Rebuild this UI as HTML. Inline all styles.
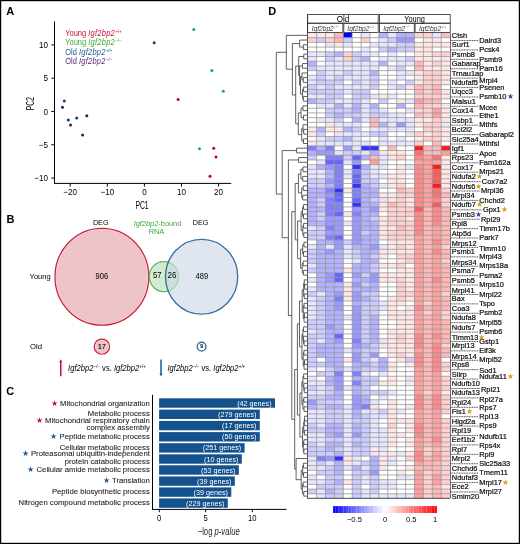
<!DOCTYPE html>
<html><head><meta charset="utf-8"><style>
html,body{margin:0;padding:0;background:#fff;}
svg{display:block;}
text{font-family:"Liberation Sans", sans-serif;}
</style></head><body>
<svg style="will-change:transform" width="520" height="544" viewBox="0 0 520 544" font-family='"Liberation Sans", sans-serif'>
<rect width="520" height="544" fill="#fff"/>
<rect x="0.6" y="0.6" width="518.8" height="542.8" fill="none" stroke="#000" stroke-width="1.2"/>
<text x="6.30" y="14.60" font-size="11" fill="#000" font-weight="bold">A</text>
<text x="6.60" y="223.30" font-size="11" fill="#000" font-weight="bold">B</text>
<text x="6.20" y="394.80" font-size="11" fill="#000" font-weight="bold">C</text>
<text x="268.20" y="14.60" font-size="11" fill="#000" font-weight="bold">D</text>
<line x1="54.50" y1="21.30" x2="54.50" y2="183.90" stroke="#000" stroke-width="1" />
<line x1="54.00" y1="183.40" x2="231.20" y2="183.40" stroke="#000" stroke-width="1" />
<line x1="51.30" y1="44.90" x2="54.50" y2="44.90" stroke="#000" stroke-width="1" />
<text x="0" y="0" font-size="9.0" transform="translate(48.00,48.00) scale(0.9,1)" text-anchor="end">10</text>
<line x1="51.30" y1="78.18" x2="54.50" y2="78.18" stroke="#000" stroke-width="1" />
<text x="0" y="0" font-size="9.0" transform="translate(48.00,81.28) scale(0.9,1)" text-anchor="end">5</text>
<line x1="51.30" y1="111.45" x2="54.50" y2="111.45" stroke="#000" stroke-width="1" />
<text x="0" y="0" font-size="9.0" transform="translate(48.00,114.55) scale(0.9,1)" text-anchor="end">0</text>
<line x1="51.30" y1="144.72" x2="54.50" y2="144.72" stroke="#000" stroke-width="1" />
<text x="0" y="0" font-size="9.0" transform="translate(48.00,147.82) scale(0.9,1)" text-anchor="end">−5</text>
<line x1="51.30" y1="178.00" x2="54.50" y2="178.00" stroke="#000" stroke-width="1" />
<text x="0" y="0" font-size="9.0" transform="translate(48.00,181.10) scale(0.9,1)" text-anchor="end">−10</text>
<line x1="70.20" y1="183.40" x2="70.20" y2="186.60" stroke="#000" stroke-width="1" />
<text x="0" y="0" font-size="9.0" transform="translate(70.20,195.40) scale(0.9,1)" text-anchor="middle">−20</text>
<line x1="107.30" y1="183.40" x2="107.30" y2="186.60" stroke="#000" stroke-width="1" />
<text x="0" y="0" font-size="9.0" transform="translate(107.30,195.40) scale(0.9,1)" text-anchor="middle">−10</text>
<line x1="144.40" y1="183.40" x2="144.40" y2="186.60" stroke="#000" stroke-width="1" />
<text x="0" y="0" font-size="9.0" transform="translate(144.40,195.40) scale(0.9,1)" text-anchor="middle">0</text>
<line x1="181.50" y1="183.40" x2="181.50" y2="186.60" stroke="#000" stroke-width="1" />
<text x="0" y="0" font-size="9.0" transform="translate(181.50,195.40) scale(0.9,1)" text-anchor="middle">10</text>
<line x1="218.60" y1="183.40" x2="218.60" y2="186.60" stroke="#000" stroke-width="1" />
<text x="0" y="0" font-size="9.0" transform="translate(218.60,195.40) scale(0.9,1)" text-anchor="middle">20</text>
<text x="0" y="0" font-size="10" transform="translate(142.00,208.80) scale(0.68,1)" text-anchor="middle">PC1</text>
<text x="0" y="0" font-size="10" transform="translate(33.90,103.60) rotate(-90) scale(0.68,1)" text-anchor="middle">PC2</text>
<text x="0" y="0" transform="translate(65.2,35.60) scale(0.88,1)" font-size="8.5" fill="#c8102e">Young <tspan font-style="italic" letter-spacing="0.3">Igf2bp2</tspan><tspan font-size="4.8" dx="0.5" dy="-3.0">+/+</tspan></text>
<text x="0" y="0" transform="translate(65.2,45.10) scale(0.88,1)" font-size="8.5" fill="#3aaa35">Young <tspan font-style="italic" letter-spacing="0.3">Igf2bp2</tspan><tspan font-size="4.8" dx="0.5" dy="-3.0">−/−</tspan></text>
<text x="0" y="0" transform="translate(65.2,54.60) scale(0.88,1)" font-size="8.5" fill="#1c5a9c">Old <tspan font-style="italic" letter-spacing="0.3">Igf2bp2</tspan><tspan font-size="4.8" dx="0.5" dy="-3.0">+/+</tspan></text>
<text x="0" y="0" transform="translate(65.2,64.10) scale(0.88,1)" font-size="8.5" fill="#5f2479">Old <tspan font-style="italic" letter-spacing="0.3">Igf2bp2</tspan><tspan font-size="4.8" dx="0.5" dy="-3.0">−/−</tspan></text>
<circle cx="154.2" cy="42.7" r="1.5" fill="#0b3f7f"/>
<circle cx="64.3" cy="100.9" r="1.5" fill="#0b3f7f"/>
<circle cx="68.3" cy="120" r="1.5" fill="#0b3f7f"/>
<circle cx="76.7" cy="118.1" r="1.5" fill="#0b3f7f"/>
<circle cx="62.5" cy="107.3" r="1.5" fill="#4a0c5c"/>
<circle cx="86.8" cy="115.8" r="1.5" fill="#4a0c5c"/>
<circle cx="70.5" cy="124.9" r="1.5" fill="#4a0c5c"/>
<circle cx="82.6" cy="135" r="1.5" fill="#4a0c5c"/>
<circle cx="193.8" cy="29.4" r="1.5" fill="#1fae3a"/>
<circle cx="211.9" cy="70.6" r="1.5" fill="#1fae3a"/>
<circle cx="223.3" cy="91.2" r="1.5" fill="#1fae3a"/>
<circle cx="199.5" cy="148.7" r="1.5" fill="#1fae3a"/>
<circle cx="178.1" cy="99.6" r="1.5" fill="#c8001e"/>
<circle cx="213.7" cy="148.3" r="1.5" fill="#c8001e"/>
<circle cx="216" cy="156.9" r="1.5" fill="#c8001e"/>
<circle cx="210" cy="176.2" r="1.5" fill="#c8001e"/>
<text x="0" y="0" font-size="8.0" transform="translate(100.70,224.50) scale(0.9,1)" text-anchor="middle">DEG</text>
<text x="0" y="0" font-size="8.0" transform="translate(200.50,225.10) scale(0.9,1)" text-anchor="middle">DEG</text>
<text x="157.5" y="225.9" font-size="7.4" text-anchor="middle" fill="#3aaa35"><tspan font-style="italic">Igf2bp2</tspan>-bound</text>
<text x="156.50" y="234.10" font-size="7.4" text-anchor="middle" fill="#3aaa35">RNA</text>
<ellipse cx="101.9" cy="276.75" rx="45.95" ry="47.50" fill="#efc3ca"/>
<ellipse cx="101.9" cy="276.75" rx="46.90" ry="48.45" fill="none" stroke="#c8233c" stroke-width="1.3"/>
<ellipse cx="163.9" cy="276.6" rx="13.55" ry="14.10" fill="#d3ebd1"/>
<ellipse cx="163.9" cy="276.6" rx="14.50" ry="15.05" fill="none" stroke="#5dbb63" stroke-width="1.2"/>
<ellipse cx="201.6" cy="276.75" rx="35.15" ry="36.40" fill="#dfe6ef"/>
<clipPath id="gc"><ellipse cx="163.9" cy="276.6" rx="13.55" ry="14.10" /></clipPath>
<ellipse cx="201.6" cy="276.75" rx="35.15" ry="36.40" fill="#cbe0d9" clip-path="url(#gc)"/>
<ellipse cx="163.9" cy="276.6" rx="14.50" ry="15.05" fill="none" stroke="#5dbb63" stroke-width="1.2" stroke-opacity="0.5"/>
<ellipse cx="201.6" cy="276.75" rx="36.10" ry="37.35" fill="none" stroke="#3b6fa0" stroke-width="1.4"/>
<text x="0" y="0" font-size="8.4" transform="translate(101.80,279.40) scale(0.9,1)" text-anchor="middle">906</text>
<text x="0" y="0" font-size="8.4" transform="translate(157.30,277.90) scale(0.92,1)" text-anchor="middle">57</text>
<text x="0" y="0" font-size="8.4" transform="translate(171.90,277.90) scale(0.95,1)" text-anchor="middle">26</text>
<text x="0" y="0" font-size="8.4" transform="translate(201.80,279.40) scale(0.9,1)" text-anchor="middle">489</text>
<text x="29.60" y="278.90" font-size="7.5" textLength="21.1" lengthAdjust="spacingAndGlyphs">Young</text>
<text x="30.00" y="348.90" font-size="7.5" textLength="12.0" lengthAdjust="spacingAndGlyphs">Old</text>
<ellipse cx="101.9" cy="346.65" rx="6.80" ry="6.70" fill="#efc3ca"/>
<ellipse cx="101.9" cy="346.65" rx="7.70" ry="7.60" fill="none" stroke="#c8233c" stroke-width="1.2"/>
<text x="0" y="0" transform="translate(101.9,349.0) scale(0.92,1)" font-size="7.4" text-anchor="middle" stroke="#231f20" stroke-width="0.2">17</text>
<ellipse cx="201.6" cy="346.65" rx="4.40" ry="4.40" fill="#fff" stroke="#3b6fa0" stroke-width="1.4"/>
<text x="201.6" y="348.4" font-size="5.2" text-anchor="middle" stroke="#231f20" stroke-width="0.2">9</text>
<line x1="60.75" y1="361.50" x2="60.75" y2="376.20" stroke="#c8102e" stroke-width="1.5" />
<path d="M59.2,362.2 L60.75,359.2 L62.3,362.2 Z" fill="#c8102e"/>
<line x1="161.00" y1="359.50" x2="161.00" y2="374.00" stroke="#1c5a9c" stroke-width="1.5" />
<path d="M159.45,373.4 L161,376.4 L162.55,373.4 Z" fill="#1c5a9c"/>
<text x="0" y="0" transform="translate(68.1,370.6) scale(0.925,1)" font-size="8.2"><tspan font-style="italic">Igf2bp2</tspan><tspan font-size="4.8" dx="0.3" dy="-3.1">−/−</tspan><tspan dy="3.1"> vs. </tspan><tspan font-style="italic">Igf2bp2</tspan><tspan font-size="4.8" dx="0.3" dy="-3.1">+/+</tspan></text>
<text x="0" y="0" transform="translate(167.5,370.6) scale(0.925,1)" font-size="8.2"><tspan font-style="italic">Igf2bp2</tspan><tspan font-size="4.8" dx="0.3" dy="-3.1">−/−</tspan><tspan dy="3.1"> vs. </tspan><tspan font-style="italic">Igf2bp2</tspan><tspan font-size="4.8" dx="0.3" dy="-3.1">+/+</tspan></text>
<line x1="152.50" y1="394.80" x2="152.50" y2="509.60" stroke="#000" stroke-width="1" />
<line x1="152.00" y1="509.40" x2="286.60" y2="509.40" stroke="#000" stroke-width="1" />
<line x1="159.25" y1="509.40" x2="159.25" y2="512.20" stroke="#000" stroke-width="1" />
<text x="0" y="0" font-size="9.6" transform="translate(159.25,521.30) scale(0.8,1)" text-anchor="middle">0</text>
<line x1="205.60" y1="509.40" x2="205.60" y2="512.20" stroke="#000" stroke-width="1" />
<text x="0" y="0" font-size="9.6" transform="translate(205.60,521.30) scale(0.8,1)" text-anchor="middle">5</text>
<line x1="252.30" y1="509.40" x2="252.30" y2="512.20" stroke="#000" stroke-width="1" />
<text x="0" y="0" font-size="9.6" transform="translate(252.30,521.30) scale(0.8,1)" text-anchor="middle">10</text>
<text x="0" y="0" font-size="10.4" text-anchor="middle" transform="translate(218.7,535.2) scale(0.74,1)" fill="#231f20">−log <tspan font-style="italic">p-value</tspan></text>
<rect x="159.1" y="398.3" width="115.90" height="9.4" fill="#14528e"/>
<text x="271.60" y="405.50" font-size="7.2" text-anchor="end" fill="#fff">(42 genes)</text>
<rect x="159.1" y="409.6" width="100.70" height="9.4" fill="#14528e"/>
<text x="256.40" y="416.80" font-size="7.2" text-anchor="end" fill="#fff">(279 genes)</text>
<rect x="159.1" y="420.9" width="100.70" height="9.4" fill="#14528e"/>
<text x="256.40" y="428.10" font-size="7.2" text-anchor="end" fill="#fff">(17 genes)</text>
<rect x="159.1" y="432.1" width="100.70" height="9.4" fill="#14528e"/>
<text x="256.40" y="439.30" font-size="7.2" text-anchor="end" fill="#fff">(50 genes)</text>
<rect x="159.1" y="443.2" width="85.50" height="9.4" fill="#14528e"/>
<text x="241.20" y="450.40" font-size="7.2" text-anchor="end" fill="#fff">(251 genes)</text>
<rect x="159.1" y="454.3" width="82.70" height="9.4" fill="#14528e"/>
<text x="238.40" y="461.50" font-size="7.2" text-anchor="end" fill="#fff">(10 genes)</text>
<rect x="159.1" y="465.3" width="79.70" height="9.4" fill="#14528e"/>
<text x="235.40" y="472.50" font-size="7.2" text-anchor="end" fill="#fff">(53 genes)</text>
<rect x="159.1" y="476.4" width="75.70" height="9.4" fill="#14528e"/>
<text x="231.40" y="483.60" font-size="7.2" text-anchor="end" fill="#fff">(39 genes)</text>
<rect x="159.1" y="487.4" width="72.20" height="9.4" fill="#14528e"/>
<text x="227.90" y="494.60" font-size="7.2" text-anchor="end" fill="#fff">(39 genes)</text>
<rect x="159.1" y="498.4" width="68.70" height="9.4" fill="#14528e"/>
<text x="224.40" y="505.60" font-size="7.2" text-anchor="end" fill="#fff">(229 genes)</text>
<text x="0" y="0" transform="translate(149.8,405.5)" font-size="7.7" text-anchor="end" fill="#231f20" stroke="#231f20" stroke-width="0.1"><tspan fill="#c8102e" stroke="none">★</tspan> Mitochondrial organization</text>
<text x="0" y="0" transform="translate(149.8,416.0)" font-size="7.7" text-anchor="end" fill="#231f20" stroke="#231f20" stroke-width="0.1">Metabolic process</text>
<text x="0" y="0" transform="translate(149.8,422.9)" font-size="7.7" text-anchor="end" fill="#231f20" stroke="#231f20" stroke-width="0.1"><tspan fill="#c8102e" stroke="none">★</tspan> Mitochondrial respiratory chain</text>
<text x="0" y="0" transform="translate(149.8,429.8)" font-size="7.7" text-anchor="end" fill="#231f20" stroke="#231f20" stroke-width="0.1">complex assembly</text>
<text x="0" y="0" transform="translate(149.8,438.6)" font-size="7.7" text-anchor="end" fill="#231f20" stroke="#231f20" stroke-width="0.1"><tspan fill="#1c5a9c" stroke="none">★</tspan> Peptide metabolic process</text>
<text x="0" y="0" transform="translate(149.8,449.8)" font-size="7.7" text-anchor="end" fill="#231f20" stroke="#231f20" stroke-width="0.1">Cellular metabolic process</text>
<text x="0" y="0" transform="translate(149.8,455.8)" font-size="7.7" text-anchor="end" fill="#231f20" stroke="#231f20" stroke-width="0.1"><tspan fill="#1c5a9c" stroke="none">★</tspan> Proteasomal ubiquitin-independent</text>
<text x="0" y="0" transform="translate(149.8,463.6)" font-size="7.7" text-anchor="end" fill="#231f20" stroke="#231f20" stroke-width="0.1">protein catabolic process</text>
<text x="0" y="0" transform="translate(149.8,471.8)" font-size="7.7" text-anchor="end" fill="#231f20" stroke="#231f20" stroke-width="0.1"><tspan fill="#1c5a9c" stroke="none">★</tspan> Cellular amide metabolic process</text>
<text x="0" y="0" transform="translate(149.8,482.8)" font-size="7.7" text-anchor="end" fill="#231f20" stroke="#231f20" stroke-width="0.1"><tspan fill="#1c5a9c" stroke="none">★</tspan> Translation</text>
<text x="0" y="0" transform="translate(149.8,494.3)" font-size="7.7" text-anchor="end" fill="#231f20" stroke="#231f20" stroke-width="0.1">Peptide biosynthetic process</text>
<text x="0" y="0" transform="translate(149.8,505.1)" font-size="7.7" text-anchor="end" fill="#231f20" stroke="#231f20" stroke-width="0.1">Nitrogen compound metabolic process</text>
<rect x="307.70" y="33.00" width="8.90" height="4.702" fill="#ffe7e7"/>
<rect x="316.60" y="33.00" width="8.90" height="4.702" fill="#ffe7e7"/>
<rect x="325.50" y="33.00" width="8.90" height="4.702" fill="#ffe7e7"/>
<rect x="334.40" y="33.00" width="8.90" height="4.702" fill="#ffb8b8"/>
<rect x="343.30" y="33.00" width="8.90" height="4.702" fill="#0000ff"/>
<rect x="352.20" y="33.00" width="8.90" height="4.702" fill="#ffffff"/>
<rect x="361.10" y="33.00" width="8.90" height="4.702" fill="#e6e6ff"/>
<rect x="370.00" y="33.00" width="8.90" height="4.702" fill="#ffffff"/>
<rect x="378.90" y="33.00" width="8.90" height="4.702" fill="#b2b2ff"/>
<rect x="387.80" y="33.00" width="8.90" height="4.702" fill="#e6e6ff"/>
<rect x="396.70" y="33.00" width="8.90" height="4.702" fill="#b2b2ff"/>
<rect x="405.60" y="33.00" width="8.90" height="4.702" fill="#b2b2ff"/>
<rect x="414.50" y="33.00" width="8.90" height="4.702" fill="#ffd0d0"/>
<rect x="423.40" y="33.00" width="8.90" height="4.702" fill="#ffd0d0"/>
<rect x="432.30" y="33.00" width="8.90" height="4.702" fill="#e6e6ff"/>
<rect x="441.20" y="33.00" width="8.90" height="4.702" fill="#ffb8b8"/>
<rect x="307.70" y="37.70" width="8.90" height="4.702" fill="#ffd0d0"/>
<rect x="316.60" y="37.70" width="8.90" height="4.702" fill="#ccccff"/>
<rect x="325.50" y="37.70" width="8.90" height="4.702" fill="#ffd0d0"/>
<rect x="334.40" y="37.70" width="8.90" height="4.702" fill="#ffb8b8"/>
<rect x="343.30" y="37.70" width="8.90" height="4.702" fill="#ccccff"/>
<rect x="352.20" y="37.70" width="8.90" height="4.702" fill="#ffffff"/>
<rect x="361.10" y="37.70" width="8.90" height="4.702" fill="#ffd0d0"/>
<rect x="370.00" y="37.70" width="8.90" height="4.702" fill="#ffffff"/>
<rect x="378.90" y="37.70" width="8.90" height="4.702" fill="#e6e6ff"/>
<rect x="387.80" y="37.70" width="8.90" height="4.702" fill="#ccccff"/>
<rect x="396.70" y="37.70" width="8.90" height="4.702" fill="#9999ff"/>
<rect x="405.60" y="37.70" width="8.90" height="4.702" fill="#9999ff"/>
<rect x="414.50" y="37.70" width="8.90" height="4.702" fill="#ffffff"/>
<rect x="423.40" y="37.70" width="8.90" height="4.702" fill="#ffe7e7"/>
<rect x="432.30" y="37.70" width="8.90" height="4.702" fill="#ffe7e7"/>
<rect x="441.20" y="37.70" width="8.90" height="4.702" fill="#ffffff"/>
<rect x="307.70" y="42.40" width="8.90" height="4.702" fill="#ffffff"/>
<rect x="316.60" y="42.40" width="8.90" height="4.702" fill="#ffffff"/>
<rect x="325.50" y="42.40" width="8.90" height="4.702" fill="#e6e6ff"/>
<rect x="334.40" y="42.40" width="8.90" height="4.702" fill="#ffe7e7"/>
<rect x="343.30" y="42.40" width="8.90" height="4.702" fill="#e6e6ff"/>
<rect x="352.20" y="42.40" width="8.90" height="4.702" fill="#ffffff"/>
<rect x="361.10" y="42.40" width="8.90" height="4.702" fill="#ffffff"/>
<rect x="370.00" y="42.40" width="8.90" height="4.702" fill="#e6e6ff"/>
<rect x="378.90" y="42.40" width="8.90" height="4.702" fill="#e6e6ff"/>
<rect x="387.80" y="42.40" width="8.90" height="4.702" fill="#e6e6ff"/>
<rect x="396.70" y="42.40" width="8.90" height="4.702" fill="#ccccff"/>
<rect x="405.60" y="42.40" width="8.90" height="4.702" fill="#ccccff"/>
<rect x="414.50" y="42.40" width="8.90" height="4.702" fill="#ffe7e7"/>
<rect x="423.40" y="42.40" width="8.90" height="4.702" fill="#ffe7e7"/>
<rect x="432.30" y="42.40" width="8.90" height="4.702" fill="#ffe7e7"/>
<rect x="441.20" y="42.40" width="8.90" height="4.702" fill="#ffe7e7"/>
<rect x="307.70" y="47.11" width="8.90" height="4.702" fill="#ffffff"/>
<rect x="316.60" y="47.11" width="8.90" height="4.702" fill="#ffffff"/>
<rect x="325.50" y="47.11" width="8.90" height="4.702" fill="#ffffff"/>
<rect x="334.40" y="47.11" width="8.90" height="4.702" fill="#ffffff"/>
<rect x="343.30" y="47.11" width="8.90" height="4.702" fill="#ffffff"/>
<rect x="352.20" y="47.11" width="8.90" height="4.702" fill="#ffffff"/>
<rect x="361.10" y="47.11" width="8.90" height="4.702" fill="#e6e6ff"/>
<rect x="370.00" y="47.11" width="8.90" height="4.702" fill="#ffffff"/>
<rect x="378.90" y="47.11" width="8.90" height="4.702" fill="#ccccff"/>
<rect x="387.80" y="47.11" width="8.90" height="4.702" fill="#b2b2ff"/>
<rect x="396.70" y="47.11" width="8.90" height="4.702" fill="#ccccff"/>
<rect x="405.60" y="47.11" width="8.90" height="4.702" fill="#ccccff"/>
<rect x="414.50" y="47.11" width="8.90" height="4.702" fill="#ffe7e7"/>
<rect x="423.40" y="47.11" width="8.90" height="4.702" fill="#ffe7e7"/>
<rect x="432.30" y="47.11" width="8.90" height="4.702" fill="#ffffff"/>
<rect x="441.20" y="47.11" width="8.90" height="4.702" fill="#ffffff"/>
<rect x="307.70" y="51.81" width="8.90" height="4.702" fill="#e6e6ff"/>
<rect x="316.60" y="51.81" width="8.90" height="4.702" fill="#e6e6ff"/>
<rect x="325.50" y="51.81" width="8.90" height="4.702" fill="#ccccff"/>
<rect x="334.40" y="51.81" width="8.90" height="4.702" fill="#b2b2ff"/>
<rect x="343.30" y="51.81" width="8.90" height="4.702" fill="#ffd0d0"/>
<rect x="352.20" y="51.81" width="8.90" height="4.702" fill="#ccccff"/>
<rect x="361.10" y="51.81" width="8.90" height="4.702" fill="#e6e6ff"/>
<rect x="370.00" y="51.81" width="8.90" height="4.702" fill="#e6e6ff"/>
<rect x="378.90" y="51.81" width="8.90" height="4.702" fill="#ffffff"/>
<rect x="387.80" y="51.81" width="8.90" height="4.702" fill="#e6e6ff"/>
<rect x="396.70" y="51.81" width="8.90" height="4.702" fill="#ffffff"/>
<rect x="405.60" y="51.81" width="8.90" height="4.702" fill="#ffffff"/>
<rect x="414.50" y="51.81" width="8.90" height="4.702" fill="#ffe7e7"/>
<rect x="423.40" y="51.81" width="8.90" height="4.702" fill="#ffe7e7"/>
<rect x="432.30" y="51.81" width="8.90" height="4.702" fill="#ffd0d0"/>
<rect x="441.20" y="51.81" width="8.90" height="4.702" fill="#ffd0d0"/>
<rect x="307.70" y="56.51" width="8.90" height="4.702" fill="#e6e6ff"/>
<rect x="316.60" y="56.51" width="8.90" height="4.702" fill="#ffffff"/>
<rect x="325.50" y="56.51" width="8.90" height="4.702" fill="#ccccff"/>
<rect x="334.40" y="56.51" width="8.90" height="4.702" fill="#e6e6ff"/>
<rect x="343.30" y="56.51" width="8.90" height="4.702" fill="#ffd0d0"/>
<rect x="352.20" y="56.51" width="8.90" height="4.702" fill="#ccccff"/>
<rect x="361.10" y="56.51" width="8.90" height="4.702" fill="#b2b2ff"/>
<rect x="370.00" y="56.51" width="8.90" height="4.702" fill="#ffffff"/>
<rect x="378.90" y="56.51" width="8.90" height="4.702" fill="#e6e6ff"/>
<rect x="387.80" y="56.51" width="8.90" height="4.702" fill="#e6e6ff"/>
<rect x="396.70" y="56.51" width="8.90" height="4.702" fill="#e6e6ff"/>
<rect x="405.60" y="56.51" width="8.90" height="4.702" fill="#ccccff"/>
<rect x="414.50" y="56.51" width="8.90" height="4.702" fill="#ffe7e7"/>
<rect x="423.40" y="56.51" width="8.90" height="4.702" fill="#ffe7e7"/>
<rect x="432.30" y="56.51" width="8.90" height="4.702" fill="#ffe7e7"/>
<rect x="441.20" y="56.51" width="8.90" height="4.702" fill="#ffe7e7"/>
<rect x="307.70" y="61.21" width="8.90" height="4.702" fill="#b2b2ff"/>
<rect x="316.60" y="61.21" width="8.90" height="4.702" fill="#ffffff"/>
<rect x="325.50" y="61.21" width="8.90" height="4.702" fill="#e6e6ff"/>
<rect x="334.40" y="61.21" width="8.90" height="4.702" fill="#e6e6ff"/>
<rect x="343.30" y="61.21" width="8.90" height="4.702" fill="#e6e6ff"/>
<rect x="352.20" y="61.21" width="8.90" height="4.702" fill="#e6e6ff"/>
<rect x="361.10" y="61.21" width="8.90" height="4.702" fill="#e6e6ff"/>
<rect x="370.00" y="61.21" width="8.90" height="4.702" fill="#e6e6ff"/>
<rect x="378.90" y="61.21" width="8.90" height="4.702" fill="#b2b2ff"/>
<rect x="387.80" y="61.21" width="8.90" height="4.702" fill="#ffffff"/>
<rect x="396.70" y="61.21" width="8.90" height="4.702" fill="#e6e6ff"/>
<rect x="405.60" y="61.21" width="8.90" height="4.702" fill="#e6e6ff"/>
<rect x="414.50" y="61.21" width="8.90" height="4.702" fill="#ffb8b8"/>
<rect x="423.40" y="61.21" width="8.90" height="4.702" fill="#ffe7e7"/>
<rect x="432.30" y="61.21" width="8.90" height="4.702" fill="#ffd0d0"/>
<rect x="441.20" y="61.21" width="8.90" height="4.702" fill="#ffe7e7"/>
<rect x="307.70" y="65.91" width="8.90" height="4.702" fill="#ccccff"/>
<rect x="316.60" y="65.91" width="8.90" height="4.702" fill="#e6e6ff"/>
<rect x="325.50" y="65.91" width="8.90" height="4.702" fill="#e6e6ff"/>
<rect x="334.40" y="65.91" width="8.90" height="4.702" fill="#e6e6ff"/>
<rect x="343.30" y="65.91" width="8.90" height="4.702" fill="#e6e6ff"/>
<rect x="352.20" y="65.91" width="8.90" height="4.702" fill="#e6e6ff"/>
<rect x="361.10" y="65.91" width="8.90" height="4.702" fill="#e6e6ff"/>
<rect x="370.00" y="65.91" width="8.90" height="4.702" fill="#e6e6ff"/>
<rect x="378.90" y="65.91" width="8.90" height="4.702" fill="#ffffff"/>
<rect x="387.80" y="65.91" width="8.90" height="4.702" fill="#e6e6ff"/>
<rect x="396.70" y="65.91" width="8.90" height="4.702" fill="#ccccff"/>
<rect x="405.60" y="65.91" width="8.90" height="4.702" fill="#ffffff"/>
<rect x="414.50" y="65.91" width="8.90" height="4.702" fill="#ffb8b8"/>
<rect x="423.40" y="65.91" width="8.90" height="4.702" fill="#ffe7e7"/>
<rect x="432.30" y="65.91" width="8.90" height="4.702" fill="#ffe7e7"/>
<rect x="441.20" y="65.91" width="8.90" height="4.702" fill="#ffe7e7"/>
<rect x="307.70" y="70.62" width="8.90" height="4.702" fill="#ffffff"/>
<rect x="316.60" y="70.62" width="8.90" height="4.702" fill="#ccccff"/>
<rect x="325.50" y="70.62" width="8.90" height="4.702" fill="#e6e6ff"/>
<rect x="334.40" y="70.62" width="8.90" height="4.702" fill="#e6e6ff"/>
<rect x="343.30" y="70.62" width="8.90" height="4.702" fill="#ccccff"/>
<rect x="352.20" y="70.62" width="8.90" height="4.702" fill="#e6e6ff"/>
<rect x="361.10" y="70.62" width="8.90" height="4.702" fill="#e6e6ff"/>
<rect x="370.00" y="70.62" width="8.90" height="4.702" fill="#b2b2ff"/>
<rect x="378.90" y="70.62" width="8.90" height="4.702" fill="#ffffff"/>
<rect x="387.80" y="70.62" width="8.90" height="4.702" fill="#ffffff"/>
<rect x="396.70" y="70.62" width="8.90" height="4.702" fill="#e6e6ff"/>
<rect x="405.60" y="70.62" width="8.90" height="4.702" fill="#e6e6ff"/>
<rect x="414.50" y="70.62" width="8.90" height="4.702" fill="#ffe7e7"/>
<rect x="423.40" y="70.62" width="8.90" height="4.702" fill="#ffd0d0"/>
<rect x="432.30" y="70.62" width="8.90" height="4.702" fill="#ffd0d0"/>
<rect x="441.20" y="70.62" width="8.90" height="4.702" fill="#ffe7e7"/>
<rect x="307.70" y="75.32" width="8.90" height="4.702" fill="#e6e6ff"/>
<rect x="316.60" y="75.32" width="8.90" height="4.702" fill="#ccccff"/>
<rect x="325.50" y="75.32" width="8.90" height="4.702" fill="#e6e6ff"/>
<rect x="334.40" y="75.32" width="8.90" height="4.702" fill="#ccccff"/>
<rect x="343.30" y="75.32" width="8.90" height="4.702" fill="#e6e6ff"/>
<rect x="352.20" y="75.32" width="8.90" height="4.702" fill="#e6e6ff"/>
<rect x="361.10" y="75.32" width="8.90" height="4.702" fill="#e6e6ff"/>
<rect x="370.00" y="75.32" width="8.90" height="4.702" fill="#ccccff"/>
<rect x="378.90" y="75.32" width="8.90" height="4.702" fill="#ffffff"/>
<rect x="387.80" y="75.32" width="8.90" height="4.702" fill="#ffffff"/>
<rect x="396.70" y="75.32" width="8.90" height="4.702" fill="#e6e6ff"/>
<rect x="405.60" y="75.32" width="8.90" height="4.702" fill="#ffffff"/>
<rect x="414.50" y="75.32" width="8.90" height="4.702" fill="#ffe7e7"/>
<rect x="423.40" y="75.32" width="8.90" height="4.702" fill="#ffd0d0"/>
<rect x="432.30" y="75.32" width="8.90" height="4.702" fill="#ffd0d0"/>
<rect x="441.20" y="75.32" width="8.90" height="4.702" fill="#ffe7e7"/>
<rect x="307.70" y="80.02" width="8.90" height="4.702" fill="#e6e6ff"/>
<rect x="316.60" y="80.02" width="8.90" height="4.702" fill="#ccccff"/>
<rect x="325.50" y="80.02" width="8.90" height="4.702" fill="#ccccff"/>
<rect x="334.40" y="80.02" width="8.90" height="4.702" fill="#ccccff"/>
<rect x="343.30" y="80.02" width="8.90" height="4.702" fill="#ffffff"/>
<rect x="352.20" y="80.02" width="8.90" height="4.702" fill="#ccccff"/>
<rect x="361.10" y="80.02" width="8.90" height="4.702" fill="#e6e6ff"/>
<rect x="370.00" y="80.02" width="8.90" height="4.702" fill="#ccccff"/>
<rect x="378.90" y="80.02" width="8.90" height="4.702" fill="#ffffff"/>
<rect x="387.80" y="80.02" width="8.90" height="4.702" fill="#e6e6ff"/>
<rect x="396.70" y="80.02" width="8.90" height="4.702" fill="#ffffff"/>
<rect x="405.60" y="80.02" width="8.90" height="4.702" fill="#ccccff"/>
<rect x="414.50" y="80.02" width="8.90" height="4.702" fill="#ffe7e7"/>
<rect x="423.40" y="80.02" width="8.90" height="4.702" fill="#ffd0d0"/>
<rect x="432.30" y="80.02" width="8.90" height="4.702" fill="#ffd0d0"/>
<rect x="441.20" y="80.02" width="8.90" height="4.702" fill="#ffe7e7"/>
<rect x="307.70" y="84.72" width="8.90" height="4.702" fill="#ccccff"/>
<rect x="316.60" y="84.72" width="8.90" height="4.702" fill="#e6e6ff"/>
<rect x="325.50" y="84.72" width="8.90" height="4.702" fill="#ccccff"/>
<rect x="334.40" y="84.72" width="8.90" height="4.702" fill="#e6e6ff"/>
<rect x="343.30" y="84.72" width="8.90" height="4.702" fill="#e6e6ff"/>
<rect x="352.20" y="84.72" width="8.90" height="4.702" fill="#e6e6ff"/>
<rect x="361.10" y="84.72" width="8.90" height="4.702" fill="#e6e6ff"/>
<rect x="370.00" y="84.72" width="8.90" height="4.702" fill="#ccccff"/>
<rect x="378.90" y="84.72" width="8.90" height="4.702" fill="#ffffff"/>
<rect x="387.80" y="84.72" width="8.90" height="4.702" fill="#e6e6ff"/>
<rect x="396.70" y="84.72" width="8.90" height="4.702" fill="#ccccff"/>
<rect x="405.60" y="84.72" width="8.90" height="4.702" fill="#ffe7e7"/>
<rect x="414.50" y="84.72" width="8.90" height="4.702" fill="#ffb8b8"/>
<rect x="423.40" y="84.72" width="8.90" height="4.702" fill="#ffd0d0"/>
<rect x="432.30" y="84.72" width="8.90" height="4.702" fill="#ffb8b8"/>
<rect x="441.20" y="84.72" width="8.90" height="4.702" fill="#ffffff"/>
<rect x="307.70" y="89.42" width="8.90" height="4.702" fill="#ccccff"/>
<rect x="316.60" y="89.42" width="8.90" height="4.702" fill="#ccccff"/>
<rect x="325.50" y="89.42" width="8.90" height="4.702" fill="#ccccff"/>
<rect x="334.40" y="89.42" width="8.90" height="4.702" fill="#ccccff"/>
<rect x="343.30" y="89.42" width="8.90" height="4.702" fill="#e6e6ff"/>
<rect x="352.20" y="89.42" width="8.90" height="4.702" fill="#ccccff"/>
<rect x="361.10" y="89.42" width="8.90" height="4.702" fill="#ccccff"/>
<rect x="370.00" y="89.42" width="8.90" height="4.702" fill="#ffffff"/>
<rect x="378.90" y="89.42" width="8.90" height="4.702" fill="#ffffff"/>
<rect x="387.80" y="89.42" width="8.90" height="4.702" fill="#ffffff"/>
<rect x="396.70" y="89.42" width="8.90" height="4.702" fill="#ffffff"/>
<rect x="405.60" y="89.42" width="8.90" height="4.702" fill="#ffffff"/>
<rect x="414.50" y="89.42" width="8.90" height="4.702" fill="#ffb8b8"/>
<rect x="423.40" y="89.42" width="8.90" height="4.702" fill="#ffd0d0"/>
<rect x="432.30" y="89.42" width="8.90" height="4.702" fill="#ffb8b8"/>
<rect x="441.20" y="89.42" width="8.90" height="4.702" fill="#ffe7e7"/>
<rect x="307.70" y="94.13" width="8.90" height="4.702" fill="#e6e6ff"/>
<rect x="316.60" y="94.13" width="8.90" height="4.702" fill="#e6e6ff"/>
<rect x="325.50" y="94.13" width="8.90" height="4.702" fill="#ccccff"/>
<rect x="334.40" y="94.13" width="8.90" height="4.702" fill="#ccccff"/>
<rect x="343.30" y="94.13" width="8.90" height="4.702" fill="#ffffff"/>
<rect x="352.20" y="94.13" width="8.90" height="4.702" fill="#ccccff"/>
<rect x="361.10" y="94.13" width="8.90" height="4.702" fill="#ccccff"/>
<rect x="370.00" y="94.13" width="8.90" height="4.702" fill="#e6e6ff"/>
<rect x="378.90" y="94.13" width="8.90" height="4.702" fill="#ffe7e7"/>
<rect x="387.80" y="94.13" width="8.90" height="4.702" fill="#e6e6ff"/>
<rect x="396.70" y="94.13" width="8.90" height="4.702" fill="#ffffff"/>
<rect x="405.60" y="94.13" width="8.90" height="4.702" fill="#ffffff"/>
<rect x="414.50" y="94.13" width="8.90" height="4.702" fill="#ffd0d0"/>
<rect x="423.40" y="94.13" width="8.90" height="4.702" fill="#ffd0d0"/>
<rect x="432.30" y="94.13" width="8.90" height="4.702" fill="#ffd0d0"/>
<rect x="441.20" y="94.13" width="8.90" height="4.702" fill="#ffe7e7"/>
<rect x="307.70" y="98.83" width="8.90" height="4.702" fill="#b2b2ff"/>
<rect x="316.60" y="98.83" width="8.90" height="4.702" fill="#ccccff"/>
<rect x="325.50" y="98.83" width="8.90" height="4.702" fill="#ccccff"/>
<rect x="334.40" y="98.83" width="8.90" height="4.702" fill="#e6e6ff"/>
<rect x="343.30" y="98.83" width="8.90" height="4.702" fill="#e6e6ff"/>
<rect x="352.20" y="98.83" width="8.90" height="4.702" fill="#ccccff"/>
<rect x="361.10" y="98.83" width="8.90" height="4.702" fill="#e6e6ff"/>
<rect x="370.00" y="98.83" width="8.90" height="4.702" fill="#ffffff"/>
<rect x="378.90" y="98.83" width="8.90" height="4.702" fill="#ccccff"/>
<rect x="387.80" y="98.83" width="8.90" height="4.702" fill="#ffffff"/>
<rect x="396.70" y="98.83" width="8.90" height="4.702" fill="#ffe7e7"/>
<rect x="405.60" y="98.83" width="8.90" height="4.702" fill="#e6e6ff"/>
<rect x="414.50" y="98.83" width="8.90" height="4.702" fill="#ffa0a0"/>
<rect x="423.40" y="98.83" width="8.90" height="4.702" fill="#ffb8b8"/>
<rect x="432.30" y="98.83" width="8.90" height="4.702" fill="#ffb8b8"/>
<rect x="441.20" y="98.83" width="8.90" height="4.702" fill="#ffffff"/>
<rect x="307.70" y="103.53" width="8.90" height="4.702" fill="#ffffff"/>
<rect x="316.60" y="103.53" width="8.90" height="4.702" fill="#e6e6ff"/>
<rect x="325.50" y="103.53" width="8.90" height="4.702" fill="#e6e6ff"/>
<rect x="334.40" y="103.53" width="8.90" height="4.702" fill="#b2b2ff"/>
<rect x="343.30" y="103.53" width="8.90" height="4.702" fill="#e6e6ff"/>
<rect x="352.20" y="103.53" width="8.90" height="4.702" fill="#b2b2ff"/>
<rect x="361.10" y="103.53" width="8.90" height="4.702" fill="#e6e6ff"/>
<rect x="370.00" y="103.53" width="8.90" height="4.702" fill="#b2b2ff"/>
<rect x="378.90" y="103.53" width="8.90" height="4.702" fill="#ffffff"/>
<rect x="387.80" y="103.53" width="8.90" height="4.702" fill="#ffffff"/>
<rect x="396.70" y="103.53" width="8.90" height="4.702" fill="#b2b2ff"/>
<rect x="405.60" y="103.53" width="8.90" height="4.702" fill="#ffffff"/>
<rect x="414.50" y="103.53" width="8.90" height="4.702" fill="#ffb8b8"/>
<rect x="423.40" y="103.53" width="8.90" height="4.702" fill="#ffd0d0"/>
<rect x="432.30" y="103.53" width="8.90" height="4.702" fill="#ffd0d0"/>
<rect x="441.20" y="103.53" width="8.90" height="4.702" fill="#ffe7e7"/>
<rect x="307.70" y="108.23" width="8.90" height="4.702" fill="#ffffff"/>
<rect x="316.60" y="108.23" width="8.90" height="4.702" fill="#ffffff"/>
<rect x="325.50" y="108.23" width="8.90" height="4.702" fill="#ccccff"/>
<rect x="334.40" y="108.23" width="8.90" height="4.702" fill="#ccccff"/>
<rect x="343.30" y="108.23" width="8.90" height="4.702" fill="#ccccff"/>
<rect x="352.20" y="108.23" width="8.90" height="4.702" fill="#b2b2ff"/>
<rect x="361.10" y="108.23" width="8.90" height="4.702" fill="#e6e6ff"/>
<rect x="370.00" y="108.23" width="8.90" height="4.702" fill="#ccccff"/>
<rect x="378.90" y="108.23" width="8.90" height="4.702" fill="#e6e6ff"/>
<rect x="387.80" y="108.23" width="8.90" height="4.702" fill="#ffffff"/>
<rect x="396.70" y="108.23" width="8.90" height="4.702" fill="#ffffff"/>
<rect x="405.60" y="108.23" width="8.90" height="4.702" fill="#e6e6ff"/>
<rect x="414.50" y="108.23" width="8.90" height="4.702" fill="#ffd0d0"/>
<rect x="423.40" y="108.23" width="8.90" height="4.702" fill="#ffd0d0"/>
<rect x="432.30" y="108.23" width="8.90" height="4.702" fill="#ffa0a0"/>
<rect x="441.20" y="108.23" width="8.90" height="4.702" fill="#ffe7e7"/>
<rect x="307.70" y="112.93" width="8.90" height="4.702" fill="#ffffff"/>
<rect x="316.60" y="112.93" width="8.90" height="4.702" fill="#ffffff"/>
<rect x="325.50" y="112.93" width="8.90" height="4.702" fill="#ccccff"/>
<rect x="334.40" y="112.93" width="8.90" height="4.702" fill="#b2b2ff"/>
<rect x="343.30" y="112.93" width="8.90" height="4.702" fill="#ccccff"/>
<rect x="352.20" y="112.93" width="8.90" height="4.702" fill="#ccccff"/>
<rect x="361.10" y="112.93" width="8.90" height="4.702" fill="#e6e6ff"/>
<rect x="370.00" y="112.93" width="8.90" height="4.702" fill="#ccccff"/>
<rect x="378.90" y="112.93" width="8.90" height="4.702" fill="#ccccff"/>
<rect x="387.80" y="112.93" width="8.90" height="4.702" fill="#e6e6ff"/>
<rect x="396.70" y="112.93" width="8.90" height="4.702" fill="#e6e6ff"/>
<rect x="405.60" y="112.93" width="8.90" height="4.702" fill="#ffffff"/>
<rect x="414.50" y="112.93" width="8.90" height="4.702" fill="#ffb8b8"/>
<rect x="423.40" y="112.93" width="8.90" height="4.702" fill="#ffd0d0"/>
<rect x="432.30" y="112.93" width="8.90" height="4.702" fill="#ffa0a0"/>
<rect x="441.20" y="112.93" width="8.90" height="4.702" fill="#ffe7e7"/>
<rect x="307.70" y="117.64" width="8.90" height="4.702" fill="#ffffff"/>
<rect x="316.60" y="117.64" width="8.90" height="4.702" fill="#e6e6ff"/>
<rect x="325.50" y="117.64" width="8.90" height="4.702" fill="#e6e6ff"/>
<rect x="334.40" y="117.64" width="8.90" height="4.702" fill="#ccccff"/>
<rect x="343.30" y="117.64" width="8.90" height="4.702" fill="#ffffff"/>
<rect x="352.20" y="117.64" width="8.90" height="4.702" fill="#b2b2ff"/>
<rect x="361.10" y="117.64" width="8.90" height="4.702" fill="#e6e6ff"/>
<rect x="370.00" y="117.64" width="8.90" height="4.702" fill="#ffb8b8"/>
<rect x="378.90" y="117.64" width="8.90" height="4.702" fill="#e6e6ff"/>
<rect x="387.80" y="117.64" width="8.90" height="4.702" fill="#e6e6ff"/>
<rect x="396.70" y="117.64" width="8.90" height="4.702" fill="#e6e6ff"/>
<rect x="405.60" y="117.64" width="8.90" height="4.702" fill="#e6e6ff"/>
<rect x="414.50" y="117.64" width="8.90" height="4.702" fill="#ffe7e7"/>
<rect x="423.40" y="117.64" width="8.90" height="4.702" fill="#ffe7e7"/>
<rect x="432.30" y="117.64" width="8.90" height="4.702" fill="#ffd0d0"/>
<rect x="441.20" y="117.64" width="8.90" height="4.702" fill="#ffe7e7"/>
<rect x="307.70" y="122.34" width="8.90" height="4.702" fill="#ffffff"/>
<rect x="316.60" y="122.34" width="8.90" height="4.702" fill="#ffffff"/>
<rect x="325.50" y="122.34" width="8.90" height="4.702" fill="#ffe7e7"/>
<rect x="334.40" y="122.34" width="8.90" height="4.702" fill="#e6e6ff"/>
<rect x="343.30" y="122.34" width="8.90" height="4.702" fill="#e6e6ff"/>
<rect x="352.20" y="122.34" width="8.90" height="4.702" fill="#e6e6ff"/>
<rect x="361.10" y="122.34" width="8.90" height="4.702" fill="#ffffff"/>
<rect x="370.00" y="122.34" width="8.90" height="4.702" fill="#ffb8b8"/>
<rect x="378.90" y="122.34" width="8.90" height="4.702" fill="#b2b2ff"/>
<rect x="387.80" y="122.34" width="8.90" height="4.702" fill="#e6e6ff"/>
<rect x="396.70" y="122.34" width="8.90" height="4.702" fill="#9999ff"/>
<rect x="405.60" y="122.34" width="8.90" height="4.702" fill="#e6e6ff"/>
<rect x="414.50" y="122.34" width="8.90" height="4.702" fill="#ffe7e7"/>
<rect x="423.40" y="122.34" width="8.90" height="4.702" fill="#ffd0d0"/>
<rect x="432.30" y="122.34" width="8.90" height="4.702" fill="#ffd0d0"/>
<rect x="441.20" y="122.34" width="8.90" height="4.702" fill="#e6e6ff"/>
<rect x="307.70" y="127.04" width="8.90" height="4.702" fill="#ffe7e7"/>
<rect x="316.60" y="127.04" width="8.90" height="4.702" fill="#b2b2ff"/>
<rect x="325.50" y="127.04" width="8.90" height="4.702" fill="#ffe7e7"/>
<rect x="334.40" y="127.04" width="8.90" height="4.702" fill="#ffe7e7"/>
<rect x="343.30" y="127.04" width="8.90" height="4.702" fill="#b2b2ff"/>
<rect x="352.20" y="127.04" width="8.90" height="4.702" fill="#ccccff"/>
<rect x="361.10" y="127.04" width="8.90" height="4.702" fill="#ffffff"/>
<rect x="370.00" y="127.04" width="8.90" height="4.702" fill="#e6e6ff"/>
<rect x="378.90" y="127.04" width="8.90" height="4.702" fill="#e6e6ff"/>
<rect x="387.80" y="127.04" width="8.90" height="4.702" fill="#e6e6ff"/>
<rect x="396.70" y="127.04" width="8.90" height="4.702" fill="#e6e6ff"/>
<rect x="405.60" y="127.04" width="8.90" height="4.702" fill="#e6e6ff"/>
<rect x="414.50" y="127.04" width="8.90" height="4.702" fill="#ffffff"/>
<rect x="423.40" y="127.04" width="8.90" height="4.702" fill="#ffd0d0"/>
<rect x="432.30" y="127.04" width="8.90" height="4.702" fill="#ffd0d0"/>
<rect x="441.20" y="127.04" width="8.90" height="4.702" fill="#ffe7e7"/>
<rect x="307.70" y="131.74" width="8.90" height="4.702" fill="#ffe7e7"/>
<rect x="316.60" y="131.74" width="8.90" height="4.702" fill="#ccccff"/>
<rect x="325.50" y="131.74" width="8.90" height="4.702" fill="#ffffff"/>
<rect x="334.40" y="131.74" width="8.90" height="4.702" fill="#e6e6ff"/>
<rect x="343.30" y="131.74" width="8.90" height="4.702" fill="#e6e6ff"/>
<rect x="352.20" y="131.74" width="8.90" height="4.702" fill="#e6e6ff"/>
<rect x="361.10" y="131.74" width="8.90" height="4.702" fill="#e6e6ff"/>
<rect x="370.00" y="131.74" width="8.90" height="4.702" fill="#ccccff"/>
<rect x="378.90" y="131.74" width="8.90" height="4.702" fill="#ccccff"/>
<rect x="387.80" y="131.74" width="8.90" height="4.702" fill="#ffffff"/>
<rect x="396.70" y="131.74" width="8.90" height="4.702" fill="#ffffff"/>
<rect x="405.60" y="131.74" width="8.90" height="4.702" fill="#e6e6ff"/>
<rect x="414.50" y="131.74" width="8.90" height="4.702" fill="#ffd0d0"/>
<rect x="423.40" y="131.74" width="8.90" height="4.702" fill="#ffe7e7"/>
<rect x="432.30" y="131.74" width="8.90" height="4.702" fill="#ffd0d0"/>
<rect x="441.20" y="131.74" width="8.90" height="4.702" fill="#ffe7e7"/>
<rect x="307.70" y="136.44" width="8.90" height="4.702" fill="#ffffff"/>
<rect x="316.60" y="136.44" width="8.90" height="4.702" fill="#e6e6ff"/>
<rect x="325.50" y="136.44" width="8.90" height="4.702" fill="#ccccff"/>
<rect x="334.40" y="136.44" width="8.90" height="4.702" fill="#ccccff"/>
<rect x="343.30" y="136.44" width="8.90" height="4.702" fill="#b2b2ff"/>
<rect x="352.20" y="136.44" width="8.90" height="4.702" fill="#e6e6ff"/>
<rect x="361.10" y="136.44" width="8.90" height="4.702" fill="#ffffff"/>
<rect x="370.00" y="136.44" width="8.90" height="4.702" fill="#ffffff"/>
<rect x="378.90" y="136.44" width="8.90" height="4.702" fill="#e6e6ff"/>
<rect x="387.80" y="136.44" width="8.90" height="4.702" fill="#ffffff"/>
<rect x="396.70" y="136.44" width="8.90" height="4.702" fill="#e6e6ff"/>
<rect x="405.60" y="136.44" width="8.90" height="4.702" fill="#ffffff"/>
<rect x="414.50" y="136.44" width="8.90" height="4.702" fill="#ffe7e7"/>
<rect x="423.40" y="136.44" width="8.90" height="4.702" fill="#ffd0d0"/>
<rect x="432.30" y="136.44" width="8.90" height="4.702" fill="#ffd0d0"/>
<rect x="441.20" y="136.44" width="8.90" height="4.702" fill="#ffe7e7"/>
<rect x="307.70" y="141.15" width="8.90" height="4.702" fill="#ffe7e7"/>
<rect x="316.60" y="141.15" width="8.90" height="4.702" fill="#e6e6ff"/>
<rect x="325.50" y="141.15" width="8.90" height="4.702" fill="#e6e6ff"/>
<rect x="334.40" y="141.15" width="8.90" height="4.702" fill="#e6e6ff"/>
<rect x="343.30" y="141.15" width="8.90" height="4.702" fill="#e6e6ff"/>
<rect x="352.20" y="141.15" width="8.90" height="4.702" fill="#e6e6ff"/>
<rect x="361.10" y="141.15" width="8.90" height="4.702" fill="#e6e6ff"/>
<rect x="370.00" y="141.15" width="8.90" height="4.702" fill="#ffffff"/>
<rect x="378.90" y="141.15" width="8.90" height="4.702" fill="#e6e6ff"/>
<rect x="387.80" y="141.15" width="8.90" height="4.702" fill="#e6e6ff"/>
<rect x="396.70" y="141.15" width="8.90" height="4.702" fill="#e6e6ff"/>
<rect x="405.60" y="141.15" width="8.90" height="4.702" fill="#e6e6ff"/>
<rect x="414.50" y="141.15" width="8.90" height="4.702" fill="#ffd0d0"/>
<rect x="423.40" y="141.15" width="8.90" height="4.702" fill="#ffffff"/>
<rect x="432.30" y="141.15" width="8.90" height="4.702" fill="#ffb8b8"/>
<rect x="441.20" y="141.15" width="8.90" height="4.702" fill="#ffffff"/>
<rect x="307.70" y="145.85" width="8.90" height="4.702" fill="#8080ff"/>
<rect x="316.60" y="145.85" width="8.90" height="4.702" fill="#b2b2ff"/>
<rect x="325.50" y="145.85" width="8.90" height="4.702" fill="#8080ff"/>
<rect x="334.40" y="145.85" width="8.90" height="4.702" fill="#ffffff"/>
<rect x="343.30" y="145.85" width="8.90" height="4.702" fill="#9999ff"/>
<rect x="352.20" y="145.85" width="8.90" height="4.702" fill="#e6e6ff"/>
<rect x="361.10" y="145.85" width="8.90" height="4.702" fill="#3333ff"/>
<rect x="370.00" y="145.85" width="8.90" height="4.702" fill="#3333ff"/>
<rect x="378.90" y="145.85" width="8.90" height="4.702" fill="#ffffff"/>
<rect x="387.80" y="145.85" width="8.90" height="4.702" fill="#ffb8b8"/>
<rect x="396.70" y="145.85" width="8.90" height="4.702" fill="#ffffff"/>
<rect x="405.60" y="145.85" width="8.90" height="4.702" fill="#ffffff"/>
<rect x="414.50" y="145.85" width="8.90" height="4.702" fill="#ff1919"/>
<rect x="423.40" y="145.85" width="8.90" height="4.702" fill="#ffb8b8"/>
<rect x="432.30" y="145.85" width="8.90" height="4.702" fill="#ffb8b8"/>
<rect x="441.20" y="145.85" width="8.90" height="4.702" fill="#ff1919"/>
<rect x="307.70" y="150.55" width="8.90" height="4.702" fill="#b2b2ff"/>
<rect x="316.60" y="150.55" width="8.90" height="4.702" fill="#9999ff"/>
<rect x="325.50" y="150.55" width="8.90" height="4.702" fill="#9999ff"/>
<rect x="334.40" y="150.55" width="8.90" height="4.702" fill="#e6e6ff"/>
<rect x="343.30" y="150.55" width="8.90" height="4.702" fill="#ccccff"/>
<rect x="352.20" y="150.55" width="8.90" height="4.702" fill="#ccccff"/>
<rect x="361.10" y="150.55" width="8.90" height="4.702" fill="#e6e6ff"/>
<rect x="370.00" y="150.55" width="8.90" height="4.702" fill="#b2b2ff"/>
<rect x="378.90" y="150.55" width="8.90" height="4.702" fill="#ffe7e7"/>
<rect x="387.80" y="150.55" width="8.90" height="4.702" fill="#ffe7e7"/>
<rect x="396.70" y="150.55" width="8.90" height="4.702" fill="#ffe7e7"/>
<rect x="405.60" y="150.55" width="8.90" height="4.702" fill="#ffffff"/>
<rect x="414.50" y="150.55" width="8.90" height="4.702" fill="#ff7171"/>
<rect x="423.40" y="150.55" width="8.90" height="4.702" fill="#ffb8b8"/>
<rect x="432.30" y="150.55" width="8.90" height="4.702" fill="#ffb8b8"/>
<rect x="441.20" y="150.55" width="8.90" height="4.702" fill="#ffa0a0"/>
<rect x="307.70" y="155.25" width="8.90" height="4.702" fill="#ccccff"/>
<rect x="316.60" y="155.25" width="8.90" height="4.702" fill="#ffffff"/>
<rect x="325.50" y="155.25" width="8.90" height="4.702" fill="#8080ff"/>
<rect x="334.40" y="155.25" width="8.90" height="4.702" fill="#8080ff"/>
<rect x="343.30" y="155.25" width="8.90" height="4.702" fill="#ccccff"/>
<rect x="352.20" y="155.25" width="8.90" height="4.702" fill="#6666ff"/>
<rect x="361.10" y="155.25" width="8.90" height="4.702" fill="#b2b2ff"/>
<rect x="370.00" y="155.25" width="8.90" height="4.702" fill="#ffb8b8"/>
<rect x="378.90" y="155.25" width="8.90" height="4.702" fill="#e6e6ff"/>
<rect x="387.80" y="155.25" width="8.90" height="4.702" fill="#ffe7e7"/>
<rect x="396.70" y="155.25" width="8.90" height="4.702" fill="#ffd0d0"/>
<rect x="405.60" y="155.25" width="8.90" height="4.702" fill="#ffffff"/>
<rect x="414.50" y="155.25" width="8.90" height="4.702" fill="#ff8888"/>
<rect x="423.40" y="155.25" width="8.90" height="4.702" fill="#ffa0a0"/>
<rect x="432.30" y="155.25" width="8.90" height="4.702" fill="#ff7171"/>
<rect x="441.20" y="155.25" width="8.90" height="4.702" fill="#ffe7e7"/>
<rect x="307.70" y="159.95" width="8.90" height="4.702" fill="#ffffff"/>
<rect x="316.60" y="159.95" width="8.90" height="4.702" fill="#e6e6ff"/>
<rect x="325.50" y="159.95" width="8.90" height="4.702" fill="#6666ff"/>
<rect x="334.40" y="159.95" width="8.90" height="4.702" fill="#6666ff"/>
<rect x="343.30" y="159.95" width="8.90" height="4.702" fill="#e6e6ff"/>
<rect x="352.20" y="159.95" width="8.90" height="4.702" fill="#9999ff"/>
<rect x="361.10" y="159.95" width="8.90" height="4.702" fill="#ffffff"/>
<rect x="370.00" y="159.95" width="8.90" height="4.702" fill="#ffa0a0"/>
<rect x="378.90" y="159.95" width="8.90" height="4.702" fill="#e6e6ff"/>
<rect x="387.80" y="159.95" width="8.90" height="4.702" fill="#ffffff"/>
<rect x="396.70" y="159.95" width="8.90" height="4.702" fill="#ffffff"/>
<rect x="405.60" y="159.95" width="8.90" height="4.702" fill="#ffffff"/>
<rect x="414.50" y="159.95" width="8.90" height="4.702" fill="#ffa0a0"/>
<rect x="423.40" y="159.95" width="8.90" height="4.702" fill="#ffa0a0"/>
<rect x="432.30" y="159.95" width="8.90" height="4.702" fill="#ffa0a0"/>
<rect x="441.20" y="159.95" width="8.90" height="4.702" fill="#ffe7e7"/>
<rect x="307.70" y="164.66" width="8.90" height="4.702" fill="#e6e6ff"/>
<rect x="316.60" y="164.66" width="8.90" height="4.702" fill="#b2b2ff"/>
<rect x="325.50" y="164.66" width="8.90" height="4.702" fill="#9999ff"/>
<rect x="334.40" y="164.66" width="8.90" height="4.702" fill="#8080ff"/>
<rect x="343.30" y="164.66" width="8.90" height="4.702" fill="#ffffff"/>
<rect x="352.20" y="164.66" width="8.90" height="4.702" fill="#3333ff"/>
<rect x="361.10" y="164.66" width="8.90" height="4.702" fill="#b2b2ff"/>
<rect x="370.00" y="164.66" width="8.90" height="4.702" fill="#e6e6ff"/>
<rect x="378.90" y="164.66" width="8.90" height="4.702" fill="#e6e6ff"/>
<rect x="387.80" y="164.66" width="8.90" height="4.702" fill="#ffffff"/>
<rect x="396.70" y="164.66" width="8.90" height="4.702" fill="#ffe7e7"/>
<rect x="405.60" y="164.66" width="8.90" height="4.702" fill="#e6e6ff"/>
<rect x="414.50" y="164.66" width="8.90" height="4.702" fill="#ff8888"/>
<rect x="423.40" y="164.66" width="8.90" height="4.702" fill="#ffa0a0"/>
<rect x="432.30" y="164.66" width="8.90" height="4.702" fill="#ff1919"/>
<rect x="441.20" y="164.66" width="8.90" height="4.702" fill="#ffe7e7"/>
<rect x="307.70" y="169.36" width="8.90" height="4.702" fill="#e6e6ff"/>
<rect x="316.60" y="169.36" width="8.90" height="4.702" fill="#e6e6ff"/>
<rect x="325.50" y="169.36" width="8.90" height="4.702" fill="#b2b2ff"/>
<rect x="334.40" y="169.36" width="8.90" height="4.702" fill="#8080ff"/>
<rect x="343.30" y="169.36" width="8.90" height="4.702" fill="#e6e6ff"/>
<rect x="352.20" y="169.36" width="8.90" height="4.702" fill="#8080ff"/>
<rect x="361.10" y="169.36" width="8.90" height="4.702" fill="#ccccff"/>
<rect x="370.00" y="169.36" width="8.90" height="4.702" fill="#e6e6ff"/>
<rect x="378.90" y="169.36" width="8.90" height="4.702" fill="#ffffff"/>
<rect x="387.80" y="169.36" width="8.90" height="4.702" fill="#ffffff"/>
<rect x="396.70" y="169.36" width="8.90" height="4.702" fill="#ffe7e7"/>
<rect x="405.60" y="169.36" width="8.90" height="4.702" fill="#ffffff"/>
<rect x="414.50" y="169.36" width="8.90" height="4.702" fill="#ff8888"/>
<rect x="423.40" y="169.36" width="8.90" height="4.702" fill="#ffa0a0"/>
<rect x="432.30" y="169.36" width="8.90" height="4.702" fill="#ff5959"/>
<rect x="441.20" y="169.36" width="8.90" height="4.702" fill="#ffe7e7"/>
<rect x="307.70" y="174.06" width="8.90" height="4.702" fill="#e6e6ff"/>
<rect x="316.60" y="174.06" width="8.90" height="4.702" fill="#e6e6ff"/>
<rect x="325.50" y="174.06" width="8.90" height="4.702" fill="#b2b2ff"/>
<rect x="334.40" y="174.06" width="8.90" height="4.702" fill="#8080ff"/>
<rect x="343.30" y="174.06" width="8.90" height="4.702" fill="#e6e6ff"/>
<rect x="352.20" y="174.06" width="8.90" height="4.702" fill="#6666ff"/>
<rect x="361.10" y="174.06" width="8.90" height="4.702" fill="#ccccff"/>
<rect x="370.00" y="174.06" width="8.90" height="4.702" fill="#e6e6ff"/>
<rect x="378.90" y="174.06" width="8.90" height="4.702" fill="#e6e6ff"/>
<rect x="387.80" y="174.06" width="8.90" height="4.702" fill="#ffe7e7"/>
<rect x="396.70" y="174.06" width="8.90" height="4.702" fill="#ffe7e7"/>
<rect x="405.60" y="174.06" width="8.90" height="4.702" fill="#ffffff"/>
<rect x="414.50" y="174.06" width="8.90" height="4.702" fill="#ff8888"/>
<rect x="423.40" y="174.06" width="8.90" height="4.702" fill="#ffa0a0"/>
<rect x="432.30" y="174.06" width="8.90" height="4.702" fill="#ff5959"/>
<rect x="441.20" y="174.06" width="8.90" height="4.702" fill="#ffe7e7"/>
<rect x="307.70" y="178.76" width="8.90" height="4.702" fill="#ccccff"/>
<rect x="316.60" y="178.76" width="8.90" height="4.702" fill="#ccccff"/>
<rect x="325.50" y="178.76" width="8.90" height="4.702" fill="#9999ff"/>
<rect x="334.40" y="178.76" width="8.90" height="4.702" fill="#8080ff"/>
<rect x="343.30" y="178.76" width="8.90" height="4.702" fill="#ffffff"/>
<rect x="352.20" y="178.76" width="8.90" height="4.702" fill="#6666ff"/>
<rect x="361.10" y="178.76" width="8.90" height="4.702" fill="#ccccff"/>
<rect x="370.00" y="178.76" width="8.90" height="4.702" fill="#ccccff"/>
<rect x="378.90" y="178.76" width="8.90" height="4.702" fill="#ffffff"/>
<rect x="387.80" y="178.76" width="8.90" height="4.702" fill="#ffe7e7"/>
<rect x="396.70" y="178.76" width="8.90" height="4.702" fill="#ffe7e7"/>
<rect x="405.60" y="178.76" width="8.90" height="4.702" fill="#ffffff"/>
<rect x="414.50" y="178.76" width="8.90" height="4.702" fill="#ff8888"/>
<rect x="423.40" y="178.76" width="8.90" height="4.702" fill="#ffa0a0"/>
<rect x="432.30" y="178.76" width="8.90" height="4.702" fill="#ff5959"/>
<rect x="441.20" y="178.76" width="8.90" height="4.702" fill="#ffe7e7"/>
<rect x="307.70" y="183.46" width="8.90" height="4.702" fill="#ccccff"/>
<rect x="316.60" y="183.46" width="8.90" height="4.702" fill="#ccccff"/>
<rect x="325.50" y="183.46" width="8.90" height="4.702" fill="#b2b2ff"/>
<rect x="334.40" y="183.46" width="8.90" height="4.702" fill="#8080ff"/>
<rect x="343.30" y="183.46" width="8.90" height="4.702" fill="#ffffff"/>
<rect x="352.20" y="183.46" width="8.90" height="4.702" fill="#3333ff"/>
<rect x="361.10" y="183.46" width="8.90" height="4.702" fill="#b2b2ff"/>
<rect x="370.00" y="183.46" width="8.90" height="4.702" fill="#ccccff"/>
<rect x="378.90" y="183.46" width="8.90" height="4.702" fill="#e6e6ff"/>
<rect x="387.80" y="183.46" width="8.90" height="4.702" fill="#ffe7e7"/>
<rect x="396.70" y="183.46" width="8.90" height="4.702" fill="#ffd0d0"/>
<rect x="405.60" y="183.46" width="8.90" height="4.702" fill="#ffffff"/>
<rect x="414.50" y="183.46" width="8.90" height="4.702" fill="#ff8888"/>
<rect x="423.40" y="183.46" width="8.90" height="4.702" fill="#ffa0a0"/>
<rect x="432.30" y="183.46" width="8.90" height="4.702" fill="#ff1919"/>
<rect x="441.20" y="183.46" width="8.90" height="4.702" fill="#ffe7e7"/>
<rect x="307.70" y="188.17" width="8.90" height="4.702" fill="#b2b2ff"/>
<rect x="316.60" y="188.17" width="8.90" height="4.702" fill="#b2b2ff"/>
<rect x="325.50" y="188.17" width="8.90" height="4.702" fill="#8080ff"/>
<rect x="334.40" y="188.17" width="8.90" height="4.702" fill="#3333ff"/>
<rect x="343.30" y="188.17" width="8.90" height="4.702" fill="#ffe7e7"/>
<rect x="352.20" y="188.17" width="8.90" height="4.702" fill="#8080ff"/>
<rect x="361.10" y="188.17" width="8.90" height="4.702" fill="#b2b2ff"/>
<rect x="370.00" y="188.17" width="8.90" height="4.702" fill="#b2b2ff"/>
<rect x="378.90" y="188.17" width="8.90" height="4.702" fill="#ffffff"/>
<rect x="387.80" y="188.17" width="8.90" height="4.702" fill="#ffffff"/>
<rect x="396.70" y="188.17" width="8.90" height="4.702" fill="#ffb8b8"/>
<rect x="405.60" y="188.17" width="8.90" height="4.702" fill="#ffd0d0"/>
<rect x="414.50" y="188.17" width="8.90" height="4.702" fill="#ff8888"/>
<rect x="423.40" y="188.17" width="8.90" height="4.702" fill="#ffa0a0"/>
<rect x="432.30" y="188.17" width="8.90" height="4.702" fill="#ff7171"/>
<rect x="441.20" y="188.17" width="8.90" height="4.702" fill="#ffd0d0"/>
<rect x="307.70" y="192.87" width="8.90" height="4.702" fill="#b2b2ff"/>
<rect x="316.60" y="192.87" width="8.90" height="4.702" fill="#b2b2ff"/>
<rect x="325.50" y="192.87" width="8.90" height="4.702" fill="#9999ff"/>
<rect x="334.40" y="192.87" width="8.90" height="4.702" fill="#6666ff"/>
<rect x="343.30" y="192.87" width="8.90" height="4.702" fill="#ffffff"/>
<rect x="352.20" y="192.87" width="8.90" height="4.702" fill="#8080ff"/>
<rect x="361.10" y="192.87" width="8.90" height="4.702" fill="#b2b2ff"/>
<rect x="370.00" y="192.87" width="8.90" height="4.702" fill="#b2b2ff"/>
<rect x="378.90" y="192.87" width="8.90" height="4.702" fill="#ffe7e7"/>
<rect x="387.80" y="192.87" width="8.90" height="4.702" fill="#ffe7e7"/>
<rect x="396.70" y="192.87" width="8.90" height="4.702" fill="#ffd0d0"/>
<rect x="405.60" y="192.87" width="8.90" height="4.702" fill="#ffd0d0"/>
<rect x="414.50" y="192.87" width="8.90" height="4.702" fill="#ff8888"/>
<rect x="423.40" y="192.87" width="8.90" height="4.702" fill="#ffa0a0"/>
<rect x="432.30" y="192.87" width="8.90" height="4.702" fill="#ff7171"/>
<rect x="441.20" y="192.87" width="8.90" height="4.702" fill="#ffb8b8"/>
<rect x="307.70" y="197.57" width="8.90" height="4.702" fill="#b2b2ff"/>
<rect x="316.60" y="197.57" width="8.90" height="4.702" fill="#ccccff"/>
<rect x="325.50" y="197.57" width="8.90" height="4.702" fill="#8080ff"/>
<rect x="334.40" y="197.57" width="8.90" height="4.702" fill="#6666ff"/>
<rect x="343.30" y="197.57" width="8.90" height="4.702" fill="#ffffff"/>
<rect x="352.20" y="197.57" width="8.90" height="4.702" fill="#6666ff"/>
<rect x="361.10" y="197.57" width="8.90" height="4.702" fill="#b2b2ff"/>
<rect x="370.00" y="197.57" width="8.90" height="4.702" fill="#ccccff"/>
<rect x="378.90" y="197.57" width="8.90" height="4.702" fill="#e6e6ff"/>
<rect x="387.80" y="197.57" width="8.90" height="4.702" fill="#ffe7e7"/>
<rect x="396.70" y="197.57" width="8.90" height="4.702" fill="#ffd0d0"/>
<rect x="405.60" y="197.57" width="8.90" height="4.702" fill="#ffe7e7"/>
<rect x="414.50" y="197.57" width="8.90" height="4.702" fill="#ff8888"/>
<rect x="423.40" y="197.57" width="8.90" height="4.702" fill="#ffa0a0"/>
<rect x="432.30" y="197.57" width="8.90" height="4.702" fill="#ff8888"/>
<rect x="441.20" y="197.57" width="8.90" height="4.702" fill="#ffd0d0"/>
<rect x="307.70" y="202.27" width="8.90" height="4.702" fill="#b2b2ff"/>
<rect x="316.60" y="202.27" width="8.90" height="4.702" fill="#ccccff"/>
<rect x="325.50" y="202.27" width="8.90" height="4.702" fill="#8080ff"/>
<rect x="334.40" y="202.27" width="8.90" height="4.702" fill="#8080ff"/>
<rect x="343.30" y="202.27" width="8.90" height="4.702" fill="#ffffff"/>
<rect x="352.20" y="202.27" width="8.90" height="4.702" fill="#3333ff"/>
<rect x="361.10" y="202.27" width="8.90" height="4.702" fill="#b2b2ff"/>
<rect x="370.00" y="202.27" width="8.90" height="4.702" fill="#b2b2ff"/>
<rect x="378.90" y="202.27" width="8.90" height="4.702" fill="#ffe7e7"/>
<rect x="387.80" y="202.27" width="8.90" height="4.702" fill="#ffb8b8"/>
<rect x="396.70" y="202.27" width="8.90" height="4.702" fill="#ffd0d0"/>
<rect x="405.60" y="202.27" width="8.90" height="4.702" fill="#ffe7e7"/>
<rect x="414.50" y="202.27" width="8.90" height="4.702" fill="#ff8888"/>
<rect x="423.40" y="202.27" width="8.90" height="4.702" fill="#ffa0a0"/>
<rect x="432.30" y="202.27" width="8.90" height="4.702" fill="#ff5959"/>
<rect x="441.20" y="202.27" width="8.90" height="4.702" fill="#ffd0d0"/>
<rect x="307.70" y="206.97" width="8.90" height="4.702" fill="#b2b2ff"/>
<rect x="316.60" y="206.97" width="8.90" height="4.702" fill="#b2b2ff"/>
<rect x="325.50" y="206.97" width="8.90" height="4.702" fill="#8080ff"/>
<rect x="334.40" y="206.97" width="8.90" height="4.702" fill="#8080ff"/>
<rect x="343.30" y="206.97" width="8.90" height="4.702" fill="#ffffff"/>
<rect x="352.20" y="206.97" width="8.90" height="4.702" fill="#9999ff"/>
<rect x="361.10" y="206.97" width="8.90" height="4.702" fill="#b2b2ff"/>
<rect x="370.00" y="206.97" width="8.90" height="4.702" fill="#9999ff"/>
<rect x="378.90" y="206.97" width="8.90" height="4.702" fill="#ffe7e7"/>
<rect x="387.80" y="206.97" width="8.90" height="4.702" fill="#ffd0d0"/>
<rect x="396.70" y="206.97" width="8.90" height="4.702" fill="#ffd0d0"/>
<rect x="405.60" y="206.97" width="8.90" height="4.702" fill="#ffd0d0"/>
<rect x="414.50" y="206.97" width="8.90" height="4.702" fill="#ff5959"/>
<rect x="423.40" y="206.97" width="8.90" height="4.702" fill="#ffb8b8"/>
<rect x="432.30" y="206.97" width="8.90" height="4.702" fill="#ff8888"/>
<rect x="441.20" y="206.97" width="8.90" height="4.702" fill="#ffb8b8"/>
<rect x="307.70" y="211.68" width="8.90" height="4.702" fill="#b2b2ff"/>
<rect x="316.60" y="211.68" width="8.90" height="4.702" fill="#ccccff"/>
<rect x="325.50" y="211.68" width="8.90" height="4.702" fill="#8080ff"/>
<rect x="334.40" y="211.68" width="8.90" height="4.702" fill="#6666ff"/>
<rect x="343.30" y="211.68" width="8.90" height="4.702" fill="#ffe7e7"/>
<rect x="352.20" y="211.68" width="8.90" height="4.702" fill="#8080ff"/>
<rect x="361.10" y="211.68" width="8.90" height="4.702" fill="#b2b2ff"/>
<rect x="370.00" y="211.68" width="8.90" height="4.702" fill="#b2b2ff"/>
<rect x="378.90" y="211.68" width="8.90" height="4.702" fill="#ffffff"/>
<rect x="387.80" y="211.68" width="8.90" height="4.702" fill="#ffd0d0"/>
<rect x="396.70" y="211.68" width="8.90" height="4.702" fill="#ffd0d0"/>
<rect x="405.60" y="211.68" width="8.90" height="4.702" fill="#ffd0d0"/>
<rect x="414.50" y="211.68" width="8.90" height="4.702" fill="#ff8888"/>
<rect x="423.40" y="211.68" width="8.90" height="4.702" fill="#ffb8b8"/>
<rect x="432.30" y="211.68" width="8.90" height="4.702" fill="#ff8888"/>
<rect x="441.20" y="211.68" width="8.90" height="4.702" fill="#ffb8b8"/>
<rect x="307.70" y="216.38" width="8.90" height="4.702" fill="#b2b2ff"/>
<rect x="316.60" y="216.38" width="8.90" height="4.702" fill="#ccccff"/>
<rect x="325.50" y="216.38" width="8.90" height="4.702" fill="#9999ff"/>
<rect x="334.40" y="216.38" width="8.90" height="4.702" fill="#9999ff"/>
<rect x="343.30" y="216.38" width="8.90" height="4.702" fill="#ffffff"/>
<rect x="352.20" y="216.38" width="8.90" height="4.702" fill="#9999ff"/>
<rect x="361.10" y="216.38" width="8.90" height="4.702" fill="#b2b2ff"/>
<rect x="370.00" y="216.38" width="8.90" height="4.702" fill="#ccccff"/>
<rect x="378.90" y="216.38" width="8.90" height="4.702" fill="#ffe7e7"/>
<rect x="387.80" y="216.38" width="8.90" height="4.702" fill="#ffd0d0"/>
<rect x="396.70" y="216.38" width="8.90" height="4.702" fill="#ffd0d0"/>
<rect x="405.60" y="216.38" width="8.90" height="4.702" fill="#ffe7e7"/>
<rect x="414.50" y="216.38" width="8.90" height="4.702" fill="#ff8888"/>
<rect x="423.40" y="216.38" width="8.90" height="4.702" fill="#ffb8b8"/>
<rect x="432.30" y="216.38" width="8.90" height="4.702" fill="#ff8888"/>
<rect x="441.20" y="216.38" width="8.90" height="4.702" fill="#ffb8b8"/>
<rect x="307.70" y="221.08" width="8.90" height="4.702" fill="#b2b2ff"/>
<rect x="316.60" y="221.08" width="8.90" height="4.702" fill="#b2b2ff"/>
<rect x="325.50" y="221.08" width="8.90" height="4.702" fill="#9999ff"/>
<rect x="334.40" y="221.08" width="8.90" height="4.702" fill="#9999ff"/>
<rect x="343.30" y="221.08" width="8.90" height="4.702" fill="#e6e6ff"/>
<rect x="352.20" y="221.08" width="8.90" height="4.702" fill="#9999ff"/>
<rect x="361.10" y="221.08" width="8.90" height="4.702" fill="#b2b2ff"/>
<rect x="370.00" y="221.08" width="8.90" height="4.702" fill="#b2b2ff"/>
<rect x="378.90" y="221.08" width="8.90" height="4.702" fill="#ffe7e7"/>
<rect x="387.80" y="221.08" width="8.90" height="4.702" fill="#ffd0d0"/>
<rect x="396.70" y="221.08" width="8.90" height="4.702" fill="#ffd0d0"/>
<rect x="405.60" y="221.08" width="8.90" height="4.702" fill="#ffd0d0"/>
<rect x="414.50" y="221.08" width="8.90" height="4.702" fill="#ff8888"/>
<rect x="423.40" y="221.08" width="8.90" height="4.702" fill="#ffb8b8"/>
<rect x="432.30" y="221.08" width="8.90" height="4.702" fill="#ff8888"/>
<rect x="441.20" y="221.08" width="8.90" height="4.702" fill="#ffb8b8"/>
<rect x="307.70" y="225.78" width="8.90" height="4.702" fill="#e6e6ff"/>
<rect x="316.60" y="225.78" width="8.90" height="4.702" fill="#ccccff"/>
<rect x="325.50" y="225.78" width="8.90" height="4.702" fill="#8080ff"/>
<rect x="334.40" y="225.78" width="8.90" height="4.702" fill="#9999ff"/>
<rect x="343.30" y="225.78" width="8.90" height="4.702" fill="#ffffff"/>
<rect x="352.20" y="225.78" width="8.90" height="4.702" fill="#9999ff"/>
<rect x="361.10" y="225.78" width="8.90" height="4.702" fill="#b2b2ff"/>
<rect x="370.00" y="225.78" width="8.90" height="4.702" fill="#b2b2ff"/>
<rect x="378.90" y="225.78" width="8.90" height="4.702" fill="#ffe7e7"/>
<rect x="387.80" y="225.78" width="8.90" height="4.702" fill="#ffe7e7"/>
<rect x="396.70" y="225.78" width="8.90" height="4.702" fill="#ffb8b8"/>
<rect x="405.60" y="225.78" width="8.90" height="4.702" fill="#ffd0d0"/>
<rect x="414.50" y="225.78" width="8.90" height="4.702" fill="#ff8888"/>
<rect x="423.40" y="225.78" width="8.90" height="4.702" fill="#ffb8b8"/>
<rect x="432.30" y="225.78" width="8.90" height="4.702" fill="#ffa0a0"/>
<rect x="441.20" y="225.78" width="8.90" height="4.702" fill="#ffb8b8"/>
<rect x="307.70" y="230.48" width="8.90" height="4.702" fill="#ccccff"/>
<rect x="316.60" y="230.48" width="8.90" height="4.702" fill="#ccccff"/>
<rect x="325.50" y="230.48" width="8.90" height="4.702" fill="#9999ff"/>
<rect x="334.40" y="230.48" width="8.90" height="4.702" fill="#9999ff"/>
<rect x="343.30" y="230.48" width="8.90" height="4.702" fill="#ffffff"/>
<rect x="352.20" y="230.48" width="8.90" height="4.702" fill="#9999ff"/>
<rect x="361.10" y="230.48" width="8.90" height="4.702" fill="#ccccff"/>
<rect x="370.00" y="230.48" width="8.90" height="4.702" fill="#b2b2ff"/>
<rect x="378.90" y="230.48" width="8.90" height="4.702" fill="#ffe7e7"/>
<rect x="387.80" y="230.48" width="8.90" height="4.702" fill="#ffd0d0"/>
<rect x="396.70" y="230.48" width="8.90" height="4.702" fill="#ffd0d0"/>
<rect x="405.60" y="230.48" width="8.90" height="4.702" fill="#ffd0d0"/>
<rect x="414.50" y="230.48" width="8.90" height="4.702" fill="#ff8888"/>
<rect x="423.40" y="230.48" width="8.90" height="4.702" fill="#ffb8b8"/>
<rect x="432.30" y="230.48" width="8.90" height="4.702" fill="#ffa0a0"/>
<rect x="441.20" y="230.48" width="8.90" height="4.702" fill="#ffb8b8"/>
<rect x="307.70" y="235.19" width="8.90" height="4.702" fill="#ccccff"/>
<rect x="316.60" y="235.19" width="8.90" height="4.702" fill="#ccccff"/>
<rect x="325.50" y="235.19" width="8.90" height="4.702" fill="#8080ff"/>
<rect x="334.40" y="235.19" width="8.90" height="4.702" fill="#6666ff"/>
<rect x="343.30" y="235.19" width="8.90" height="4.702" fill="#ffffff"/>
<rect x="352.20" y="235.19" width="8.90" height="4.702" fill="#9999ff"/>
<rect x="361.10" y="235.19" width="8.90" height="4.702" fill="#b2b2ff"/>
<rect x="370.00" y="235.19" width="8.90" height="4.702" fill="#b2b2ff"/>
<rect x="378.90" y="235.19" width="8.90" height="4.702" fill="#ffe7e7"/>
<rect x="387.80" y="235.19" width="8.90" height="4.702" fill="#ffd0d0"/>
<rect x="396.70" y="235.19" width="8.90" height="4.702" fill="#ffd0d0"/>
<rect x="405.60" y="235.19" width="8.90" height="4.702" fill="#ffd0d0"/>
<rect x="414.50" y="235.19" width="8.90" height="4.702" fill="#ffa0a0"/>
<rect x="423.40" y="235.19" width="8.90" height="4.702" fill="#ffb8b8"/>
<rect x="432.30" y="235.19" width="8.90" height="4.702" fill="#ffa0a0"/>
<rect x="441.20" y="235.19" width="8.90" height="4.702" fill="#ffb8b8"/>
<rect x="307.70" y="239.89" width="8.90" height="4.702" fill="#ffffff"/>
<rect x="316.60" y="239.89" width="8.90" height="4.702" fill="#b2b2ff"/>
<rect x="325.50" y="239.89" width="8.90" height="4.702" fill="#b2b2ff"/>
<rect x="334.40" y="239.89" width="8.90" height="4.702" fill="#9999ff"/>
<rect x="343.30" y="239.89" width="8.90" height="4.702" fill="#ccccff"/>
<rect x="352.20" y="239.89" width="8.90" height="4.702" fill="#9999ff"/>
<rect x="361.10" y="239.89" width="8.90" height="4.702" fill="#b2b2ff"/>
<rect x="370.00" y="239.89" width="8.90" height="4.702" fill="#b2b2ff"/>
<rect x="378.90" y="239.89" width="8.90" height="4.702" fill="#ffffff"/>
<rect x="387.80" y="239.89" width="8.90" height="4.702" fill="#ffe7e7"/>
<rect x="396.70" y="239.89" width="8.90" height="4.702" fill="#ffe7e7"/>
<rect x="405.60" y="239.89" width="8.90" height="4.702" fill="#ffe7e7"/>
<rect x="414.50" y="239.89" width="8.90" height="4.702" fill="#ffa0a0"/>
<rect x="423.40" y="239.89" width="8.90" height="4.702" fill="#ffb8b8"/>
<rect x="432.30" y="239.89" width="8.90" height="4.702" fill="#ff8888"/>
<rect x="441.20" y="239.89" width="8.90" height="4.702" fill="#ffb8b8"/>
<rect x="307.70" y="244.59" width="8.90" height="4.702" fill="#e6e6ff"/>
<rect x="316.60" y="244.59" width="8.90" height="4.702" fill="#b2b2ff"/>
<rect x="325.50" y="244.59" width="8.90" height="4.702" fill="#e6e6ff"/>
<rect x="334.40" y="244.59" width="8.90" height="4.702" fill="#9999ff"/>
<rect x="343.30" y="244.59" width="8.90" height="4.702" fill="#e6e6ff"/>
<rect x="352.20" y="244.59" width="8.90" height="4.702" fill="#b2b2ff"/>
<rect x="361.10" y="244.59" width="8.90" height="4.702" fill="#b2b2ff"/>
<rect x="370.00" y="244.59" width="8.90" height="4.702" fill="#9999ff"/>
<rect x="378.90" y="244.59" width="8.90" height="4.702" fill="#e6e6ff"/>
<rect x="387.80" y="244.59" width="8.90" height="4.702" fill="#ffe7e7"/>
<rect x="396.70" y="244.59" width="8.90" height="4.702" fill="#ffd0d0"/>
<rect x="405.60" y="244.59" width="8.90" height="4.702" fill="#ffe7e7"/>
<rect x="414.50" y="244.59" width="8.90" height="4.702" fill="#ffa0a0"/>
<rect x="423.40" y="244.59" width="8.90" height="4.702" fill="#ffb8b8"/>
<rect x="432.30" y="244.59" width="8.90" height="4.702" fill="#ffa0a0"/>
<rect x="441.20" y="244.59" width="8.90" height="4.702" fill="#ffd0d0"/>
<rect x="307.70" y="249.29" width="8.90" height="4.702" fill="#ccccff"/>
<rect x="316.60" y="249.29" width="8.90" height="4.702" fill="#b2b2ff"/>
<rect x="325.50" y="249.29" width="8.90" height="4.702" fill="#9999ff"/>
<rect x="334.40" y="249.29" width="8.90" height="4.702" fill="#b2b2ff"/>
<rect x="343.30" y="249.29" width="8.90" height="4.702" fill="#e6e6ff"/>
<rect x="352.20" y="249.29" width="8.90" height="4.702" fill="#ccccff"/>
<rect x="361.10" y="249.29" width="8.90" height="4.702" fill="#b2b2ff"/>
<rect x="370.00" y="249.29" width="8.90" height="4.702" fill="#b2b2ff"/>
<rect x="378.90" y="249.29" width="8.90" height="4.702" fill="#ffe7e7"/>
<rect x="387.80" y="249.29" width="8.90" height="4.702" fill="#ffe7e7"/>
<rect x="396.70" y="249.29" width="8.90" height="4.702" fill="#ffe7e7"/>
<rect x="405.60" y="249.29" width="8.90" height="4.702" fill="#ffe7e7"/>
<rect x="414.50" y="249.29" width="8.90" height="4.702" fill="#ffa0a0"/>
<rect x="423.40" y="249.29" width="8.90" height="4.702" fill="#ffb8b8"/>
<rect x="432.30" y="249.29" width="8.90" height="4.702" fill="#ff8888"/>
<rect x="441.20" y="249.29" width="8.90" height="4.702" fill="#ffb8b8"/>
<rect x="307.70" y="253.99" width="8.90" height="4.702" fill="#ccccff"/>
<rect x="316.60" y="253.99" width="8.90" height="4.702" fill="#b2b2ff"/>
<rect x="325.50" y="253.99" width="8.90" height="4.702" fill="#b2b2ff"/>
<rect x="334.40" y="253.99" width="8.90" height="4.702" fill="#b2b2ff"/>
<rect x="343.30" y="253.99" width="8.90" height="4.702" fill="#e6e6ff"/>
<rect x="352.20" y="253.99" width="8.90" height="4.702" fill="#ccccff"/>
<rect x="361.10" y="253.99" width="8.90" height="4.702" fill="#b2b2ff"/>
<rect x="370.00" y="253.99" width="8.90" height="4.702" fill="#ccccff"/>
<rect x="378.90" y="253.99" width="8.90" height="4.702" fill="#ffe7e7"/>
<rect x="387.80" y="253.99" width="8.90" height="4.702" fill="#ffffff"/>
<rect x="396.70" y="253.99" width="8.90" height="4.702" fill="#ffd0d0"/>
<rect x="405.60" y="253.99" width="8.90" height="4.702" fill="#ffd0d0"/>
<rect x="414.50" y="253.99" width="8.90" height="4.702" fill="#ffa0a0"/>
<rect x="423.40" y="253.99" width="8.90" height="4.702" fill="#ffb8b8"/>
<rect x="432.30" y="253.99" width="8.90" height="4.702" fill="#ffa0a0"/>
<rect x="441.20" y="253.99" width="8.90" height="4.702" fill="#ffb8b8"/>
<rect x="307.70" y="258.70" width="8.90" height="4.702" fill="#ccccff"/>
<rect x="316.60" y="258.70" width="8.90" height="4.702" fill="#b2b2ff"/>
<rect x="325.50" y="258.70" width="8.90" height="4.702" fill="#b2b2ff"/>
<rect x="334.40" y="258.70" width="8.90" height="4.702" fill="#b2b2ff"/>
<rect x="343.30" y="258.70" width="8.90" height="4.702" fill="#ffffff"/>
<rect x="352.20" y="258.70" width="8.90" height="4.702" fill="#e6e6ff"/>
<rect x="361.10" y="258.70" width="8.90" height="4.702" fill="#b2b2ff"/>
<rect x="370.00" y="258.70" width="8.90" height="4.702" fill="#b2b2ff"/>
<rect x="378.90" y="258.70" width="8.90" height="4.702" fill="#ffffff"/>
<rect x="387.80" y="258.70" width="8.90" height="4.702" fill="#ffffff"/>
<rect x="396.70" y="258.70" width="8.90" height="4.702" fill="#ffe7e7"/>
<rect x="405.60" y="258.70" width="8.90" height="4.702" fill="#ffd0d0"/>
<rect x="414.50" y="258.70" width="8.90" height="4.702" fill="#ffa0a0"/>
<rect x="423.40" y="258.70" width="8.90" height="4.702" fill="#ffb8b8"/>
<rect x="432.30" y="258.70" width="8.90" height="4.702" fill="#ffa0a0"/>
<rect x="441.20" y="258.70" width="8.90" height="4.702" fill="#ffd0d0"/>
<rect x="307.70" y="263.40" width="8.90" height="4.702" fill="#e6e6ff"/>
<rect x="316.60" y="263.40" width="8.90" height="4.702" fill="#b2b2ff"/>
<rect x="325.50" y="263.40" width="8.90" height="4.702" fill="#b2b2ff"/>
<rect x="334.40" y="263.40" width="8.90" height="4.702" fill="#b2b2ff"/>
<rect x="343.30" y="263.40" width="8.90" height="4.702" fill="#ffffff"/>
<rect x="352.20" y="263.40" width="8.90" height="4.702" fill="#b2b2ff"/>
<rect x="361.10" y="263.40" width="8.90" height="4.702" fill="#b2b2ff"/>
<rect x="370.00" y="263.40" width="8.90" height="4.702" fill="#ccccff"/>
<rect x="378.90" y="263.40" width="8.90" height="4.702" fill="#ffe7e7"/>
<rect x="387.80" y="263.40" width="8.90" height="4.702" fill="#ffe7e7"/>
<rect x="396.70" y="263.40" width="8.90" height="4.702" fill="#ffd0d0"/>
<rect x="405.60" y="263.40" width="8.90" height="4.702" fill="#ffffff"/>
<rect x="414.50" y="263.40" width="8.90" height="4.702" fill="#ffa0a0"/>
<rect x="423.40" y="263.40" width="8.90" height="4.702" fill="#ffb8b8"/>
<rect x="432.30" y="263.40" width="8.90" height="4.702" fill="#ffa0a0"/>
<rect x="441.20" y="263.40" width="8.90" height="4.702" fill="#ffb8b8"/>
<rect x="307.70" y="268.10" width="8.90" height="4.702" fill="#ccccff"/>
<rect x="316.60" y="268.10" width="8.90" height="4.702" fill="#b2b2ff"/>
<rect x="325.50" y="268.10" width="8.90" height="4.702" fill="#b2b2ff"/>
<rect x="334.40" y="268.10" width="8.90" height="4.702" fill="#b2b2ff"/>
<rect x="343.30" y="268.10" width="8.90" height="4.702" fill="#ffe7e7"/>
<rect x="352.20" y="268.10" width="8.90" height="4.702" fill="#b2b2ff"/>
<rect x="361.10" y="268.10" width="8.90" height="4.702" fill="#b2b2ff"/>
<rect x="370.00" y="268.10" width="8.90" height="4.702" fill="#ccccff"/>
<rect x="378.90" y="268.10" width="8.90" height="4.702" fill="#ffffff"/>
<rect x="387.80" y="268.10" width="8.90" height="4.702" fill="#ffffff"/>
<rect x="396.70" y="268.10" width="8.90" height="4.702" fill="#ffe7e7"/>
<rect x="405.60" y="268.10" width="8.90" height="4.702" fill="#ffe7e7"/>
<rect x="414.50" y="268.10" width="8.90" height="4.702" fill="#ffa0a0"/>
<rect x="423.40" y="268.10" width="8.90" height="4.702" fill="#ffb8b8"/>
<rect x="432.30" y="268.10" width="8.90" height="4.702" fill="#ffa0a0"/>
<rect x="441.20" y="268.10" width="8.90" height="4.702" fill="#ffb8b8"/>
<rect x="307.70" y="272.80" width="8.90" height="4.702" fill="#ffffff"/>
<rect x="316.60" y="272.80" width="8.90" height="4.702" fill="#b2b2ff"/>
<rect x="325.50" y="272.80" width="8.90" height="4.702" fill="#9999ff"/>
<rect x="334.40" y="272.80" width="8.90" height="4.702" fill="#6666ff"/>
<rect x="343.30" y="272.80" width="8.90" height="4.702" fill="#ffffff"/>
<rect x="352.20" y="272.80" width="8.90" height="4.702" fill="#9999ff"/>
<rect x="361.10" y="272.80" width="8.90" height="4.702" fill="#ccccff"/>
<rect x="370.00" y="272.80" width="8.90" height="4.702" fill="#9999ff"/>
<rect x="378.90" y="272.80" width="8.90" height="4.702" fill="#ffe7e7"/>
<rect x="387.80" y="272.80" width="8.90" height="4.702" fill="#ffe7e7"/>
<rect x="396.70" y="272.80" width="8.90" height="4.702" fill="#ffe7e7"/>
<rect x="405.60" y="272.80" width="8.90" height="4.702" fill="#ffe7e7"/>
<rect x="414.50" y="272.80" width="8.90" height="4.702" fill="#ffa0a0"/>
<rect x="423.40" y="272.80" width="8.90" height="4.702" fill="#ffb8b8"/>
<rect x="432.30" y="272.80" width="8.90" height="4.702" fill="#ffa0a0"/>
<rect x="441.20" y="272.80" width="8.90" height="4.702" fill="#ffb8b8"/>
<rect x="307.70" y="277.51" width="8.90" height="4.702" fill="#e6e6ff"/>
<rect x="316.60" y="277.51" width="8.90" height="4.702" fill="#b2b2ff"/>
<rect x="325.50" y="277.51" width="8.90" height="4.702" fill="#9999ff"/>
<rect x="334.40" y="277.51" width="8.90" height="4.702" fill="#6666ff"/>
<rect x="343.30" y="277.51" width="8.90" height="4.702" fill="#ffffff"/>
<rect x="352.20" y="277.51" width="8.90" height="4.702" fill="#b2b2ff"/>
<rect x="361.10" y="277.51" width="8.90" height="4.702" fill="#b2b2ff"/>
<rect x="370.00" y="277.51" width="8.90" height="4.702" fill="#9999ff"/>
<rect x="378.90" y="277.51" width="8.90" height="4.702" fill="#ffe7e7"/>
<rect x="387.80" y="277.51" width="8.90" height="4.702" fill="#ffe7e7"/>
<rect x="396.70" y="277.51" width="8.90" height="4.702" fill="#ffd0d0"/>
<rect x="405.60" y="277.51" width="8.90" height="4.702" fill="#ffe7e7"/>
<rect x="414.50" y="277.51" width="8.90" height="4.702" fill="#ffa0a0"/>
<rect x="423.40" y="277.51" width="8.90" height="4.702" fill="#ffb8b8"/>
<rect x="432.30" y="277.51" width="8.90" height="4.702" fill="#ff8888"/>
<rect x="441.20" y="277.51" width="8.90" height="4.702" fill="#ffb8b8"/>
<rect x="307.70" y="282.21" width="8.90" height="4.702" fill="#ffffff"/>
<rect x="316.60" y="282.21" width="8.90" height="4.702" fill="#b2b2ff"/>
<rect x="325.50" y="282.21" width="8.90" height="4.702" fill="#b2b2ff"/>
<rect x="334.40" y="282.21" width="8.90" height="4.702" fill="#b2b2ff"/>
<rect x="343.30" y="282.21" width="8.90" height="4.702" fill="#ffe7e7"/>
<rect x="352.20" y="282.21" width="8.90" height="4.702" fill="#9999ff"/>
<rect x="361.10" y="282.21" width="8.90" height="4.702" fill="#ccccff"/>
<rect x="370.00" y="282.21" width="8.90" height="4.702" fill="#b2b2ff"/>
<rect x="378.90" y="282.21" width="8.90" height="4.702" fill="#ffffff"/>
<rect x="387.80" y="282.21" width="8.90" height="4.702" fill="#ffffff"/>
<rect x="396.70" y="282.21" width="8.90" height="4.702" fill="#ffd0d0"/>
<rect x="405.60" y="282.21" width="8.90" height="4.702" fill="#ffe7e7"/>
<rect x="414.50" y="282.21" width="8.90" height="4.702" fill="#ffa0a0"/>
<rect x="423.40" y="282.21" width="8.90" height="4.702" fill="#ffb8b8"/>
<rect x="432.30" y="282.21" width="8.90" height="4.702" fill="#ffa0a0"/>
<rect x="441.20" y="282.21" width="8.90" height="4.702" fill="#ffb8b8"/>
<rect x="307.70" y="286.91" width="8.90" height="4.702" fill="#e6e6ff"/>
<rect x="316.60" y="286.91" width="8.90" height="4.702" fill="#b2b2ff"/>
<rect x="325.50" y="286.91" width="8.90" height="4.702" fill="#b2b2ff"/>
<rect x="334.40" y="286.91" width="8.90" height="4.702" fill="#b2b2ff"/>
<rect x="343.30" y="286.91" width="8.90" height="4.702" fill="#ffe7e7"/>
<rect x="352.20" y="286.91" width="8.90" height="4.702" fill="#b2b2ff"/>
<rect x="361.10" y="286.91" width="8.90" height="4.702" fill="#b2b2ff"/>
<rect x="370.00" y="286.91" width="8.90" height="4.702" fill="#b2b2ff"/>
<rect x="378.90" y="286.91" width="8.90" height="4.702" fill="#ffffff"/>
<rect x="387.80" y="286.91" width="8.90" height="4.702" fill="#ffffff"/>
<rect x="396.70" y="286.91" width="8.90" height="4.702" fill="#ffd0d0"/>
<rect x="405.60" y="286.91" width="8.90" height="4.702" fill="#ffe7e7"/>
<rect x="414.50" y="286.91" width="8.90" height="4.702" fill="#ffa0a0"/>
<rect x="423.40" y="286.91" width="8.90" height="4.702" fill="#ffb8b8"/>
<rect x="432.30" y="286.91" width="8.90" height="4.702" fill="#ffa0a0"/>
<rect x="441.20" y="286.91" width="8.90" height="4.702" fill="#ffb8b8"/>
<rect x="307.70" y="291.61" width="8.90" height="4.702" fill="#ccccff"/>
<rect x="316.60" y="291.61" width="8.90" height="4.702" fill="#e6e6ff"/>
<rect x="325.50" y="291.61" width="8.90" height="4.702" fill="#b2b2ff"/>
<rect x="334.40" y="291.61" width="8.90" height="4.702" fill="#9999ff"/>
<rect x="343.30" y="291.61" width="8.90" height="4.702" fill="#ffe7e7"/>
<rect x="352.20" y="291.61" width="8.90" height="4.702" fill="#9999ff"/>
<rect x="361.10" y="291.61" width="8.90" height="4.702" fill="#ccccff"/>
<rect x="370.00" y="291.61" width="8.90" height="4.702" fill="#ccccff"/>
<rect x="378.90" y="291.61" width="8.90" height="4.702" fill="#ffffff"/>
<rect x="387.80" y="291.61" width="8.90" height="4.702" fill="#ffffff"/>
<rect x="396.70" y="291.61" width="8.90" height="4.702" fill="#ffd0d0"/>
<rect x="405.60" y="291.61" width="8.90" height="4.702" fill="#ffd0d0"/>
<rect x="414.50" y="291.61" width="8.90" height="4.702" fill="#ffa0a0"/>
<rect x="423.40" y="291.61" width="8.90" height="4.702" fill="#ffb8b8"/>
<rect x="432.30" y="291.61" width="8.90" height="4.702" fill="#ffa0a0"/>
<rect x="441.20" y="291.61" width="8.90" height="4.702" fill="#ffd0d0"/>
<rect x="307.70" y="296.31" width="8.90" height="4.702" fill="#e6e6ff"/>
<rect x="316.60" y="296.31" width="8.90" height="4.702" fill="#ccccff"/>
<rect x="325.50" y="296.31" width="8.90" height="4.702" fill="#b2b2ff"/>
<rect x="334.40" y="296.31" width="8.90" height="4.702" fill="#8080ff"/>
<rect x="343.30" y="296.31" width="8.90" height="4.702" fill="#ffe7e7"/>
<rect x="352.20" y="296.31" width="8.90" height="4.702" fill="#9999ff"/>
<rect x="361.10" y="296.31" width="8.90" height="4.702" fill="#b2b2ff"/>
<rect x="370.00" y="296.31" width="8.90" height="4.702" fill="#ccccff"/>
<rect x="378.90" y="296.31" width="8.90" height="4.702" fill="#ffffff"/>
<rect x="387.80" y="296.31" width="8.90" height="4.702" fill="#ffe7e7"/>
<rect x="396.70" y="296.31" width="8.90" height="4.702" fill="#ffd0d0"/>
<rect x="405.60" y="296.31" width="8.90" height="4.702" fill="#ffe7e7"/>
<rect x="414.50" y="296.31" width="8.90" height="4.702" fill="#ffa0a0"/>
<rect x="423.40" y="296.31" width="8.90" height="4.702" fill="#ffb8b8"/>
<rect x="432.30" y="296.31" width="8.90" height="4.702" fill="#ffa0a0"/>
<rect x="441.20" y="296.31" width="8.90" height="4.702" fill="#ffb8b8"/>
<rect x="307.70" y="301.02" width="8.90" height="4.702" fill="#e6e6ff"/>
<rect x="316.60" y="301.02" width="8.90" height="4.702" fill="#ccccff"/>
<rect x="325.50" y="301.02" width="8.90" height="4.702" fill="#b2b2ff"/>
<rect x="334.40" y="301.02" width="8.90" height="4.702" fill="#9999ff"/>
<rect x="343.30" y="301.02" width="8.90" height="4.702" fill="#ffffff"/>
<rect x="352.20" y="301.02" width="8.90" height="4.702" fill="#b2b2ff"/>
<rect x="361.10" y="301.02" width="8.90" height="4.702" fill="#ccccff"/>
<rect x="370.00" y="301.02" width="8.90" height="4.702" fill="#ccccff"/>
<rect x="378.90" y="301.02" width="8.90" height="4.702" fill="#e6e6ff"/>
<rect x="387.80" y="301.02" width="8.90" height="4.702" fill="#ffe7e7"/>
<rect x="396.70" y="301.02" width="8.90" height="4.702" fill="#ffe7e7"/>
<rect x="405.60" y="301.02" width="8.90" height="4.702" fill="#ffffff"/>
<rect x="414.50" y="301.02" width="8.90" height="4.702" fill="#ffa0a0"/>
<rect x="423.40" y="301.02" width="8.90" height="4.702" fill="#ffd0d0"/>
<rect x="432.30" y="301.02" width="8.90" height="4.702" fill="#ffa0a0"/>
<rect x="441.20" y="301.02" width="8.90" height="4.702" fill="#ffb8b8"/>
<rect x="307.70" y="305.72" width="8.90" height="4.702" fill="#e6e6ff"/>
<rect x="316.60" y="305.72" width="8.90" height="4.702" fill="#ccccff"/>
<rect x="325.50" y="305.72" width="8.90" height="4.702" fill="#b2b2ff"/>
<rect x="334.40" y="305.72" width="8.90" height="4.702" fill="#9999ff"/>
<rect x="343.30" y="305.72" width="8.90" height="4.702" fill="#ffffff"/>
<rect x="352.20" y="305.72" width="8.90" height="4.702" fill="#9999ff"/>
<rect x="361.10" y="305.72" width="8.90" height="4.702" fill="#ccccff"/>
<rect x="370.00" y="305.72" width="8.90" height="4.702" fill="#ccccff"/>
<rect x="378.90" y="305.72" width="8.90" height="4.702" fill="#e6e6ff"/>
<rect x="387.80" y="305.72" width="8.90" height="4.702" fill="#ffe7e7"/>
<rect x="396.70" y="305.72" width="8.90" height="4.702" fill="#ffffff"/>
<rect x="405.60" y="305.72" width="8.90" height="4.702" fill="#ffe7e7"/>
<rect x="414.50" y="305.72" width="8.90" height="4.702" fill="#ff8888"/>
<rect x="423.40" y="305.72" width="8.90" height="4.702" fill="#ffb8b8"/>
<rect x="432.30" y="305.72" width="8.90" height="4.702" fill="#ffa0a0"/>
<rect x="441.20" y="305.72" width="8.90" height="4.702" fill="#ffb8b8"/>
<rect x="307.70" y="310.42" width="8.90" height="4.702" fill="#e6e6ff"/>
<rect x="316.60" y="310.42" width="8.90" height="4.702" fill="#ccccff"/>
<rect x="325.50" y="310.42" width="8.90" height="4.702" fill="#b2b2ff"/>
<rect x="334.40" y="310.42" width="8.90" height="4.702" fill="#b2b2ff"/>
<rect x="343.30" y="310.42" width="8.90" height="4.702" fill="#ffffff"/>
<rect x="352.20" y="310.42" width="8.90" height="4.702" fill="#9999ff"/>
<rect x="361.10" y="310.42" width="8.90" height="4.702" fill="#ccccff"/>
<rect x="370.00" y="310.42" width="8.90" height="4.702" fill="#ccccff"/>
<rect x="378.90" y="310.42" width="8.90" height="4.702" fill="#ffffff"/>
<rect x="387.80" y="310.42" width="8.90" height="4.702" fill="#ffe7e7"/>
<rect x="396.70" y="310.42" width="8.90" height="4.702" fill="#ffe7e7"/>
<rect x="405.60" y="310.42" width="8.90" height="4.702" fill="#ffe7e7"/>
<rect x="414.50" y="310.42" width="8.90" height="4.702" fill="#ffa0a0"/>
<rect x="423.40" y="310.42" width="8.90" height="4.702" fill="#ffd0d0"/>
<rect x="432.30" y="310.42" width="8.90" height="4.702" fill="#ffa0a0"/>
<rect x="441.20" y="310.42" width="8.90" height="4.702" fill="#ffd0d0"/>
<rect x="307.70" y="315.12" width="8.90" height="4.702" fill="#e6e6ff"/>
<rect x="316.60" y="315.12" width="8.90" height="4.702" fill="#ccccff"/>
<rect x="325.50" y="315.12" width="8.90" height="4.702" fill="#b2b2ff"/>
<rect x="334.40" y="315.12" width="8.90" height="4.702" fill="#b2b2ff"/>
<rect x="343.30" y="315.12" width="8.90" height="4.702" fill="#e6e6ff"/>
<rect x="352.20" y="315.12" width="8.90" height="4.702" fill="#9999ff"/>
<rect x="361.10" y="315.12" width="8.90" height="4.702" fill="#ccccff"/>
<rect x="370.00" y="315.12" width="8.90" height="4.702" fill="#b2b2ff"/>
<rect x="378.90" y="315.12" width="8.90" height="4.702" fill="#ffffff"/>
<rect x="387.80" y="315.12" width="8.90" height="4.702" fill="#ffe7e7"/>
<rect x="396.70" y="315.12" width="8.90" height="4.702" fill="#ffe7e7"/>
<rect x="405.60" y="315.12" width="8.90" height="4.702" fill="#ffe7e7"/>
<rect x="414.50" y="315.12" width="8.90" height="4.702" fill="#ffa0a0"/>
<rect x="423.40" y="315.12" width="8.90" height="4.702" fill="#ffb8b8"/>
<rect x="432.30" y="315.12" width="8.90" height="4.702" fill="#ffa0a0"/>
<rect x="441.20" y="315.12" width="8.90" height="4.702" fill="#ffd0d0"/>
<rect x="307.70" y="319.82" width="8.90" height="4.702" fill="#ccccff"/>
<rect x="316.60" y="319.82" width="8.90" height="4.702" fill="#ccccff"/>
<rect x="325.50" y="319.82" width="8.90" height="4.702" fill="#b2b2ff"/>
<rect x="334.40" y="319.82" width="8.90" height="4.702" fill="#b2b2ff"/>
<rect x="343.30" y="319.82" width="8.90" height="4.702" fill="#ffffff"/>
<rect x="352.20" y="319.82" width="8.90" height="4.702" fill="#9999ff"/>
<rect x="361.10" y="319.82" width="8.90" height="4.702" fill="#ccccff"/>
<rect x="370.00" y="319.82" width="8.90" height="4.702" fill="#b2b2ff"/>
<rect x="378.90" y="319.82" width="8.90" height="4.702" fill="#ffffff"/>
<rect x="387.80" y="319.82" width="8.90" height="4.702" fill="#ffffff"/>
<rect x="396.70" y="319.82" width="8.90" height="4.702" fill="#ffe7e7"/>
<rect x="405.60" y="319.82" width="8.90" height="4.702" fill="#ffe7e7"/>
<rect x="414.50" y="319.82" width="8.90" height="4.702" fill="#ffa0a0"/>
<rect x="423.40" y="319.82" width="8.90" height="4.702" fill="#ffb8b8"/>
<rect x="432.30" y="319.82" width="8.90" height="4.702" fill="#ffa0a0"/>
<rect x="441.20" y="319.82" width="8.90" height="4.702" fill="#ffb8b8"/>
<rect x="307.70" y="324.53" width="8.90" height="4.702" fill="#ccccff"/>
<rect x="316.60" y="324.53" width="8.90" height="4.702" fill="#ccccff"/>
<rect x="325.50" y="324.53" width="8.90" height="4.702" fill="#9999ff"/>
<rect x="334.40" y="324.53" width="8.90" height="4.702" fill="#b2b2ff"/>
<rect x="343.30" y="324.53" width="8.90" height="4.702" fill="#ffffff"/>
<rect x="352.20" y="324.53" width="8.90" height="4.702" fill="#9999ff"/>
<rect x="361.10" y="324.53" width="8.90" height="4.702" fill="#ccccff"/>
<rect x="370.00" y="324.53" width="8.90" height="4.702" fill="#b2b2ff"/>
<rect x="378.90" y="324.53" width="8.90" height="4.702" fill="#ffffff"/>
<rect x="387.80" y="324.53" width="8.90" height="4.702" fill="#ffffff"/>
<rect x="396.70" y="324.53" width="8.90" height="4.702" fill="#ffe7e7"/>
<rect x="405.60" y="324.53" width="8.90" height="4.702" fill="#ffe7e7"/>
<rect x="414.50" y="324.53" width="8.90" height="4.702" fill="#ffa0a0"/>
<rect x="423.40" y="324.53" width="8.90" height="4.702" fill="#ffb8b8"/>
<rect x="432.30" y="324.53" width="8.90" height="4.702" fill="#ffa0a0"/>
<rect x="441.20" y="324.53" width="8.90" height="4.702" fill="#ffb8b8"/>
<rect x="307.70" y="329.23" width="8.90" height="4.702" fill="#e6e6ff"/>
<rect x="316.60" y="329.23" width="8.90" height="4.702" fill="#ccccff"/>
<rect x="325.50" y="329.23" width="8.90" height="4.702" fill="#b2b2ff"/>
<rect x="334.40" y="329.23" width="8.90" height="4.702" fill="#b2b2ff"/>
<rect x="343.30" y="329.23" width="8.90" height="4.702" fill="#ffffff"/>
<rect x="352.20" y="329.23" width="8.90" height="4.702" fill="#9999ff"/>
<rect x="361.10" y="329.23" width="8.90" height="4.702" fill="#ccccff"/>
<rect x="370.00" y="329.23" width="8.90" height="4.702" fill="#b2b2ff"/>
<rect x="378.90" y="329.23" width="8.90" height="4.702" fill="#ffffff"/>
<rect x="387.80" y="329.23" width="8.90" height="4.702" fill="#ffe7e7"/>
<rect x="396.70" y="329.23" width="8.90" height="4.702" fill="#ffe7e7"/>
<rect x="405.60" y="329.23" width="8.90" height="4.702" fill="#ffe7e7"/>
<rect x="414.50" y="329.23" width="8.90" height="4.702" fill="#ffa0a0"/>
<rect x="423.40" y="329.23" width="8.90" height="4.702" fill="#ffb8b8"/>
<rect x="432.30" y="329.23" width="8.90" height="4.702" fill="#ffa0a0"/>
<rect x="441.20" y="329.23" width="8.90" height="4.702" fill="#ffb8b8"/>
<rect x="307.70" y="333.93" width="8.90" height="4.702" fill="#ccccff"/>
<rect x="316.60" y="333.93" width="8.90" height="4.702" fill="#ccccff"/>
<rect x="325.50" y="333.93" width="8.90" height="4.702" fill="#b2b2ff"/>
<rect x="334.40" y="333.93" width="8.90" height="4.702" fill="#6666ff"/>
<rect x="343.30" y="333.93" width="8.90" height="4.702" fill="#ffffff"/>
<rect x="352.20" y="333.93" width="8.90" height="4.702" fill="#9999ff"/>
<rect x="361.10" y="333.93" width="8.90" height="4.702" fill="#ccccff"/>
<rect x="370.00" y="333.93" width="8.90" height="4.702" fill="#b2b2ff"/>
<rect x="378.90" y="333.93" width="8.90" height="4.702" fill="#ffffff"/>
<rect x="387.80" y="333.93" width="8.90" height="4.702" fill="#ffe7e7"/>
<rect x="396.70" y="333.93" width="8.90" height="4.702" fill="#ffd0d0"/>
<rect x="405.60" y="333.93" width="8.90" height="4.702" fill="#ffe7e7"/>
<rect x="414.50" y="333.93" width="8.90" height="4.702" fill="#ff8888"/>
<rect x="423.40" y="333.93" width="8.90" height="4.702" fill="#ffb8b8"/>
<rect x="432.30" y="333.93" width="8.90" height="4.702" fill="#ff8888"/>
<rect x="441.20" y="333.93" width="8.90" height="4.702" fill="#ffb8b8"/>
<rect x="307.70" y="338.63" width="8.90" height="4.702" fill="#ccccff"/>
<rect x="316.60" y="338.63" width="8.90" height="4.702" fill="#e6e6ff"/>
<rect x="325.50" y="338.63" width="8.90" height="4.702" fill="#b2b2ff"/>
<rect x="334.40" y="338.63" width="8.90" height="4.702" fill="#9999ff"/>
<rect x="343.30" y="338.63" width="8.90" height="4.702" fill="#ffffff"/>
<rect x="352.20" y="338.63" width="8.90" height="4.702" fill="#8080ff"/>
<rect x="361.10" y="338.63" width="8.90" height="4.702" fill="#ccccff"/>
<rect x="370.00" y="338.63" width="8.90" height="4.702" fill="#b2b2ff"/>
<rect x="378.90" y="338.63" width="8.90" height="4.702" fill="#e6e6ff"/>
<rect x="387.80" y="338.63" width="8.90" height="4.702" fill="#ffe7e7"/>
<rect x="396.70" y="338.63" width="8.90" height="4.702" fill="#ffd0d0"/>
<rect x="405.60" y="338.63" width="8.90" height="4.702" fill="#ffe7e7"/>
<rect x="414.50" y="338.63" width="8.90" height="4.702" fill="#ff8888"/>
<rect x="423.40" y="338.63" width="8.90" height="4.702" fill="#ffb8b8"/>
<rect x="432.30" y="338.63" width="8.90" height="4.702" fill="#ffa0a0"/>
<rect x="441.20" y="338.63" width="8.90" height="4.702" fill="#ffb8b8"/>
<rect x="307.70" y="343.33" width="8.90" height="4.702" fill="#ccccff"/>
<rect x="316.60" y="343.33" width="8.90" height="4.702" fill="#b2b2ff"/>
<rect x="325.50" y="343.33" width="8.90" height="4.702" fill="#b2b2ff"/>
<rect x="334.40" y="343.33" width="8.90" height="4.702" fill="#b2b2ff"/>
<rect x="343.30" y="343.33" width="8.90" height="4.702" fill="#ffffff"/>
<rect x="352.20" y="343.33" width="8.90" height="4.702" fill="#9999ff"/>
<rect x="361.10" y="343.33" width="8.90" height="4.702" fill="#b2b2ff"/>
<rect x="370.00" y="343.33" width="8.90" height="4.702" fill="#ccccff"/>
<rect x="378.90" y="343.33" width="8.90" height="4.702" fill="#ffe7e7"/>
<rect x="387.80" y="343.33" width="8.90" height="4.702" fill="#ffe7e7"/>
<rect x="396.70" y="343.33" width="8.90" height="4.702" fill="#ffe7e7"/>
<rect x="405.60" y="343.33" width="8.90" height="4.702" fill="#ffe7e7"/>
<rect x="414.50" y="343.33" width="8.90" height="4.702" fill="#ff8888"/>
<rect x="423.40" y="343.33" width="8.90" height="4.702" fill="#ffb8b8"/>
<rect x="432.30" y="343.33" width="8.90" height="4.702" fill="#ff8888"/>
<rect x="441.20" y="343.33" width="8.90" height="4.702" fill="#ffd0d0"/>
<rect x="307.70" y="348.04" width="8.90" height="4.702" fill="#ccccff"/>
<rect x="316.60" y="348.04" width="8.90" height="4.702" fill="#b2b2ff"/>
<rect x="325.50" y="348.04" width="8.90" height="4.702" fill="#b2b2ff"/>
<rect x="334.40" y="348.04" width="8.90" height="4.702" fill="#b2b2ff"/>
<rect x="343.30" y="348.04" width="8.90" height="4.702" fill="#e6e6ff"/>
<rect x="352.20" y="348.04" width="8.90" height="4.702" fill="#b2b2ff"/>
<rect x="361.10" y="348.04" width="8.90" height="4.702" fill="#ccccff"/>
<rect x="370.00" y="348.04" width="8.90" height="4.702" fill="#ccccff"/>
<rect x="378.90" y="348.04" width="8.90" height="4.702" fill="#ffffff"/>
<rect x="387.80" y="348.04" width="8.90" height="4.702" fill="#ffe7e7"/>
<rect x="396.70" y="348.04" width="8.90" height="4.702" fill="#ffe7e7"/>
<rect x="405.60" y="348.04" width="8.90" height="4.702" fill="#ffe7e7"/>
<rect x="414.50" y="348.04" width="8.90" height="4.702" fill="#ffa0a0"/>
<rect x="423.40" y="348.04" width="8.90" height="4.702" fill="#ffb8b8"/>
<rect x="432.30" y="348.04" width="8.90" height="4.702" fill="#ff8888"/>
<rect x="441.20" y="348.04" width="8.90" height="4.702" fill="#ffb8b8"/>
<rect x="307.70" y="352.74" width="8.90" height="4.702" fill="#ccccff"/>
<rect x="316.60" y="352.74" width="8.90" height="4.702" fill="#b2b2ff"/>
<rect x="325.50" y="352.74" width="8.90" height="4.702" fill="#b2b2ff"/>
<rect x="334.40" y="352.74" width="8.90" height="4.702" fill="#b2b2ff"/>
<rect x="343.30" y="352.74" width="8.90" height="4.702" fill="#ffffff"/>
<rect x="352.20" y="352.74" width="8.90" height="4.702" fill="#9999ff"/>
<rect x="361.10" y="352.74" width="8.90" height="4.702" fill="#ccccff"/>
<rect x="370.00" y="352.74" width="8.90" height="4.702" fill="#9999ff"/>
<rect x="378.90" y="352.74" width="8.90" height="4.702" fill="#ffffff"/>
<rect x="387.80" y="352.74" width="8.90" height="4.702" fill="#ffe7e7"/>
<rect x="396.70" y="352.74" width="8.90" height="4.702" fill="#ffd0d0"/>
<rect x="405.60" y="352.74" width="8.90" height="4.702" fill="#ffe7e7"/>
<rect x="414.50" y="352.74" width="8.90" height="4.702" fill="#ff8888"/>
<rect x="423.40" y="352.74" width="8.90" height="4.702" fill="#ffb8b8"/>
<rect x="432.30" y="352.74" width="8.90" height="4.702" fill="#ff8888"/>
<rect x="441.20" y="352.74" width="8.90" height="4.702" fill="#ffb8b8"/>
<rect x="307.70" y="357.44" width="8.90" height="4.702" fill="#ccccff"/>
<rect x="316.60" y="357.44" width="8.90" height="4.702" fill="#ffffff"/>
<rect x="325.50" y="357.44" width="8.90" height="4.702" fill="#b2b2ff"/>
<rect x="334.40" y="357.44" width="8.90" height="4.702" fill="#b2b2ff"/>
<rect x="343.30" y="357.44" width="8.90" height="4.702" fill="#ffe7e7"/>
<rect x="352.20" y="357.44" width="8.90" height="4.702" fill="#9999ff"/>
<rect x="361.10" y="357.44" width="8.90" height="4.702" fill="#ccccff"/>
<rect x="370.00" y="357.44" width="8.90" height="4.702" fill="#e6e6ff"/>
<rect x="378.90" y="357.44" width="8.90" height="4.702" fill="#b2b2ff"/>
<rect x="387.80" y="357.44" width="8.90" height="4.702" fill="#ffffff"/>
<rect x="396.70" y="357.44" width="8.90" height="4.702" fill="#ffe7e7"/>
<rect x="405.60" y="357.44" width="8.90" height="4.702" fill="#ccccff"/>
<rect x="414.50" y="357.44" width="8.90" height="4.702" fill="#ff8888"/>
<rect x="423.40" y="357.44" width="8.90" height="4.702" fill="#ffb8b8"/>
<rect x="432.30" y="357.44" width="8.90" height="4.702" fill="#ff8888"/>
<rect x="441.20" y="357.44" width="8.90" height="4.702" fill="#ffffff"/>
<rect x="307.70" y="362.14" width="8.90" height="4.702" fill="#ccccff"/>
<rect x="316.60" y="362.14" width="8.90" height="4.702" fill="#ccccff"/>
<rect x="325.50" y="362.14" width="8.90" height="4.702" fill="#b2b2ff"/>
<rect x="334.40" y="362.14" width="8.90" height="4.702" fill="#b2b2ff"/>
<rect x="343.30" y="362.14" width="8.90" height="4.702" fill="#ffffff"/>
<rect x="352.20" y="362.14" width="8.90" height="4.702" fill="#b2b2ff"/>
<rect x="361.10" y="362.14" width="8.90" height="4.702" fill="#b2b2ff"/>
<rect x="370.00" y="362.14" width="8.90" height="4.702" fill="#ccccff"/>
<rect x="378.90" y="362.14" width="8.90" height="4.702" fill="#b2b2ff"/>
<rect x="387.80" y="362.14" width="8.90" height="4.702" fill="#ffe7e7"/>
<rect x="396.70" y="362.14" width="8.90" height="4.702" fill="#ffffff"/>
<rect x="405.60" y="362.14" width="8.90" height="4.702" fill="#ffe7e7"/>
<rect x="414.50" y="362.14" width="8.90" height="4.702" fill="#ff8888"/>
<rect x="423.40" y="362.14" width="8.90" height="4.702" fill="#ffb8b8"/>
<rect x="432.30" y="362.14" width="8.90" height="4.702" fill="#ff8888"/>
<rect x="441.20" y="362.14" width="8.90" height="4.702" fill="#ffd0d0"/>
<rect x="307.70" y="366.84" width="8.90" height="4.702" fill="#e6e6ff"/>
<rect x="316.60" y="366.84" width="8.90" height="4.702" fill="#ffffff"/>
<rect x="325.50" y="366.84" width="8.90" height="4.702" fill="#ccccff"/>
<rect x="334.40" y="366.84" width="8.90" height="4.702" fill="#b2b2ff"/>
<rect x="343.30" y="366.84" width="8.90" height="4.702" fill="#e6e6ff"/>
<rect x="352.20" y="366.84" width="8.90" height="4.702" fill="#b2b2ff"/>
<rect x="361.10" y="366.84" width="8.90" height="4.702" fill="#ccccff"/>
<rect x="370.00" y="366.84" width="8.90" height="4.702" fill="#ccccff"/>
<rect x="378.90" y="366.84" width="8.90" height="4.702" fill="#b2b2ff"/>
<rect x="387.80" y="366.84" width="8.90" height="4.702" fill="#ffe7e7"/>
<rect x="396.70" y="366.84" width="8.90" height="4.702" fill="#ffffff"/>
<rect x="405.60" y="366.84" width="8.90" height="4.702" fill="#ffffff"/>
<rect x="414.50" y="366.84" width="8.90" height="4.702" fill="#ffa0a0"/>
<rect x="423.40" y="366.84" width="8.90" height="4.702" fill="#ffb8b8"/>
<rect x="432.30" y="366.84" width="8.90" height="4.702" fill="#ff8888"/>
<rect x="441.20" y="366.84" width="8.90" height="4.702" fill="#ffd0d0"/>
<rect x="307.70" y="371.55" width="8.90" height="4.702" fill="#ffffff"/>
<rect x="316.60" y="371.55" width="8.90" height="4.702" fill="#ccccff"/>
<rect x="325.50" y="371.55" width="8.90" height="4.702" fill="#ccccff"/>
<rect x="334.40" y="371.55" width="8.90" height="4.702" fill="#8080ff"/>
<rect x="343.30" y="371.55" width="8.90" height="4.702" fill="#ffffff"/>
<rect x="352.20" y="371.55" width="8.90" height="4.702" fill="#8080ff"/>
<rect x="361.10" y="371.55" width="8.90" height="4.702" fill="#e6e6ff"/>
<rect x="370.00" y="371.55" width="8.90" height="4.702" fill="#ffffff"/>
<rect x="378.90" y="371.55" width="8.90" height="4.702" fill="#e6e6ff"/>
<rect x="387.80" y="371.55" width="8.90" height="4.702" fill="#ffffff"/>
<rect x="396.70" y="371.55" width="8.90" height="4.702" fill="#ffffff"/>
<rect x="405.60" y="371.55" width="8.90" height="4.702" fill="#ffffff"/>
<rect x="414.50" y="371.55" width="8.90" height="4.702" fill="#ffa0a0"/>
<rect x="423.40" y="371.55" width="8.90" height="4.702" fill="#ffb8b8"/>
<rect x="432.30" y="371.55" width="8.90" height="4.702" fill="#ffa0a0"/>
<rect x="441.20" y="371.55" width="8.90" height="4.702" fill="#ffffff"/>
<rect x="307.70" y="376.25" width="8.90" height="4.702" fill="#e6e6ff"/>
<rect x="316.60" y="376.25" width="8.90" height="4.702" fill="#ffffff"/>
<rect x="325.50" y="376.25" width="8.90" height="4.702" fill="#b2b2ff"/>
<rect x="334.40" y="376.25" width="8.90" height="4.702" fill="#9999ff"/>
<rect x="343.30" y="376.25" width="8.90" height="4.702" fill="#ffffff"/>
<rect x="352.20" y="376.25" width="8.90" height="4.702" fill="#b2b2ff"/>
<rect x="361.10" y="376.25" width="8.90" height="4.702" fill="#ccccff"/>
<rect x="370.00" y="376.25" width="8.90" height="4.702" fill="#ccccff"/>
<rect x="378.90" y="376.25" width="8.90" height="4.702" fill="#ffffff"/>
<rect x="387.80" y="376.25" width="8.90" height="4.702" fill="#ffe7e7"/>
<rect x="396.70" y="376.25" width="8.90" height="4.702" fill="#ffffff"/>
<rect x="405.60" y="376.25" width="8.90" height="4.702" fill="#e6e6ff"/>
<rect x="414.50" y="376.25" width="8.90" height="4.702" fill="#ffa0a0"/>
<rect x="423.40" y="376.25" width="8.90" height="4.702" fill="#ffb8b8"/>
<rect x="432.30" y="376.25" width="8.90" height="4.702" fill="#ffa0a0"/>
<rect x="441.20" y="376.25" width="8.90" height="4.702" fill="#ffd0d0"/>
<rect x="307.70" y="380.95" width="8.90" height="4.702" fill="#e6e6ff"/>
<rect x="316.60" y="380.95" width="8.90" height="4.702" fill="#e6e6ff"/>
<rect x="325.50" y="380.95" width="8.90" height="4.702" fill="#b2b2ff"/>
<rect x="334.40" y="380.95" width="8.90" height="4.702" fill="#9999ff"/>
<rect x="343.30" y="380.95" width="8.90" height="4.702" fill="#ffffff"/>
<rect x="352.20" y="380.95" width="8.90" height="4.702" fill="#8080ff"/>
<rect x="361.10" y="380.95" width="8.90" height="4.702" fill="#ccccff"/>
<rect x="370.00" y="380.95" width="8.90" height="4.702" fill="#ccccff"/>
<rect x="378.90" y="380.95" width="8.90" height="4.702" fill="#ffe7e7"/>
<rect x="387.80" y="380.95" width="8.90" height="4.702" fill="#ffe7e7"/>
<rect x="396.70" y="380.95" width="8.90" height="4.702" fill="#ffffff"/>
<rect x="405.60" y="380.95" width="8.90" height="4.702" fill="#ffe7e7"/>
<rect x="414.50" y="380.95" width="8.90" height="4.702" fill="#ffa0a0"/>
<rect x="423.40" y="380.95" width="8.90" height="4.702" fill="#ffb8b8"/>
<rect x="432.30" y="380.95" width="8.90" height="4.702" fill="#ffa0a0"/>
<rect x="441.20" y="380.95" width="8.90" height="4.702" fill="#ffd0d0"/>
<rect x="307.70" y="385.65" width="8.90" height="4.702" fill="#ccccff"/>
<rect x="316.60" y="385.65" width="8.90" height="4.702" fill="#e6e6ff"/>
<rect x="325.50" y="385.65" width="8.90" height="4.702" fill="#ccccff"/>
<rect x="334.40" y="385.65" width="8.90" height="4.702" fill="#9999ff"/>
<rect x="343.30" y="385.65" width="8.90" height="4.702" fill="#e6e6ff"/>
<rect x="352.20" y="385.65" width="8.90" height="4.702" fill="#b2b2ff"/>
<rect x="361.10" y="385.65" width="8.90" height="4.702" fill="#ccccff"/>
<rect x="370.00" y="385.65" width="8.90" height="4.702" fill="#ffffff"/>
<rect x="378.90" y="385.65" width="8.90" height="4.702" fill="#ffffff"/>
<rect x="387.80" y="385.65" width="8.90" height="4.702" fill="#ffffff"/>
<rect x="396.70" y="385.65" width="8.90" height="4.702" fill="#ffffff"/>
<rect x="405.60" y="385.65" width="8.90" height="4.702" fill="#ffffff"/>
<rect x="414.50" y="385.65" width="8.90" height="4.702" fill="#ffa0a0"/>
<rect x="423.40" y="385.65" width="8.90" height="4.702" fill="#ffb8b8"/>
<rect x="432.30" y="385.65" width="8.90" height="4.702" fill="#ffa0a0"/>
<rect x="441.20" y="385.65" width="8.90" height="4.702" fill="#ffd0d0"/>
<rect x="307.70" y="390.35" width="8.90" height="4.702" fill="#e6e6ff"/>
<rect x="316.60" y="390.35" width="8.90" height="4.702" fill="#e6e6ff"/>
<rect x="325.50" y="390.35" width="8.90" height="4.702" fill="#ccccff"/>
<rect x="334.40" y="390.35" width="8.90" height="4.702" fill="#b2b2ff"/>
<rect x="343.30" y="390.35" width="8.90" height="4.702" fill="#ffffff"/>
<rect x="352.20" y="390.35" width="8.90" height="4.702" fill="#b2b2ff"/>
<rect x="361.10" y="390.35" width="8.90" height="4.702" fill="#ccccff"/>
<rect x="370.00" y="390.35" width="8.90" height="4.702" fill="#ccccff"/>
<rect x="378.90" y="390.35" width="8.90" height="4.702" fill="#ccccff"/>
<rect x="387.80" y="390.35" width="8.90" height="4.702" fill="#e6e6ff"/>
<rect x="396.70" y="390.35" width="8.90" height="4.702" fill="#ffffff"/>
<rect x="405.60" y="390.35" width="8.90" height="4.702" fill="#ffffff"/>
<rect x="414.50" y="390.35" width="8.90" height="4.702" fill="#ffa0a0"/>
<rect x="423.40" y="390.35" width="8.90" height="4.702" fill="#ffd0d0"/>
<rect x="432.30" y="390.35" width="8.90" height="4.702" fill="#ffa0a0"/>
<rect x="441.20" y="390.35" width="8.90" height="4.702" fill="#ffe7e7"/>
<rect x="307.70" y="395.06" width="8.90" height="4.702" fill="#ccccff"/>
<rect x="316.60" y="395.06" width="8.90" height="4.702" fill="#ccccff"/>
<rect x="325.50" y="395.06" width="8.90" height="4.702" fill="#b2b2ff"/>
<rect x="334.40" y="395.06" width="8.90" height="4.702" fill="#b2b2ff"/>
<rect x="343.30" y="395.06" width="8.90" height="4.702" fill="#ffffff"/>
<rect x="352.20" y="395.06" width="8.90" height="4.702" fill="#9999ff"/>
<rect x="361.10" y="395.06" width="8.90" height="4.702" fill="#b2b2ff"/>
<rect x="370.00" y="395.06" width="8.90" height="4.702" fill="#ffffff"/>
<rect x="378.90" y="395.06" width="8.90" height="4.702" fill="#e6e6ff"/>
<rect x="387.80" y="395.06" width="8.90" height="4.702" fill="#ffffff"/>
<rect x="396.70" y="395.06" width="8.90" height="4.702" fill="#ffffff"/>
<rect x="405.60" y="395.06" width="8.90" height="4.702" fill="#ffffff"/>
<rect x="414.50" y="395.06" width="8.90" height="4.702" fill="#ff8888"/>
<rect x="423.40" y="395.06" width="8.90" height="4.702" fill="#ffb8b8"/>
<rect x="432.30" y="395.06" width="8.90" height="4.702" fill="#ff8888"/>
<rect x="441.20" y="395.06" width="8.90" height="4.702" fill="#ffd0d0"/>
<rect x="307.70" y="399.76" width="8.90" height="4.702" fill="#9999ff"/>
<rect x="316.60" y="399.76" width="8.90" height="4.702" fill="#ccccff"/>
<rect x="325.50" y="399.76" width="8.90" height="4.702" fill="#ccccff"/>
<rect x="334.40" y="399.76" width="8.90" height="4.702" fill="#ccccff"/>
<rect x="343.30" y="399.76" width="8.90" height="4.702" fill="#ffffff"/>
<rect x="352.20" y="399.76" width="8.90" height="4.702" fill="#9999ff"/>
<rect x="361.10" y="399.76" width="8.90" height="4.702" fill="#b2b2ff"/>
<rect x="370.00" y="399.76" width="8.90" height="4.702" fill="#e6e6ff"/>
<rect x="378.90" y="399.76" width="8.90" height="4.702" fill="#ffffff"/>
<rect x="387.80" y="399.76" width="8.90" height="4.702" fill="#ffe7e7"/>
<rect x="396.70" y="399.76" width="8.90" height="4.702" fill="#ffffff"/>
<rect x="405.60" y="399.76" width="8.90" height="4.702" fill="#ffffff"/>
<rect x="414.50" y="399.76" width="8.90" height="4.702" fill="#ff8888"/>
<rect x="423.40" y="399.76" width="8.90" height="4.702" fill="#ffb8b8"/>
<rect x="432.30" y="399.76" width="8.90" height="4.702" fill="#ff8888"/>
<rect x="441.20" y="399.76" width="8.90" height="4.702" fill="#ffd0d0"/>
<rect x="307.70" y="404.46" width="8.90" height="4.702" fill="#b2b2ff"/>
<rect x="316.60" y="404.46" width="8.90" height="4.702" fill="#ccccff"/>
<rect x="325.50" y="404.46" width="8.90" height="4.702" fill="#b2b2ff"/>
<rect x="334.40" y="404.46" width="8.90" height="4.702" fill="#b2b2ff"/>
<rect x="343.30" y="404.46" width="8.90" height="4.702" fill="#e6e6ff"/>
<rect x="352.20" y="404.46" width="8.90" height="4.702" fill="#9999ff"/>
<rect x="361.10" y="404.46" width="8.90" height="4.702" fill="#8080ff"/>
<rect x="370.00" y="404.46" width="8.90" height="4.702" fill="#ffe7e7"/>
<rect x="378.90" y="404.46" width="8.90" height="4.702" fill="#ffffff"/>
<rect x="387.80" y="404.46" width="8.90" height="4.702" fill="#ffe7e7"/>
<rect x="396.70" y="404.46" width="8.90" height="4.702" fill="#ffffff"/>
<rect x="405.60" y="404.46" width="8.90" height="4.702" fill="#ffe7e7"/>
<rect x="414.50" y="404.46" width="8.90" height="4.702" fill="#ff8888"/>
<rect x="423.40" y="404.46" width="8.90" height="4.702" fill="#ffb8b8"/>
<rect x="432.30" y="404.46" width="8.90" height="4.702" fill="#ff8888"/>
<rect x="441.20" y="404.46" width="8.90" height="4.702" fill="#ffd0d0"/>
<rect x="307.70" y="409.16" width="8.90" height="4.702" fill="#e6e6ff"/>
<rect x="316.60" y="409.16" width="8.90" height="4.702" fill="#e6e6ff"/>
<rect x="325.50" y="409.16" width="8.90" height="4.702" fill="#ccccff"/>
<rect x="334.40" y="409.16" width="8.90" height="4.702" fill="#ccccff"/>
<rect x="343.30" y="409.16" width="8.90" height="4.702" fill="#e6e6ff"/>
<rect x="352.20" y="409.16" width="8.90" height="4.702" fill="#b2b2ff"/>
<rect x="361.10" y="409.16" width="8.90" height="4.702" fill="#e6e6ff"/>
<rect x="370.00" y="409.16" width="8.90" height="4.702" fill="#e6e6ff"/>
<rect x="378.90" y="409.16" width="8.90" height="4.702" fill="#ccccff"/>
<rect x="387.80" y="409.16" width="8.90" height="4.702" fill="#ffe7e7"/>
<rect x="396.70" y="409.16" width="8.90" height="4.702" fill="#e6e6ff"/>
<rect x="405.60" y="409.16" width="8.90" height="4.702" fill="#ffffff"/>
<rect x="414.50" y="409.16" width="8.90" height="4.702" fill="#ffa0a0"/>
<rect x="423.40" y="409.16" width="8.90" height="4.702" fill="#ffb8b8"/>
<rect x="432.30" y="409.16" width="8.90" height="4.702" fill="#ffa0a0"/>
<rect x="441.20" y="409.16" width="8.90" height="4.702" fill="#ffd0d0"/>
<rect x="307.70" y="413.86" width="8.90" height="4.702" fill="#e6e6ff"/>
<rect x="316.60" y="413.86" width="8.90" height="4.702" fill="#e6e6ff"/>
<rect x="325.50" y="413.86" width="8.90" height="4.702" fill="#ccccff"/>
<rect x="334.40" y="413.86" width="8.90" height="4.702" fill="#ccccff"/>
<rect x="343.30" y="413.86" width="8.90" height="4.702" fill="#e6e6ff"/>
<rect x="352.20" y="413.86" width="8.90" height="4.702" fill="#b2b2ff"/>
<rect x="361.10" y="413.86" width="8.90" height="4.702" fill="#ccccff"/>
<rect x="370.00" y="413.86" width="8.90" height="4.702" fill="#e6e6ff"/>
<rect x="378.90" y="413.86" width="8.90" height="4.702" fill="#e6e6ff"/>
<rect x="387.80" y="413.86" width="8.90" height="4.702" fill="#ffe7e7"/>
<rect x="396.70" y="413.86" width="8.90" height="4.702" fill="#ffffff"/>
<rect x="405.60" y="413.86" width="8.90" height="4.702" fill="#ffffff"/>
<rect x="414.50" y="413.86" width="8.90" height="4.702" fill="#ffa0a0"/>
<rect x="423.40" y="413.86" width="8.90" height="4.702" fill="#ffb8b8"/>
<rect x="432.30" y="413.86" width="8.90" height="4.702" fill="#ffa0a0"/>
<rect x="441.20" y="413.86" width="8.90" height="4.702" fill="#ffffff"/>
<rect x="307.70" y="418.57" width="8.90" height="4.702" fill="#e6e6ff"/>
<rect x="316.60" y="418.57" width="8.90" height="4.702" fill="#e6e6ff"/>
<rect x="325.50" y="418.57" width="8.90" height="4.702" fill="#ccccff"/>
<rect x="334.40" y="418.57" width="8.90" height="4.702" fill="#ccccff"/>
<rect x="343.30" y="418.57" width="8.90" height="4.702" fill="#e6e6ff"/>
<rect x="352.20" y="418.57" width="8.90" height="4.702" fill="#ccccff"/>
<rect x="361.10" y="418.57" width="8.90" height="4.702" fill="#ccccff"/>
<rect x="370.00" y="418.57" width="8.90" height="4.702" fill="#e6e6ff"/>
<rect x="378.90" y="418.57" width="8.90" height="4.702" fill="#ffffff"/>
<rect x="387.80" y="418.57" width="8.90" height="4.702" fill="#ffe7e7"/>
<rect x="396.70" y="418.57" width="8.90" height="4.702" fill="#ffe7e7"/>
<rect x="405.60" y="418.57" width="8.90" height="4.702" fill="#ffe7e7"/>
<rect x="414.50" y="418.57" width="8.90" height="4.702" fill="#ffa0a0"/>
<rect x="423.40" y="418.57" width="8.90" height="4.702" fill="#ffb8b8"/>
<rect x="432.30" y="418.57" width="8.90" height="4.702" fill="#ffa0a0"/>
<rect x="441.20" y="418.57" width="8.90" height="4.702" fill="#ffd0d0"/>
<rect x="307.70" y="423.27" width="8.90" height="4.702" fill="#ccccff"/>
<rect x="316.60" y="423.27" width="8.90" height="4.702" fill="#e6e6ff"/>
<rect x="325.50" y="423.27" width="8.90" height="4.702" fill="#b2b2ff"/>
<rect x="334.40" y="423.27" width="8.90" height="4.702" fill="#b2b2ff"/>
<rect x="343.30" y="423.27" width="8.90" height="4.702" fill="#e6e6ff"/>
<rect x="352.20" y="423.27" width="8.90" height="4.702" fill="#b2b2ff"/>
<rect x="361.10" y="423.27" width="8.90" height="4.702" fill="#ccccff"/>
<rect x="370.00" y="423.27" width="8.90" height="4.702" fill="#e6e6ff"/>
<rect x="378.90" y="423.27" width="8.90" height="4.702" fill="#ffffff"/>
<rect x="387.80" y="423.27" width="8.90" height="4.702" fill="#ffd0d0"/>
<rect x="396.70" y="423.27" width="8.90" height="4.702" fill="#ffffff"/>
<rect x="405.60" y="423.27" width="8.90" height="4.702" fill="#ffe7e7"/>
<rect x="414.50" y="423.27" width="8.90" height="4.702" fill="#ff8888"/>
<rect x="423.40" y="423.27" width="8.90" height="4.702" fill="#ffb8b8"/>
<rect x="432.30" y="423.27" width="8.90" height="4.702" fill="#ffa0a0"/>
<rect x="441.20" y="423.27" width="8.90" height="4.702" fill="#ffd0d0"/>
<rect x="307.70" y="427.97" width="8.90" height="4.702" fill="#ccccff"/>
<rect x="316.60" y="427.97" width="8.90" height="4.702" fill="#ccccff"/>
<rect x="325.50" y="427.97" width="8.90" height="4.702" fill="#b2b2ff"/>
<rect x="334.40" y="427.97" width="8.90" height="4.702" fill="#b2b2ff"/>
<rect x="343.30" y="427.97" width="8.90" height="4.702" fill="#e6e6ff"/>
<rect x="352.20" y="427.97" width="8.90" height="4.702" fill="#b2b2ff"/>
<rect x="361.10" y="427.97" width="8.90" height="4.702" fill="#ccccff"/>
<rect x="370.00" y="427.97" width="8.90" height="4.702" fill="#e6e6ff"/>
<rect x="378.90" y="427.97" width="8.90" height="4.702" fill="#e6e6ff"/>
<rect x="387.80" y="427.97" width="8.90" height="4.702" fill="#ffe7e7"/>
<rect x="396.70" y="427.97" width="8.90" height="4.702" fill="#ffffff"/>
<rect x="405.60" y="427.97" width="8.90" height="4.702" fill="#ffe7e7"/>
<rect x="414.50" y="427.97" width="8.90" height="4.702" fill="#ff8888"/>
<rect x="423.40" y="427.97" width="8.90" height="4.702" fill="#ffb8b8"/>
<rect x="432.30" y="427.97" width="8.90" height="4.702" fill="#ffa0a0"/>
<rect x="441.20" y="427.97" width="8.90" height="4.702" fill="#ffd0d0"/>
<rect x="307.70" y="432.67" width="8.90" height="4.702" fill="#e6e6ff"/>
<rect x="316.60" y="432.67" width="8.90" height="4.702" fill="#e6e6ff"/>
<rect x="325.50" y="432.67" width="8.90" height="4.702" fill="#b2b2ff"/>
<rect x="334.40" y="432.67" width="8.90" height="4.702" fill="#9999ff"/>
<rect x="343.30" y="432.67" width="8.90" height="4.702" fill="#e6e6ff"/>
<rect x="352.20" y="432.67" width="8.90" height="4.702" fill="#9999ff"/>
<rect x="361.10" y="432.67" width="8.90" height="4.702" fill="#ccccff"/>
<rect x="370.00" y="432.67" width="8.90" height="4.702" fill="#e6e6ff"/>
<rect x="378.90" y="432.67" width="8.90" height="4.702" fill="#e6e6ff"/>
<rect x="387.80" y="432.67" width="8.90" height="4.702" fill="#ffe7e7"/>
<rect x="396.70" y="432.67" width="8.90" height="4.702" fill="#ffe7e7"/>
<rect x="405.60" y="432.67" width="8.90" height="4.702" fill="#ffffff"/>
<rect x="414.50" y="432.67" width="8.90" height="4.702" fill="#ff8888"/>
<rect x="423.40" y="432.67" width="8.90" height="4.702" fill="#ffb8b8"/>
<rect x="432.30" y="432.67" width="8.90" height="4.702" fill="#ffa0a0"/>
<rect x="441.20" y="432.67" width="8.90" height="4.702" fill="#ffd0d0"/>
<rect x="307.70" y="437.37" width="8.90" height="4.702" fill="#e6e6ff"/>
<rect x="316.60" y="437.37" width="8.90" height="4.702" fill="#e6e6ff"/>
<rect x="325.50" y="437.37" width="8.90" height="4.702" fill="#ccccff"/>
<rect x="334.40" y="437.37" width="8.90" height="4.702" fill="#ccccff"/>
<rect x="343.30" y="437.37" width="8.90" height="4.702" fill="#e6e6ff"/>
<rect x="352.20" y="437.37" width="8.90" height="4.702" fill="#ccccff"/>
<rect x="361.10" y="437.37" width="8.90" height="4.702" fill="#ccccff"/>
<rect x="370.00" y="437.37" width="8.90" height="4.702" fill="#e6e6ff"/>
<rect x="378.90" y="437.37" width="8.90" height="4.702" fill="#e6e6ff"/>
<rect x="387.80" y="437.37" width="8.90" height="4.702" fill="#ffe7e7"/>
<rect x="396.70" y="437.37" width="8.90" height="4.702" fill="#ffffff"/>
<rect x="405.60" y="437.37" width="8.90" height="4.702" fill="#ffe7e7"/>
<rect x="414.50" y="437.37" width="8.90" height="4.702" fill="#ffa0a0"/>
<rect x="423.40" y="437.37" width="8.90" height="4.702" fill="#ffb8b8"/>
<rect x="432.30" y="437.37" width="8.90" height="4.702" fill="#ff8888"/>
<rect x="441.20" y="437.37" width="8.90" height="4.702" fill="#ffd0d0"/>
<rect x="307.70" y="442.08" width="8.90" height="4.702" fill="#ccccff"/>
<rect x="316.60" y="442.08" width="8.90" height="4.702" fill="#e6e6ff"/>
<rect x="325.50" y="442.08" width="8.90" height="4.702" fill="#b2b2ff"/>
<rect x="334.40" y="442.08" width="8.90" height="4.702" fill="#b2b2ff"/>
<rect x="343.30" y="442.08" width="8.90" height="4.702" fill="#e6e6ff"/>
<rect x="352.20" y="442.08" width="8.90" height="4.702" fill="#b2b2ff"/>
<rect x="361.10" y="442.08" width="8.90" height="4.702" fill="#ccccff"/>
<rect x="370.00" y="442.08" width="8.90" height="4.702" fill="#e6e6ff"/>
<rect x="378.90" y="442.08" width="8.90" height="4.702" fill="#e6e6ff"/>
<rect x="387.80" y="442.08" width="8.90" height="4.702" fill="#ffe7e7"/>
<rect x="396.70" y="442.08" width="8.90" height="4.702" fill="#ffffff"/>
<rect x="405.60" y="442.08" width="8.90" height="4.702" fill="#ffe7e7"/>
<rect x="414.50" y="442.08" width="8.90" height="4.702" fill="#ffa0a0"/>
<rect x="423.40" y="442.08" width="8.90" height="4.702" fill="#ffb8b8"/>
<rect x="432.30" y="442.08" width="8.90" height="4.702" fill="#ffa0a0"/>
<rect x="441.20" y="442.08" width="8.90" height="4.702" fill="#ffd0d0"/>
<rect x="307.70" y="446.78" width="8.90" height="4.702" fill="#ccccff"/>
<rect x="316.60" y="446.78" width="8.90" height="4.702" fill="#ccccff"/>
<rect x="325.50" y="446.78" width="8.90" height="4.702" fill="#b2b2ff"/>
<rect x="334.40" y="446.78" width="8.90" height="4.702" fill="#ccccff"/>
<rect x="343.30" y="446.78" width="8.90" height="4.702" fill="#e6e6ff"/>
<rect x="352.20" y="446.78" width="8.90" height="4.702" fill="#ccccff"/>
<rect x="361.10" y="446.78" width="8.90" height="4.702" fill="#ccccff"/>
<rect x="370.00" y="446.78" width="8.90" height="4.702" fill="#ffe7e7"/>
<rect x="378.90" y="446.78" width="8.90" height="4.702" fill="#e6e6ff"/>
<rect x="387.80" y="446.78" width="8.90" height="4.702" fill="#ffffff"/>
<rect x="396.70" y="446.78" width="8.90" height="4.702" fill="#ffffff"/>
<rect x="405.60" y="446.78" width="8.90" height="4.702" fill="#ffffff"/>
<rect x="414.50" y="446.78" width="8.90" height="4.702" fill="#ffa0a0"/>
<rect x="423.40" y="446.78" width="8.90" height="4.702" fill="#ffd0d0"/>
<rect x="432.30" y="446.78" width="8.90" height="4.702" fill="#ffb8b8"/>
<rect x="441.20" y="446.78" width="8.90" height="4.702" fill="#ffd0d0"/>
<rect x="307.70" y="451.48" width="8.90" height="4.702" fill="#ccccff"/>
<rect x="316.60" y="451.48" width="8.90" height="4.702" fill="#ccccff"/>
<rect x="325.50" y="451.48" width="8.90" height="4.702" fill="#ccccff"/>
<rect x="334.40" y="451.48" width="8.90" height="4.702" fill="#b2b2ff"/>
<rect x="343.30" y="451.48" width="8.90" height="4.702" fill="#e6e6ff"/>
<rect x="352.20" y="451.48" width="8.90" height="4.702" fill="#ccccff"/>
<rect x="361.10" y="451.48" width="8.90" height="4.702" fill="#ccccff"/>
<rect x="370.00" y="451.48" width="8.90" height="4.702" fill="#e6e6ff"/>
<rect x="378.90" y="451.48" width="8.90" height="4.702" fill="#ffe7e7"/>
<rect x="387.80" y="451.48" width="8.90" height="4.702" fill="#ffe7e7"/>
<rect x="396.70" y="451.48" width="8.90" height="4.702" fill="#e6e6ff"/>
<rect x="405.60" y="451.48" width="8.90" height="4.702" fill="#ffe7e7"/>
<rect x="414.50" y="451.48" width="8.90" height="4.702" fill="#ff8888"/>
<rect x="423.40" y="451.48" width="8.90" height="4.702" fill="#ffd0d0"/>
<rect x="432.30" y="451.48" width="8.90" height="4.702" fill="#ffa0a0"/>
<rect x="441.20" y="451.48" width="8.90" height="4.702" fill="#ffd0d0"/>
<rect x="307.70" y="456.18" width="8.90" height="4.702" fill="#e6e6ff"/>
<rect x="316.60" y="456.18" width="8.90" height="4.702" fill="#8080ff"/>
<rect x="325.50" y="456.18" width="8.90" height="4.702" fill="#9999ff"/>
<rect x="334.40" y="456.18" width="8.90" height="4.702" fill="#3333ff"/>
<rect x="343.30" y="456.18" width="8.90" height="4.702" fill="#ffe7e7"/>
<rect x="352.20" y="456.18" width="8.90" height="4.702" fill="#e6e6ff"/>
<rect x="361.10" y="456.18" width="8.90" height="4.702" fill="#ffffff"/>
<rect x="370.00" y="456.18" width="8.90" height="4.702" fill="#b2b2ff"/>
<rect x="378.90" y="456.18" width="8.90" height="4.702" fill="#ffe7e7"/>
<rect x="387.80" y="456.18" width="8.90" height="4.702" fill="#e6e6ff"/>
<rect x="396.70" y="456.18" width="8.90" height="4.702" fill="#ffffff"/>
<rect x="405.60" y="456.18" width="8.90" height="4.702" fill="#ffd0d0"/>
<rect x="414.50" y="456.18" width="8.90" height="4.702" fill="#ff8888"/>
<rect x="423.40" y="456.18" width="8.90" height="4.702" fill="#ffb8b8"/>
<rect x="432.30" y="456.18" width="8.90" height="4.702" fill="#ffa0a0"/>
<rect x="441.20" y="456.18" width="8.90" height="4.702" fill="#ffd0d0"/>
<rect x="307.70" y="460.88" width="8.90" height="4.702" fill="#e6e6ff"/>
<rect x="316.60" y="460.88" width="8.90" height="4.702" fill="#ccccff"/>
<rect x="325.50" y="460.88" width="8.90" height="4.702" fill="#e6e6ff"/>
<rect x="334.40" y="460.88" width="8.90" height="4.702" fill="#b2b2ff"/>
<rect x="343.30" y="460.88" width="8.90" height="4.702" fill="#ffe7e7"/>
<rect x="352.20" y="460.88" width="8.90" height="4.702" fill="#e6e6ff"/>
<rect x="361.10" y="460.88" width="8.90" height="4.702" fill="#ccccff"/>
<rect x="370.00" y="460.88" width="8.90" height="4.702" fill="#b2b2ff"/>
<rect x="378.90" y="460.88" width="8.90" height="4.702" fill="#ffe7e7"/>
<rect x="387.80" y="460.88" width="8.90" height="4.702" fill="#e6e6ff"/>
<rect x="396.70" y="460.88" width="8.90" height="4.702" fill="#ffffff"/>
<rect x="405.60" y="460.88" width="8.90" height="4.702" fill="#ffffff"/>
<rect x="414.50" y="460.88" width="8.90" height="4.702" fill="#ffa0a0"/>
<rect x="423.40" y="460.88" width="8.90" height="4.702" fill="#ffb8b8"/>
<rect x="432.30" y="460.88" width="8.90" height="4.702" fill="#ffb8b8"/>
<rect x="441.20" y="460.88" width="8.90" height="4.702" fill="#ffd0d0"/>
<rect x="307.70" y="465.59" width="8.90" height="4.702" fill="#e6e6ff"/>
<rect x="316.60" y="465.59" width="8.90" height="4.702" fill="#e6e6ff"/>
<rect x="325.50" y="465.59" width="8.90" height="4.702" fill="#ccccff"/>
<rect x="334.40" y="465.59" width="8.90" height="4.702" fill="#b2b2ff"/>
<rect x="343.30" y="465.59" width="8.90" height="4.702" fill="#e6e6ff"/>
<rect x="352.20" y="465.59" width="8.90" height="4.702" fill="#b2b2ff"/>
<rect x="361.10" y="465.59" width="8.90" height="4.702" fill="#e6e6ff"/>
<rect x="370.00" y="465.59" width="8.90" height="4.702" fill="#b2b2ff"/>
<rect x="378.90" y="465.59" width="8.90" height="4.702" fill="#ffe7e7"/>
<rect x="387.80" y="465.59" width="8.90" height="4.702" fill="#ffffff"/>
<rect x="396.70" y="465.59" width="8.90" height="4.702" fill="#ffffff"/>
<rect x="405.60" y="465.59" width="8.90" height="4.702" fill="#ffe7e7"/>
<rect x="414.50" y="465.59" width="8.90" height="4.702" fill="#ffb8b8"/>
<rect x="423.40" y="465.59" width="8.90" height="4.702" fill="#ffb8b8"/>
<rect x="432.30" y="465.59" width="8.90" height="4.702" fill="#ffb8b8"/>
<rect x="441.20" y="465.59" width="8.90" height="4.702" fill="#ffd0d0"/>
<rect x="307.70" y="470.29" width="8.90" height="4.702" fill="#ffffff"/>
<rect x="316.60" y="470.29" width="8.90" height="4.702" fill="#ccccff"/>
<rect x="325.50" y="470.29" width="8.90" height="4.702" fill="#ccccff"/>
<rect x="334.40" y="470.29" width="8.90" height="4.702" fill="#b2b2ff"/>
<rect x="343.30" y="470.29" width="8.90" height="4.702" fill="#ffffff"/>
<rect x="352.20" y="470.29" width="8.90" height="4.702" fill="#ccccff"/>
<rect x="361.10" y="470.29" width="8.90" height="4.702" fill="#ccccff"/>
<rect x="370.00" y="470.29" width="8.90" height="4.702" fill="#9999ff"/>
<rect x="378.90" y="470.29" width="8.90" height="4.702" fill="#ffffff"/>
<rect x="387.80" y="470.29" width="8.90" height="4.702" fill="#ffffff"/>
<rect x="396.70" y="470.29" width="8.90" height="4.702" fill="#ffe7e7"/>
<rect x="405.60" y="470.29" width="8.90" height="4.702" fill="#ffffff"/>
<rect x="414.50" y="470.29" width="8.90" height="4.702" fill="#ffa0a0"/>
<rect x="423.40" y="470.29" width="8.90" height="4.702" fill="#ffd0d0"/>
<rect x="432.30" y="470.29" width="8.90" height="4.702" fill="#ffb8b8"/>
<rect x="441.20" y="470.29" width="8.90" height="4.702" fill="#ffd0d0"/>
<rect x="307.70" y="474.99" width="8.90" height="4.702" fill="#e6e6ff"/>
<rect x="316.60" y="474.99" width="8.90" height="4.702" fill="#ffffff"/>
<rect x="325.50" y="474.99" width="8.90" height="4.702" fill="#ccccff"/>
<rect x="334.40" y="474.99" width="8.90" height="4.702" fill="#ccccff"/>
<rect x="343.30" y="474.99" width="8.90" height="4.702" fill="#ffffff"/>
<rect x="352.20" y="474.99" width="8.90" height="4.702" fill="#ccccff"/>
<rect x="361.10" y="474.99" width="8.90" height="4.702" fill="#e6e6ff"/>
<rect x="370.00" y="474.99" width="8.90" height="4.702" fill="#ccccff"/>
<rect x="378.90" y="474.99" width="8.90" height="4.702" fill="#ffffff"/>
<rect x="387.80" y="474.99" width="8.90" height="4.702" fill="#ffffff"/>
<rect x="396.70" y="474.99" width="8.90" height="4.702" fill="#e6e6ff"/>
<rect x="405.60" y="474.99" width="8.90" height="4.702" fill="#e6e6ff"/>
<rect x="414.50" y="474.99" width="8.90" height="4.702" fill="#ffa0a0"/>
<rect x="423.40" y="474.99" width="8.90" height="4.702" fill="#ffd0d0"/>
<rect x="432.30" y="474.99" width="8.90" height="4.702" fill="#ffa0a0"/>
<rect x="441.20" y="474.99" width="8.90" height="4.702" fill="#ffd0d0"/>
<rect x="307.70" y="479.69" width="8.90" height="4.702" fill="#e6e6ff"/>
<rect x="316.60" y="479.69" width="8.90" height="4.702" fill="#e6e6ff"/>
<rect x="325.50" y="479.69" width="8.90" height="4.702" fill="#ccccff"/>
<rect x="334.40" y="479.69" width="8.90" height="4.702" fill="#b2b2ff"/>
<rect x="343.30" y="479.69" width="8.90" height="4.702" fill="#ffe7e7"/>
<rect x="352.20" y="479.69" width="8.90" height="4.702" fill="#ccccff"/>
<rect x="361.10" y="479.69" width="8.90" height="4.702" fill="#e6e6ff"/>
<rect x="370.00" y="479.69" width="8.90" height="4.702" fill="#ccccff"/>
<rect x="378.90" y="479.69" width="8.90" height="4.702" fill="#e6e6ff"/>
<rect x="387.80" y="479.69" width="8.90" height="4.702" fill="#e6e6ff"/>
<rect x="396.70" y="479.69" width="8.90" height="4.702" fill="#ffffff"/>
<rect x="405.60" y="479.69" width="8.90" height="4.702" fill="#ffffff"/>
<rect x="414.50" y="479.69" width="8.90" height="4.702" fill="#ffa0a0"/>
<rect x="423.40" y="479.69" width="8.90" height="4.702" fill="#ffd0d0"/>
<rect x="432.30" y="479.69" width="8.90" height="4.702" fill="#ffa0a0"/>
<rect x="441.20" y="479.69" width="8.90" height="4.702" fill="#ffd0d0"/>
<rect x="307.70" y="484.39" width="8.90" height="4.702" fill="#ffffff"/>
<rect x="316.60" y="484.39" width="8.90" height="4.702" fill="#ccccff"/>
<rect x="325.50" y="484.39" width="8.90" height="4.702" fill="#ccccff"/>
<rect x="334.40" y="484.39" width="8.90" height="4.702" fill="#ccccff"/>
<rect x="343.30" y="484.39" width="8.90" height="4.702" fill="#ffffff"/>
<rect x="352.20" y="484.39" width="8.90" height="4.702" fill="#ccccff"/>
<rect x="361.10" y="484.39" width="8.90" height="4.702" fill="#ffffff"/>
<rect x="370.00" y="484.39" width="8.90" height="4.702" fill="#ccccff"/>
<rect x="378.90" y="484.39" width="8.90" height="4.702" fill="#e6e6ff"/>
<rect x="387.80" y="484.39" width="8.90" height="4.702" fill="#e6e6ff"/>
<rect x="396.70" y="484.39" width="8.90" height="4.702" fill="#ffffff"/>
<rect x="405.60" y="484.39" width="8.90" height="4.702" fill="#ffffff"/>
<rect x="414.50" y="484.39" width="8.90" height="4.702" fill="#ffa0a0"/>
<rect x="423.40" y="484.39" width="8.90" height="4.702" fill="#ffd0d0"/>
<rect x="432.30" y="484.39" width="8.90" height="4.702" fill="#ffb8b8"/>
<rect x="441.20" y="484.39" width="8.90" height="4.702" fill="#ffe7e7"/>
<rect x="307.70" y="489.10" width="8.90" height="4.702" fill="#ccccff"/>
<rect x="316.60" y="489.10" width="8.90" height="4.702" fill="#e6e6ff"/>
<rect x="325.50" y="489.10" width="8.90" height="4.702" fill="#b2b2ff"/>
<rect x="334.40" y="489.10" width="8.90" height="4.702" fill="#ccccff"/>
<rect x="343.30" y="489.10" width="8.90" height="4.702" fill="#ffffff"/>
<rect x="352.20" y="489.10" width="8.90" height="4.702" fill="#ccccff"/>
<rect x="361.10" y="489.10" width="8.90" height="4.702" fill="#e6e6ff"/>
<rect x="370.00" y="489.10" width="8.90" height="4.702" fill="#ccccff"/>
<rect x="378.90" y="489.10" width="8.90" height="4.702" fill="#ffffff"/>
<rect x="387.80" y="489.10" width="8.90" height="4.702" fill="#ffffff"/>
<rect x="396.70" y="489.10" width="8.90" height="4.702" fill="#ffffff"/>
<rect x="405.60" y="489.10" width="8.90" height="4.702" fill="#ffffff"/>
<rect x="414.50" y="489.10" width="8.90" height="4.702" fill="#ffa0a0"/>
<rect x="423.40" y="489.10" width="8.90" height="4.702" fill="#ffd0d0"/>
<rect x="432.30" y="489.10" width="8.90" height="4.702" fill="#ffb8b8"/>
<rect x="441.20" y="489.10" width="8.90" height="4.702" fill="#ffd0d0"/>
<rect x="307.70" y="493.80" width="8.90" height="4.702" fill="#ffffff"/>
<rect x="316.60" y="493.80" width="8.90" height="4.702" fill="#e6e6ff"/>
<rect x="325.50" y="493.80" width="8.90" height="4.702" fill="#ccccff"/>
<rect x="334.40" y="493.80" width="8.90" height="4.702" fill="#ccccff"/>
<rect x="343.30" y="493.80" width="8.90" height="4.702" fill="#ffffff"/>
<rect x="352.20" y="493.80" width="8.90" height="4.702" fill="#ccccff"/>
<rect x="361.10" y="493.80" width="8.90" height="4.702" fill="#e6e6ff"/>
<rect x="370.00" y="493.80" width="8.90" height="4.702" fill="#e6e6ff"/>
<rect x="378.90" y="493.80" width="8.90" height="4.702" fill="#e6e6ff"/>
<rect x="387.80" y="493.80" width="8.90" height="4.702" fill="#e6e6ff"/>
<rect x="396.70" y="493.80" width="8.90" height="4.702" fill="#e6e6ff"/>
<rect x="405.60" y="493.80" width="8.90" height="4.702" fill="#e6e6ff"/>
<rect x="414.50" y="493.80" width="8.90" height="4.702" fill="#ffa0a0"/>
<rect x="423.40" y="493.80" width="8.90" height="4.702" fill="#ffd0d0"/>
<rect x="432.30" y="493.80" width="8.90" height="4.702" fill="#ffb8b8"/>
<rect x="441.20" y="493.80" width="8.90" height="4.702" fill="#ffd0d0"/>
<path d="M307.70,37.70H450.10M307.70,42.40H450.10M307.70,47.11H450.10M307.70,51.81H450.10M307.70,56.51H450.10M307.70,61.21H450.10M307.70,65.91H450.10M307.70,70.62H450.10M307.70,75.32H450.10M307.70,80.02H450.10M307.70,84.72H450.10M307.70,89.42H450.10M307.70,94.13H450.10M307.70,98.83H450.10M307.70,103.53H450.10M307.70,108.23H450.10M307.70,112.93H450.10M307.70,117.64H450.10M307.70,122.34H450.10M307.70,127.04H450.10M307.70,131.74H450.10M307.70,136.44H450.10M307.70,141.15H450.10M307.70,145.85H450.10M307.70,150.55H450.10M307.70,155.25H450.10M307.70,159.95H450.10M307.70,164.66H450.10M307.70,169.36H450.10M307.70,174.06H450.10M307.70,178.76H450.10M307.70,183.46H450.10M307.70,188.17H450.10M307.70,192.87H450.10M307.70,197.57H450.10M307.70,202.27H450.10M307.70,206.97H450.10M307.70,211.68H450.10M307.70,216.38H450.10M307.70,221.08H450.10M307.70,225.78H450.10M307.70,230.48H450.10M307.70,235.19H450.10M307.70,239.89H450.10M307.70,244.59H450.10M307.70,249.29H450.10M307.70,253.99H450.10M307.70,258.70H450.10M307.70,263.40H450.10M307.70,268.10H450.10M307.70,272.80H450.10M307.70,277.51H450.10M307.70,282.21H450.10M307.70,286.91H450.10M307.70,291.61H450.10M307.70,296.31H450.10M307.70,301.02H450.10M307.70,305.72H450.10M307.70,310.42H450.10M307.70,315.12H450.10M307.70,319.82H450.10M307.70,324.53H450.10M307.70,329.23H450.10M307.70,333.93H450.10M307.70,338.63H450.10M307.70,343.33H450.10M307.70,348.04H450.10M307.70,352.74H450.10M307.70,357.44H450.10M307.70,362.14H450.10M307.70,366.84H450.10M307.70,371.55H450.10M307.70,376.25H450.10M307.70,380.95H450.10M307.70,385.65H450.10M307.70,390.35H450.10M307.70,395.06H450.10M307.70,399.76H450.10M307.70,404.46H450.10M307.70,409.16H450.10M307.70,413.86H450.10M307.70,418.57H450.10M307.70,423.27H450.10M307.70,427.97H450.10M307.70,432.67H450.10M307.70,437.37H450.10M307.70,442.08H450.10M307.70,446.78H450.10M307.70,451.48H450.10M307.70,456.18H450.10M307.70,460.88H450.10M307.70,465.59H450.10M307.70,470.29H450.10M307.70,474.99H450.10M307.70,479.69H450.10M307.70,484.39H450.10M307.70,489.10H450.10M307.70,493.80H450.10M316.60,33.00V498.30M325.50,33.00V498.30M334.40,33.00V498.30M343.30,33.00V498.30M352.20,33.00V498.30M361.10,33.00V498.30M370.00,33.00V498.30M378.90,33.00V498.30M387.80,33.00V498.30M396.70,33.00V498.30M405.60,33.00V498.30M414.50,33.00V498.30M423.40,33.00V498.30M432.30,33.00V498.30M441.20,33.00V498.30" stroke="#8c8c8c" stroke-width="0.7" fill="none"/>
<line x1="307.20" y1="498.30" x2="450.10" y2="498.30" stroke="#333" stroke-width="0.9" />
<line x1="307.50" y1="14.40" x2="307.50" y2="498.30" stroke="#333" stroke-width="0.8" />
<line x1="450.50" y1="32.80" x2="450.50" y2="498.30" stroke="#333" stroke-width="0.7" />
<rect x="307.70" y="14.40" width="70.50" height="8.80" fill="none" stroke="#2a2a2a" stroke-width="0.8"/>
<rect x="379.50" y="14.40" width="70.70" height="8.80" fill="none" stroke="#2a2a2a" stroke-width="0.8"/>
<rect x="307.70" y="23.20" width="35.20" height="9.30" fill="none" stroke="#2a2a2a" stroke-width="0.8"/>
<rect x="343.80" y="23.20" width="34.40" height="9.30" fill="none" stroke="#2a2a2a" stroke-width="0.8"/>
<rect x="379.50" y="23.20" width="34.70" height="9.30" fill="none" stroke="#2a2a2a" stroke-width="0.8"/>
<rect x="415.10" y="23.20" width="35.10" height="9.30" fill="none" stroke="#2a2a2a" stroke-width="0.8"/>
<text x="0" y="0" font-size="8.6" transform="translate(343.00,21.90) scale(0.95,1)" text-anchor="middle">Old</text>
<text x="0" y="0" font-size="8.6" transform="translate(414.60,21.90) scale(0.86,1)" text-anchor="middle">Young</text>
<text x="0" y="0" transform="translate(325.3,30.6) scale(0.95,1)" font-size="7" text-anchor="middle" fill="#333"><tspan font-style="italic">Igf2bp2</tspan><tspan font-size="3.6" dx="0.3" dy="-2.6" fill="#666">−/−</tspan></text>
<text x="0" y="0" transform="translate(361,30.6) scale(0.95,1)" font-size="7" text-anchor="middle" fill="#333"><tspan font-style="italic">Igf2bp2</tspan><tspan font-size="3.6" dx="0.3" dy="-2.6" fill="#666">+/+</tspan></text>
<text x="0" y="0" transform="translate(396.8,30.6) scale(0.95,1)" font-size="7" text-anchor="middle" fill="#333"><tspan font-style="italic">Igf2bp2</tspan><tspan font-size="3.6" dx="0.3" dy="-2.6" fill="#666">−/−</tspan></text>
<text x="0" y="0" transform="translate(432.6,30.6) scale(0.95,1)" font-size="7" text-anchor="middle" fill="#333"><tspan font-style="italic">Igf2bp2</tspan><tspan font-size="3.6" dx="0.3" dy="-2.6" fill="#666">+/+</tspan></text>
<text x="0" y="0" transform="translate(451.80,38.05) scale(0.98,1)" font-size="7.6" stroke="#231f20" stroke-width="0.22">Ctsh</text>
<line x1="450.6" y1="40.55" x2="478.60" y2="40.55" stroke="#1a1a1a" stroke-width="0.75" stroke-dasharray="1.1 0.55"/>
<text x="0" y="0" transform="translate(479.20,42.75) scale(0.98,1)" font-size="7.6" stroke="#231f20" stroke-width="0.22">Dalrd3</text>
<text x="0" y="0" transform="translate(451.80,47.46) scale(0.98,1)" font-size="7.6" stroke="#231f20" stroke-width="0.22">Surf1</text>
<line x1="450.6" y1="49.96" x2="478.60" y2="49.96" stroke="#1a1a1a" stroke-width="0.75" stroke-dasharray="1.1 0.55"/>
<text x="0" y="0" transform="translate(479.20,52.16) scale(0.98,1)" font-size="7.6" stroke="#231f20" stroke-width="0.22">Pcsk4</text>
<text x="0" y="0" transform="translate(451.80,56.86) scale(0.98,1)" font-size="7.6" stroke="#231f20" stroke-width="0.22">Psmb8</text>
<line x1="450.6" y1="59.36" x2="478.60" y2="59.36" stroke="#1a1a1a" stroke-width="0.75" stroke-dasharray="1.1 0.55"/>
<text x="0" y="0" transform="translate(479.20,61.56) scale(0.98,1)" font-size="7.6" stroke="#231f20" stroke-width="0.22">Psmb9</text>
<text x="0" y="0" transform="translate(451.80,66.26) scale(0.98,1)" font-size="7.6" stroke="#231f20" stroke-width="0.22">Gabarap</text>
<line x1="450.6" y1="68.77" x2="478.60" y2="68.77" stroke="#1a1a1a" stroke-width="0.75" stroke-dasharray="1.1 0.55"/>
<text x="0" y="0" transform="translate(479.20,70.97) scale(0.98,1)" font-size="7.6" stroke="#231f20" stroke-width="0.22">Pam16</text>
<text x="0" y="0" transform="translate(451.80,75.67) scale(0.98,1)" font-size="7.6" stroke="#231f20" stroke-width="0.22">Trnau1ap</text>
<line x1="450.6" y1="78.17" x2="478.60" y2="78.17" stroke="#1a1a1a" stroke-width="0.75" stroke-dasharray="1.1 0.55"/>
<text x="0" y="0" transform="translate(479.20,82.87) scale(0.98,1)" font-size="7.6" stroke="#231f20" stroke-width="0.22">Mrpl4</text>
<text x="0" y="0" transform="translate(451.80,85.07) scale(0.98,1)" font-size="7.6" stroke="#231f20" stroke-width="0.22">Ndufaf5</text>
<line x1="450.6" y1="87.57" x2="478.60" y2="87.57" stroke="#1a1a1a" stroke-width="0.75" stroke-dasharray="1.1 0.55"/>
<text x="0" y="0" transform="translate(479.20,90.37) scale(0.98,1)" font-size="7.6" stroke="#231f20" stroke-width="0.22">Psenen</text>
<text x="0" y="0" transform="translate(451.80,94.48) scale(0.98,1)" font-size="7.6" stroke="#231f20" stroke-width="0.22">Uqcc3</text>
<line x1="450.6" y1="96.98" x2="478.60" y2="96.98" stroke="#1a1a1a" stroke-width="0.75" stroke-dasharray="1.1 0.55"/>
<text x="0" y="0" transform="translate(479.20,99.18) scale(0.98,1)" font-size="7.6" stroke="#231f20" stroke-width="0.22">Psmb10<tspan fill="#6a2c9a" stroke="none" font-size="8" dx="0.1">★</tspan></text>
<text x="0" y="0" transform="translate(451.80,103.88) scale(0.98,1)" font-size="7.6" stroke="#231f20" stroke-width="0.22">Malsu1</text>
<line x1="450.6" y1="106.38" x2="478.60" y2="106.38" stroke="#1a1a1a" stroke-width="0.75" stroke-dasharray="1.1 0.55"/>
<text x="0" y="0" transform="translate(479.20,110.28) scale(0.98,1)" font-size="7.6" stroke="#231f20" stroke-width="0.22">Mcee</text>
<text x="0" y="0" transform="translate(451.80,113.28) scale(0.98,1)" font-size="7.6" stroke="#231f20" stroke-width="0.22">Cox14</text>
<line x1="450.6" y1="115.79" x2="478.60" y2="115.79" stroke="#1a1a1a" stroke-width="0.75" stroke-dasharray="1.1 0.55"/>
<text x="0" y="0" transform="translate(479.20,117.99) scale(0.98,1)" font-size="7.6" stroke="#231f20" stroke-width="0.22">Ethe1</text>
<text x="0" y="0" transform="translate(451.80,122.69) scale(0.98,1)" font-size="7.6" stroke="#231f20" stroke-width="0.22">Ssbp1</text>
<line x1="450.6" y1="125.19" x2="478.60" y2="125.19" stroke="#1a1a1a" stroke-width="0.75" stroke-dasharray="1.1 0.55"/>
<text x="0" y="0" transform="translate(479.20,127.39) scale(0.98,1)" font-size="7.6" stroke="#231f20" stroke-width="0.22">Mthfs</text>
<text x="0" y="0" transform="translate(451.80,132.09) scale(0.98,1)" font-size="7.6" stroke="#231f20" stroke-width="0.22">Bcl2l2</text>
<line x1="450.6" y1="134.59" x2="478.60" y2="134.59" stroke="#1a1a1a" stroke-width="0.75" stroke-dasharray="1.1 0.55"/>
<text x="0" y="0" transform="translate(479.20,136.79) scale(0.98,1)" font-size="7.6" stroke="#231f20" stroke-width="0.22">Gabarapl2</text>
<text x="0" y="0" transform="translate(451.80,141.50) scale(0.98,1)" font-size="7.6" stroke="#231f20" stroke-width="0.22">Slc25a4</text>
<line x1="450.6" y1="144.00" x2="478.60" y2="144.00" stroke="#1a1a1a" stroke-width="0.75" stroke-dasharray="1.1 0.55"/>
<text x="0" y="0" transform="translate(479.20,146.20) scale(0.98,1)" font-size="7.6" stroke="#231f20" stroke-width="0.22">Mthfsl</text>
<text x="0" y="0" transform="translate(451.80,150.90) scale(0.98,1)" font-size="7.6" stroke="#231f20" stroke-width="0.22">Igf1</text>
<line x1="450.6" y1="153.40" x2="478.60" y2="153.40" stroke="#1a1a1a" stroke-width="0.75" stroke-dasharray="1.1 0.55"/>
<text x="0" y="0" transform="translate(479.20,155.60) scale(0.98,1)" font-size="7.6" stroke="#231f20" stroke-width="0.22">Apoe</text>
<text x="0" y="0" transform="translate(451.80,160.30) scale(0.98,1)" font-size="7.6" stroke="#231f20" stroke-width="0.22">Rps23</text>
<line x1="450.6" y1="162.81" x2="478.60" y2="162.81" stroke="#1a1a1a" stroke-width="0.75" stroke-dasharray="1.1 0.55"/>
<text x="0" y="0" transform="translate(479.20,165.01) scale(0.98,1)" font-size="7.6" stroke="#231f20" stroke-width="0.22">Fam162a</text>
<text x="0" y="0" transform="translate(451.80,169.71) scale(0.98,1)" font-size="7.6" stroke="#231f20" stroke-width="0.22">Cox17</text>
<line x1="450.6" y1="172.21" x2="478.60" y2="172.21" stroke="#1a1a1a" stroke-width="0.75" stroke-dasharray="1.1 0.55"/>
<text x="0" y="0" transform="translate(479.20,174.41) scale(0.98,1)" font-size="7.6" stroke="#231f20" stroke-width="0.22">Mrps21</text>
<text x="0" y="0" transform="translate(451.80,179.11) scale(0.98,1)" font-size="7.6" stroke="#231f20" stroke-width="0.22">Ndufa2<tspan fill="#d4a017" stroke="none" font-size="8" dx="0.1">★</tspan></text>
<line x1="450.6" y1="181.61" x2="481.20" y2="181.61" stroke="#1a1a1a" stroke-width="0.75" stroke-dasharray="1.1 0.55"/>
<text x="0" y="0" transform="translate(481.80,183.81) scale(0.98,1)" font-size="7.6" stroke="#231f20" stroke-width="0.22">Cox7a2</text>
<text x="0" y="0" transform="translate(451.80,188.52) scale(0.98,1)" font-size="7.6" stroke="#231f20" stroke-width="0.22">Ndufs6<tspan fill="#d4a017" stroke="none" font-size="8" dx="0.1">★</tspan></text>
<line x1="450.6" y1="191.02" x2="480.40" y2="191.02" stroke="#1a1a1a" stroke-width="0.75" stroke-dasharray="1.1 0.55"/>
<text x="0" y="0" transform="translate(481.00,193.22) scale(0.98,1)" font-size="7.6" stroke="#231f20" stroke-width="0.22">Mrpl36</text>
<text x="0" y="0" transform="translate(451.80,197.92) scale(0.98,1)" font-size="7.6" stroke="#231f20" stroke-width="0.22">Mrpl34</text>
<line x1="450.6" y1="200.42" x2="478.60" y2="200.42" stroke="#1a1a1a" stroke-width="0.75" stroke-dasharray="1.1 0.55"/>
<text x="0" y="0" transform="translate(479.20,202.62) scale(0.98,1)" font-size="7.6" stroke="#231f20" stroke-width="0.22">Chchd2</text>
<text x="0" y="0" transform="translate(451.80,207.32) scale(0.98,1)" font-size="7.6" stroke="#231f20" stroke-width="0.22">Ndufb7<tspan fill="#d4a017" stroke="none" font-size="8" dx="0.1">★</tspan></text>
<line x1="450.6" y1="209.83" x2="482.30" y2="209.83" stroke="#1a1a1a" stroke-width="0.75" stroke-dasharray="1.1 0.55"/>
<text x="0" y="0" transform="translate(482.90,212.03) scale(0.98,1)" font-size="7.6" stroke="#231f20" stroke-width="0.22">Gpx1<tspan fill="#d4a017" stroke="none" font-size="8" dx="0.1">★</tspan></text>
<text x="0" y="0" transform="translate(451.80,216.73) scale(0.98,1)" font-size="7.6" stroke="#231f20" stroke-width="0.22">Psmb3<tspan fill="#6a2c9a" stroke="none" font-size="8" dx="0.1">★</tspan></text>
<line x1="450.6" y1="219.23" x2="480.40" y2="219.23" stroke="#1a1a1a" stroke-width="0.75" stroke-dasharray="1.1 0.55"/>
<text x="0" y="0" transform="translate(481.00,222.23) scale(0.98,1)" font-size="7.6" stroke="#231f20" stroke-width="0.22">Rpl29</text>
<text x="0" y="0" transform="translate(451.80,226.13) scale(0.98,1)" font-size="7.6" stroke="#231f20" stroke-width="0.22">Rpl8</text>
<line x1="450.6" y1="228.63" x2="478.60" y2="228.63" stroke="#1a1a1a" stroke-width="0.75" stroke-dasharray="1.1 0.55"/>
<text x="0" y="0" transform="translate(479.20,230.83) scale(0.98,1)" font-size="7.6" stroke="#231f20" stroke-width="0.22">Timm17b</text>
<text x="0" y="0" transform="translate(451.80,235.54) scale(0.98,1)" font-size="7.6" stroke="#231f20" stroke-width="0.22">Atp5d</text>
<line x1="450.6" y1="238.04" x2="478.60" y2="238.04" stroke="#1a1a1a" stroke-width="0.75" stroke-dasharray="1.1 0.55"/>
<text x="0" y="0" transform="translate(479.20,240.24) scale(0.98,1)" font-size="7.6" stroke="#231f20" stroke-width="0.22">Park7</text>
<text x="0" y="0" transform="translate(451.80,245.84) scale(0.98,1)" font-size="7.6" stroke="#231f20" stroke-width="0.22">Mrps12</text>
<line x1="450.6" y1="247.44" x2="478.60" y2="247.44" stroke="#1a1a1a" stroke-width="0.75" stroke-dasharray="1.1 0.55"/>
<text x="0" y="0" transform="translate(479.20,250.94) scale(0.98,1)" font-size="7.6" stroke="#231f20" stroke-width="0.22">Timm10</text>
<text x="0" y="0" transform="translate(451.80,254.34) scale(0.98,1)" font-size="7.6" stroke="#231f20" stroke-width="0.22">Psmb1</text>
<line x1="450.6" y1="256.85" x2="478.60" y2="256.85" stroke="#1a1a1a" stroke-width="0.75" stroke-dasharray="1.1 0.55"/>
<text x="0" y="0" transform="translate(479.20,259.05) scale(0.98,1)" font-size="7.6" stroke="#231f20" stroke-width="0.22">Mrpl43</text>
<text x="0" y="0" transform="translate(451.80,265.25) scale(0.98,1)" font-size="7.6" stroke="#231f20" stroke-width="0.22">Mrps34</text>
<line x1="450.6" y1="266.25" x2="478.60" y2="266.25" stroke="#1a1a1a" stroke-width="0.75" stroke-dasharray="1.1 0.55"/>
<text x="0" y="0" transform="translate(479.20,268.45) scale(0.98,1)" font-size="7.6" stroke="#231f20" stroke-width="0.22">Mrps18a</text>
<text x="0" y="0" transform="translate(451.80,273.15) scale(0.98,1)" font-size="7.6" stroke="#231f20" stroke-width="0.22">Psma7</text>
<line x1="450.6" y1="275.65" x2="478.60" y2="275.65" stroke="#1a1a1a" stroke-width="0.75" stroke-dasharray="1.1 0.55"/>
<text x="0" y="0" transform="translate(479.20,277.85) scale(0.98,1)" font-size="7.6" stroke="#231f20" stroke-width="0.22">Psma2</text>
<text x="0" y="0" transform="translate(451.80,282.56) scale(0.98,1)" font-size="7.6" stroke="#231f20" stroke-width="0.22">Psmb5</text>
<line x1="450.6" y1="285.06" x2="478.60" y2="285.06" stroke="#1a1a1a" stroke-width="0.75" stroke-dasharray="1.1 0.55"/>
<text x="0" y="0" transform="translate(479.20,287.26) scale(0.98,1)" font-size="7.6" stroke="#231f20" stroke-width="0.22">Mrps10</text>
<text x="0" y="0" transform="translate(451.80,293.26) scale(0.98,1)" font-size="7.6" stroke="#231f20" stroke-width="0.22">Mrpl41</text>
<line x1="450.6" y1="294.46" x2="478.60" y2="294.46" stroke="#1a1a1a" stroke-width="0.75" stroke-dasharray="1.1 0.55"/>
<text x="0" y="0" transform="translate(479.20,296.66) scale(0.98,1)" font-size="7.6" stroke="#231f20" stroke-width="0.22">Mrpl22</text>
<text x="0" y="0" transform="translate(451.80,301.36) scale(0.98,1)" font-size="7.6" stroke="#231f20" stroke-width="0.22">Bax</text>
<line x1="450.6" y1="303.87" x2="478.60" y2="303.87" stroke="#1a1a1a" stroke-width="0.75" stroke-dasharray="1.1 0.55"/>
<text x="0" y="0" transform="translate(479.20,306.07) scale(0.98,1)" font-size="7.6" stroke="#231f20" stroke-width="0.22">Tspo</text>
<text x="0" y="0" transform="translate(451.80,310.77) scale(0.98,1)" font-size="7.6" stroke="#231f20" stroke-width="0.22">Coa3</text>
<line x1="450.6" y1="313.27" x2="478.60" y2="313.27" stroke="#1a1a1a" stroke-width="0.75" stroke-dasharray="1.1 0.55"/>
<text x="0" y="0" transform="translate(479.20,315.47) scale(0.98,1)" font-size="7.6" stroke="#231f20" stroke-width="0.22">Psmb2</text>
<text x="0" y="0" transform="translate(451.80,320.17) scale(0.98,1)" font-size="7.6" stroke="#231f20" stroke-width="0.22">Ndufa8</text>
<line x1="450.6" y1="322.67" x2="478.60" y2="322.67" stroke="#1a1a1a" stroke-width="0.75" stroke-dasharray="1.1 0.55"/>
<text x="0" y="0" transform="translate(479.20,324.87) scale(0.98,1)" font-size="7.6" stroke="#231f20" stroke-width="0.22">Mrpl55</text>
<text x="0" y="0" transform="translate(451.80,329.58) scale(0.98,1)" font-size="7.6" stroke="#231f20" stroke-width="0.22">Ndufs7</text>
<line x1="450.6" y1="332.08" x2="478.60" y2="332.08" stroke="#1a1a1a" stroke-width="0.75" stroke-dasharray="1.1 0.55"/>
<text x="0" y="0" transform="translate(479.20,334.28) scale(0.98,1)" font-size="7.6" stroke="#231f20" stroke-width="0.22">Psmb6</text>
<text x="0" y="0" transform="translate(451.80,340.28) scale(0.98,1)" font-size="7.6" stroke="#231f20" stroke-width="0.22">Timm13<tspan fill="#d4a017" stroke="none" font-size="8" dx="0.1">★</tspan></text>
<line x1="450.6" y1="341.48" x2="478.60" y2="341.48" stroke="#1a1a1a" stroke-width="0.75" stroke-dasharray="1.1 0.55"/>
<text x="0" y="0" transform="translate(479.20,343.68) scale(0.98,1)" font-size="7.6" stroke="#231f20" stroke-width="0.22">Gstp1</text>
<text x="0" y="0" transform="translate(451.80,348.38) scale(0.98,1)" font-size="7.6" stroke="#231f20" stroke-width="0.22">Mrpl13</text>
<line x1="450.6" y1="350.89" x2="478.60" y2="350.89" stroke="#1a1a1a" stroke-width="0.75" stroke-dasharray="1.1 0.55"/>
<text x="0" y="0" transform="translate(479.20,353.09) scale(0.98,1)" font-size="7.6" stroke="#231f20" stroke-width="0.22">Eif3k</text>
<text x="0" y="0" transform="translate(451.80,359.09) scale(0.98,1)" font-size="7.6" stroke="#231f20" stroke-width="0.22">Mrps14</text>
<line x1="450.6" y1="360.29" x2="478.60" y2="360.29" stroke="#1a1a1a" stroke-width="0.75" stroke-dasharray="1.1 0.55"/>
<text x="0" y="0" transform="translate(479.20,362.49) scale(0.98,1)" font-size="7.6" stroke="#231f20" stroke-width="0.22">Mrpl52</text>
<text x="0" y="0" transform="translate(451.80,367.19) scale(0.98,1)" font-size="7.6" stroke="#231f20" stroke-width="0.22">Rps8</text>
<line x1="450.6" y1="369.69" x2="478.60" y2="369.69" stroke="#1a1a1a" stroke-width="0.75" stroke-dasharray="1.1 0.55"/>
<text x="0" y="0" transform="translate(479.20,372.79) scale(0.98,1)" font-size="7.6" stroke="#231f20" stroke-width="0.22">Sod1</text>
<text x="0" y="0" transform="translate(451.80,376.60) scale(0.98,1)" font-size="7.6" stroke="#231f20" stroke-width="0.22">Slirp</text>
<line x1="450.6" y1="379.10" x2="478.60" y2="379.10" stroke="#1a1a1a" stroke-width="0.75" stroke-dasharray="1.1 0.55"/>
<text x="0" y="0" transform="translate(479.20,379.30) scale(0.98,1)" font-size="7.6" stroke="#231f20" stroke-width="0.22">Ndufa11<tspan fill="#d4a017" stroke="none" font-size="8" dx="0.1">★</tspan></text>
<text x="0" y="0" transform="translate(451.80,386.00) scale(0.98,1)" font-size="7.6" stroke="#231f20" stroke-width="0.22">Ndufb10</text>
<line x1="450.6" y1="388.50" x2="480.40" y2="388.50" stroke="#1a1a1a" stroke-width="0.75" stroke-dasharray="1.1 0.55"/>
<text x="0" y="0" transform="translate(481.00,391.70) scale(0.98,1)" font-size="7.6" stroke="#231f20" stroke-width="0.22">Rpl21</text>
<text x="0" y="0" transform="translate(451.80,395.40) scale(0.98,1)" font-size="7.6" stroke="#231f20" stroke-width="0.22">Ndufa13</text>
<line x1="450.6" y1="397.91" x2="478.60" y2="397.91" stroke="#1a1a1a" stroke-width="0.75" stroke-dasharray="1.1 0.55"/>
<text x="0" y="0" transform="translate(479.20,401.81) scale(0.98,1)" font-size="7.6" stroke="#231f20" stroke-width="0.22">Rpl27a</text>
<text x="0" y="0" transform="translate(451.80,404.81) scale(0.98,1)" font-size="7.6" stroke="#231f20" stroke-width="0.22">Rpl24</text>
<line x1="450.6" y1="407.31" x2="478.60" y2="407.31" stroke="#1a1a1a" stroke-width="0.75" stroke-dasharray="1.1 0.55"/>
<text x="0" y="0" transform="translate(479.20,409.51) scale(0.98,1)" font-size="7.6" stroke="#231f20" stroke-width="0.22">Rps7</text>
<text x="0" y="0" transform="translate(451.80,414.21) scale(0.98,1)" font-size="7.6" stroke="#231f20" stroke-width="0.22">Fis1<tspan fill="#d4a017" stroke="none" font-size="8" dx="0.1">★</tspan></text>
<line x1="450.6" y1="416.71" x2="478.60" y2="416.71" stroke="#1a1a1a" stroke-width="0.75" stroke-dasharray="1.1 0.55"/>
<text x="0" y="0" transform="translate(479.20,418.91) scale(0.98,1)" font-size="7.6" stroke="#231f20" stroke-width="0.22">Rpl13</text>
<text x="0" y="0" transform="translate(451.80,423.62) scale(0.98,1)" font-size="7.6" stroke="#231f20" stroke-width="0.22">Higd2a</text>
<line x1="450.6" y1="426.12" x2="478.60" y2="426.12" stroke="#1a1a1a" stroke-width="0.75" stroke-dasharray="1.1 0.55"/>
<text x="0" y="0" transform="translate(479.20,428.32) scale(0.98,1)" font-size="7.6" stroke="#231f20" stroke-width="0.22">Rps9</text>
<text x="0" y="0" transform="translate(451.80,433.02) scale(0.98,1)" font-size="7.6" stroke="#231f20" stroke-width="0.22">Rpl19</text>
<line x1="450.6" y1="435.52" x2="478.60" y2="435.52" stroke="#1a1a1a" stroke-width="0.75" stroke-dasharray="1.1 0.55"/>
<text x="0" y="0" transform="translate(479.20,439.02) scale(0.98,1)" font-size="7.6" stroke="#231f20" stroke-width="0.22">Ndufb11</text>
<text x="0" y="0" transform="translate(451.80,442.42) scale(0.98,1)" font-size="7.6" stroke="#231f20" stroke-width="0.22">Eef1b2</text>
<line x1="450.6" y1="444.93" x2="478.60" y2="444.93" stroke="#1a1a1a" stroke-width="0.75" stroke-dasharray="1.1 0.55"/>
<text x="0" y="0" transform="translate(479.20,447.93) scale(0.98,1)" font-size="7.6" stroke="#231f20" stroke-width="0.22">Rps4x</text>
<text x="0" y="0" transform="translate(451.80,451.83) scale(0.98,1)" font-size="7.6" stroke="#231f20" stroke-width="0.22">Rpl7</text>
<line x1="450.6" y1="454.33" x2="478.60" y2="454.33" stroke="#1a1a1a" stroke-width="0.75" stroke-dasharray="1.1 0.55"/>
<text x="0" y="0" transform="translate(479.20,456.53) scale(0.98,1)" font-size="7.6" stroke="#231f20" stroke-width="0.22">Rpl9</text>
<text x="0" y="0" transform="translate(451.80,461.23) scale(0.98,1)" font-size="7.6" stroke="#231f20" stroke-width="0.22">Mrpl2</text>
<line x1="450.6" y1="463.73" x2="478.60" y2="463.73" stroke="#1a1a1a" stroke-width="0.75" stroke-dasharray="1.1 0.55"/>
<text x="0" y="0" transform="translate(479.20,465.93) scale(0.98,1)" font-size="7.6" stroke="#231f20" stroke-width="0.22">Slc25a33</text>
<text x="0" y="0" transform="translate(451.80,470.64) scale(0.98,1)" font-size="7.6" stroke="#231f20" stroke-width="0.22">Chchd6</text>
<line x1="450.6" y1="473.14" x2="478.60" y2="473.14" stroke="#1a1a1a" stroke-width="0.75" stroke-dasharray="1.1 0.55"/>
<text x="0" y="0" transform="translate(479.20,475.34) scale(0.98,1)" font-size="7.6" stroke="#231f20" stroke-width="0.22">Tmem11</text>
<text x="0" y="0" transform="translate(451.80,480.04) scale(0.98,1)" font-size="7.6" stroke="#231f20" stroke-width="0.22">Ndufaf3</text>
<line x1="450.6" y1="482.54" x2="478.60" y2="482.54" stroke="#1a1a1a" stroke-width="0.75" stroke-dasharray="1.1 0.55"/>
<text x="0" y="0" transform="translate(479.20,484.74) scale(0.98,1)" font-size="7.6" stroke="#231f20" stroke-width="0.22">Mrpl17<tspan fill="#d4a017" stroke="none" font-size="8" dx="0.1">★</tspan></text>
<text x="0" y="0" transform="translate(451.80,489.44) scale(0.98,1)" font-size="7.6" stroke="#231f20" stroke-width="0.22">Ece2</text>
<line x1="450.6" y1="491.95" x2="478.60" y2="491.95" stroke="#1a1a1a" stroke-width="0.75" stroke-dasharray="1.1 0.55"/>
<text x="0" y="0" transform="translate(479.20,494.15) scale(0.98,1)" font-size="7.6" stroke="#231f20" stroke-width="0.22">Mrpl27</text>
<text x="0" y="0" transform="translate(451.80,498.85) scale(0.98,1)" font-size="7.6" stroke="#231f20" stroke-width="0.22">Smim20</text>
<rect x="333.10" y="506.1" width="2.64" height="6.9" fill="#0606ff"/>
<rect x="335.70" y="506.1" width="2.64" height="6.9" fill="#1313ff"/>
<rect x="338.29" y="506.1" width="2.64" height="6.9" fill="#2020ff"/>
<rect x="340.88" y="506.1" width="2.64" height="6.9" fill="#2d2dff"/>
<rect x="343.48" y="506.1" width="2.64" height="6.9" fill="#3939ff"/>
<rect x="346.08" y="506.1" width="2.64" height="6.9" fill="#4646ff"/>
<rect x="348.67" y="506.1" width="2.64" height="6.9" fill="#5353ff"/>
<rect x="351.26" y="506.1" width="2.64" height="6.9" fill="#6060ff"/>
<rect x="353.86" y="506.1" width="2.64" height="6.9" fill="#6c6cff"/>
<rect x="356.46" y="506.1" width="2.64" height="6.9" fill="#7979ff"/>
<rect x="359.05" y="506.1" width="2.64" height="6.9" fill="#8686ff"/>
<rect x="361.64" y="506.1" width="2.64" height="6.9" fill="#9393ff"/>
<rect x="364.24" y="506.1" width="2.64" height="6.9" fill="#9f9fff"/>
<rect x="366.84" y="506.1" width="2.64" height="6.9" fill="#acacff"/>
<rect x="369.43" y="506.1" width="2.64" height="6.9" fill="#b9b9ff"/>
<rect x="372.02" y="506.1" width="2.64" height="6.9" fill="#c6c6ff"/>
<rect x="374.62" y="506.1" width="2.64" height="6.9" fill="#d2d2ff"/>
<rect x="377.22" y="506.1" width="2.64" height="6.9" fill="#dfdfff"/>
<rect x="379.81" y="506.1" width="2.64" height="6.9" fill="#ececff"/>
<rect x="382.40" y="506.1" width="2.64" height="6.9" fill="#f9f9ff"/>
<rect x="385.00" y="506.1" width="2.64" height="6.9" fill="#fff9f9"/>
<rect x="387.60" y="506.1" width="2.64" height="6.9" fill="#ffecec"/>
<rect x="390.19" y="506.1" width="2.64" height="6.9" fill="#ffdfdf"/>
<rect x="392.78" y="506.1" width="2.64" height="6.9" fill="#ffd2d2"/>
<rect x="395.38" y="506.1" width="2.64" height="6.9" fill="#ffc6c6"/>
<rect x="397.98" y="506.1" width="2.64" height="6.9" fill="#ffb9b9"/>
<rect x="400.57" y="506.1" width="2.64" height="6.9" fill="#ffacac"/>
<rect x="403.16" y="506.1" width="2.64" height="6.9" fill="#ff9f9f"/>
<rect x="405.76" y="506.1" width="2.64" height="6.9" fill="#ff9393"/>
<rect x="408.36" y="506.1" width="2.64" height="6.9" fill="#ff8686"/>
<rect x="410.95" y="506.1" width="2.64" height="6.9" fill="#ff7979"/>
<rect x="413.54" y="506.1" width="2.64" height="6.9" fill="#ff6c6c"/>
<rect x="416.14" y="506.1" width="2.64" height="6.9" fill="#ff6060"/>
<rect x="418.74" y="506.1" width="2.64" height="6.9" fill="#ff5353"/>
<rect x="421.33" y="506.1" width="2.64" height="6.9" fill="#ff4646"/>
<rect x="423.92" y="506.1" width="2.64" height="6.9" fill="#ff3939"/>
<rect x="426.52" y="506.1" width="2.64" height="6.9" fill="#ff2d2d"/>
<rect x="429.12" y="506.1" width="2.64" height="6.9" fill="#ff2020"/>
<rect x="431.71" y="506.1" width="2.64" height="6.9" fill="#ff1313"/>
<rect x="434.30" y="506.1" width="2.64" height="6.9" fill="#ff0606"/>
<text x="354.40" y="521.50" font-size="7.6" text-anchor="middle">−0.5</text>
<text x="385.00" y="521.50" font-size="7.6" text-anchor="middle">0</text>
<text x="411.30" y="521.50" font-size="7.6" text-anchor="middle">0.5</text>
<text x="435.10" y="521.50" font-size="7.6" text-anchor="middle">1</text>
<path d="M307.40,44.76H303.30V49.46H307.40M307.40,40.05H299.60V47.11H303.30M307.40,54.16H303.80V58.86H307.40M307.40,63.56H302.40V68.27H307.40M307.40,77.67H303.19V82.37H307.40M307.40,72.97H302.02V80.02H303.19M307.40,87.07H303.61V91.78H307.40M307.40,96.48H303.33V101.18H307.40M303.61,89.42H302.58V98.83H303.33M302.02,76.49H300.50V94.13H302.58M302.40,65.91H299.60V85.31H300.50M303.80,56.51H298.70V75.61H299.60M307.40,105.88H302.94V110.58H307.40M307.40,115.29H303.42V119.99H307.40M302.94,108.23H301.02V117.64H303.42M307.40,129.39H303.75V134.09H307.40M307.40,124.69H303.01V131.74H303.75M307.40,138.80H303.49V143.50H307.40M303.01,128.22H301.69V141.15H303.49M301.02,112.93H298.30V134.68H301.69M298.70,66.06H295.70V123.81H298.30M299.60,43.58H292.40V94.93H295.70M307.40,35.35H286.30V69.26H292.40M307.40,148.20H296.60V152.90H307.40M307.40,157.60H298.60V162.31H307.40M307.40,167.01H302.96V171.71H307.40M307.40,176.41H302.72V181.11H307.40M302.96,169.36H300.89V178.76H302.72M307.40,185.82H303.16V190.52H307.40M307.40,195.22H302.76V199.92H307.40M303.16,188.17H301.73V197.57H302.76M300.89,174.06H298.40V192.87H301.73M307.40,204.62H303.57V209.33H307.40M307.40,214.03H303.48V218.73H307.40M303.57,206.97H302.56V216.38H303.48M307.40,223.43H303.61V228.13H307.40M307.40,232.84H303.79V237.54H307.40M303.61,225.78H302.83V235.19H303.79M302.56,211.68H301.08V230.48H302.83M307.40,242.24H303.97V246.94H307.40M307.40,251.64H303.48V256.35H307.40M303.97,244.59H302.73V253.99H303.48M307.40,261.05H303.18V265.75H307.40M307.40,270.45H303.41V275.15H307.40M303.18,263.40H302.24V272.80H303.41M302.73,249.29H300.61V268.10H302.24M301.08,221.08H297.60V258.70H300.61M298.40,183.46H295.20V239.89H297.60M307.40,284.56H304.66V289.26H307.40M307.40,279.86H304.26V286.91H304.66M307.40,293.96H304.25V298.66H307.40M304.26,283.38H303.65V296.31H304.25M307.40,303.37H304.09V308.07H307.40M307.40,312.77H304.41V317.47H307.40M304.41,315.12H304.06V322.17H307.40M304.09,305.72H303.26V318.65H304.06M303.65,289.85H302.20V312.18H303.26M307.40,326.88H303.57V331.58H307.40M307.40,340.98H304.12V345.68H307.40M307.40,336.28H303.54V343.33H304.12M303.57,329.23H302.87V339.81H303.54M307.40,350.39H303.95V355.09H307.40M307.40,359.79H304.51V364.49H307.40M304.51,362.14H303.99V369.19H307.40M303.95,352.74H303.21V365.67H303.99M302.87,334.52H301.94V359.20H303.21M302.20,301.02H299.50V346.86H301.94M307.40,373.90H303.68V378.60H307.40M307.40,388.00H304.29V392.70H307.40M307.40,383.30H303.81V390.35H304.29M303.68,376.25H302.94V386.83H303.81M307.40,397.41H303.86V402.11H307.40M307.40,406.81H304.06V411.51H307.40M303.86,399.76H302.96V409.16H304.06M302.94,381.54H301.89V404.46H302.96M307.40,416.21H304.61V420.92H307.40M304.61,418.57H304.35V425.62H307.40M307.40,430.32H304.38V435.02H307.40M304.35,422.09H303.70V432.67H304.38M307.40,439.72H303.85V444.43H307.40M307.40,449.13H303.85V453.83H307.40M303.85,442.08H303.32V451.48H303.85M303.70,427.38H302.56V446.78H303.32M301.89,393.00H299.90V437.08H302.56M299.50,323.94H297.40V415.04H299.90M307.40,463.23H303.36V467.94H307.40M307.40,472.64H303.45V477.34H307.40M303.36,465.59H302.66V474.99H303.45M307.40,482.04H303.19V486.74H307.40M307.40,491.45H303.74V496.15H307.40M303.19,484.39H302.39V493.80H303.74M302.66,470.29H301.20V489.10H302.39M307.40,458.53H296.10V479.69H301.20M297.40,369.49H294.70V469.11H296.10M295.20,211.68H291.80V419.30H294.70M298.60,159.95H288.40V315.49H291.80M296.60,150.55H282.20V237.72H288.40M286.30,52.30H276.30V194.14H282.20" stroke="#3a3a3a" stroke-width="0.8" fill="none"/>
</svg>
</body></html>
